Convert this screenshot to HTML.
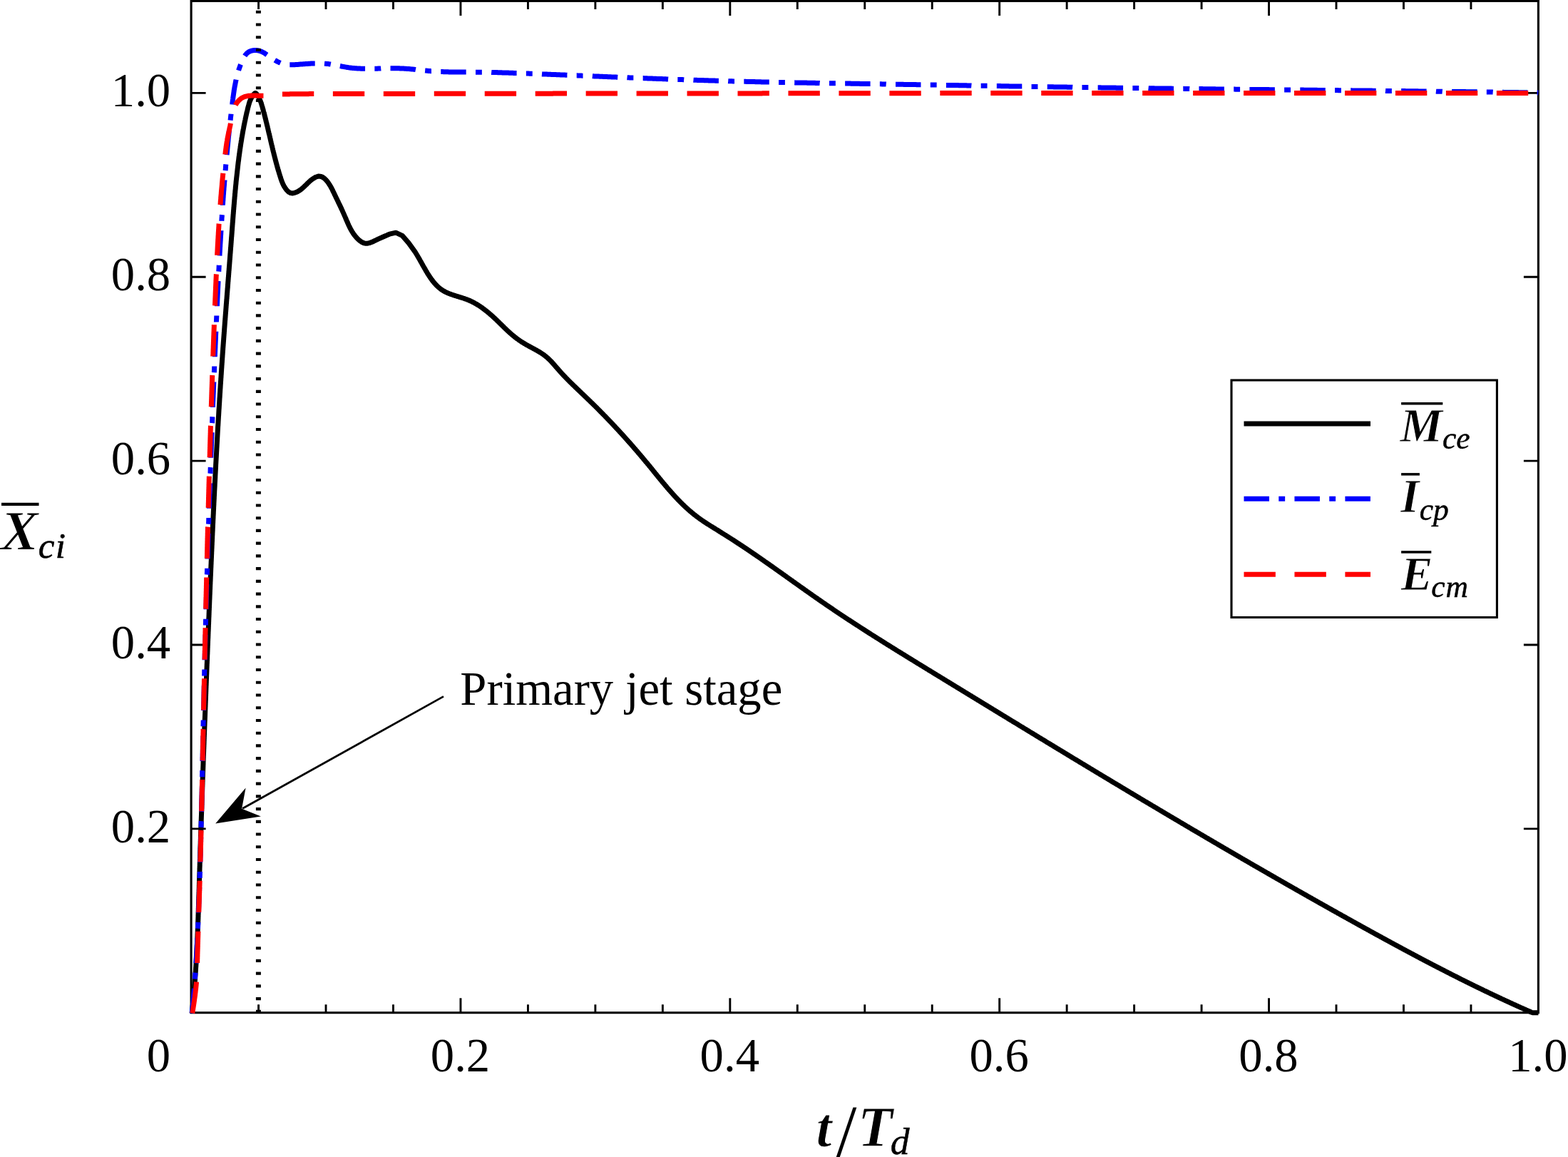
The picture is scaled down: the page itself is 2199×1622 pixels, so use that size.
<!DOCTYPE html>
<html lang="en"><head><meta charset="utf-8"><title>Primary jet stage</title>
<style>
html,body{margin:0;padding:0;background:#fff;}
body{width:2199px;height:1622px;overflow:hidden;}
svg{display:block;}
text{font-family:"Liberation Serif","Times New Roman",serif;fill:#000;}
.tk{font-size:67px;}
.bi{font-style:italic;font-weight:bold;}
.it{font-style:italic;}
</style></head><body>
<svg xmlns="http://www.w3.org/2000/svg" width="2199" height="1622" viewBox="0 0 2199 1622">
<rect x="0" y="0" width="2199" height="1622" fill="#fff"/>

<g fill="none" stroke="#000" stroke-width="3.1">
<rect x="268.1" y="1.4" width="1889.3000000000002" height="1418.3"/>
<path d="M362.57,1419.7 v-11.5 M362.57,1.4 v11.5 M457.03,1419.7 v-11.5 M457.03,1.4 v11.5 M551.50,1419.7 v-11.5 M551.50,1.4 v11.5 M645.96,1419.7 v-20.5 M645.96,1.4 v20.5 M740.43,1419.7 v-11.5 M740.43,1.4 v11.5 M834.89,1419.7 v-11.5 M834.89,1.4 v11.5 M929.36,1419.7 v-11.5 M929.36,1.4 v11.5 M1023.82,1419.7 v-20.5 M1023.82,1.4 v20.5 M1118.29,1419.7 v-11.5 M1118.29,1.4 v11.5 M1212.75,1419.7 v-11.5 M1212.75,1.4 v11.5 M1307.22,1419.7 v-11.5 M1307.22,1.4 v11.5 M1401.68,1419.7 v-20.5 M1401.68,1.4 v20.5 M1496.14,1419.7 v-11.5 M1496.14,1.4 v11.5 M1590.61,1419.7 v-11.5 M1590.61,1.4 v11.5 M1685.08,1419.7 v-11.5 M1685.08,1.4 v11.5 M1779.54,1419.7 v-20.5 M1779.54,1.4 v20.5 M1874.01,1419.7 v-11.5 M1874.01,1.4 v11.5 M1968.47,1419.7 v-11.5 M1968.47,1.4 v11.5 M2062.94,1419.7 v-11.5 M2062.94,1.4 v11.5 M268.1,1161.83 h20.5 M2157.4,1161.83 h-20.5 M268.1,903.95 h20.5 M2157.4,903.95 h-20.5 M268.1,646.08 h20.5 M2157.4,646.08 h-20.5 M268.1,388.21 h20.5 M2157.4,388.21 h-20.5 M268.1,130.34 h20.5 M2157.4,130.34 h-20.5" stroke-width="2.9"/>
</g>
<g fill="none" stroke-linejoin="round">
<path d="M269.1,1420.5 L269.2,1419.6 L269.3,1418.7 L269.4,1417.8 L269.5,1416.9 L269.6,1416.0 L269.7,1415.1 L269.8,1414.2 L269.9,1413.3 L270.0,1412.4 L270.1,1411.5 L270.2,1410.6 L270.3,1409.7 L270.4,1408.8 L270.5,1407.9 L270.6,1407.0 L270.7,1406.1 L270.8,1405.2 L270.9,1404.3 L270.9,1403.4 L271.0,1402.5 L271.1,1401.6 L271.2,1400.7 L271.3,1399.8 L271.4,1398.9 L271.5,1398.0 L271.5,1397.1 L271.6,1396.2 L271.7,1395.3 L271.8,1394.4 L271.9,1393.5 L271.9,1392.6 L272.0,1391.7 L272.1,1390.8 L272.2,1389.9 L272.3,1389.0 L272.3,1388.1 L272.4,1387.2 L272.5,1386.3 L272.6,1385.4 L272.6,1384.5 L272.7,1383.6 L272.8,1382.7 L272.8,1381.8 L272.9,1380.9 L273.0,1380.0 L273.1,1379.1 L273.1,1378.2 L273.2,1377.3 L273.3,1376.4 L273.3,1375.5 L273.4,1374.6 L273.5,1373.7 L273.5,1372.8 L273.6,1371.9 L273.7,1371.0 L273.7,1370.1 L273.8,1369.2 L273.9,1368.3 L273.9,1367.4 L274.0,1366.5 L274.1,1365.6 L274.1,1364.7 L274.2,1363.8 L274.2,1362.9 L274.3,1362.0 L274.4,1361.1 L274.4,1360.2 L274.5,1359.3 L274.5,1358.4 L274.6,1357.5 L274.6,1356.6 L274.7,1355.7 L274.8,1354.8 L274.8,1353.9 L274.9,1353.0 L274.9,1352.1 L275.0,1351.2 L275.0,1350.3 L275.1,1349.4 L275.1,1348.5 L275.2,1347.6 L275.2,1346.7 L275.3,1345.8 L275.3,1344.9 L275.4,1344.0 L275.4,1343.1 L275.5,1342.2 L275.5,1341.3 L275.6,1340.4 L275.6,1339.5 L275.7,1338.6 L275.7,1337.7 L275.8,1336.8 L275.8,1335.9 L275.9,1335.0 L275.9,1334.1 L276.0,1333.2 L276.0,1332.3 L276.1,1331.4 L276.1,1330.5 L276.2,1329.6 L276.2,1328.7 L276.2,1327.8 L276.3,1326.9 L276.3,1326.0 L276.4,1325.1 L276.4,1324.2 L276.5,1323.3 L276.5,1322.4 L276.5,1321.5 L276.6,1320.6 L276.6,1319.7 L276.7,1318.8 L276.7,1317.9 L276.7,1317.0 L276.8,1316.1 L276.8,1315.2 L276.9,1314.3 L276.9,1313.4 L276.9,1312.5 L277.0,1311.6 L277.0,1310.7 L277.0,1309.8 L277.1,1308.9 L277.1,1308.0 L277.2,1307.1 L277.2,1306.1 L277.2,1305.2 L277.3,1304.3 L277.3,1303.4 L277.3,1302.5 L277.4,1301.6 L277.4,1300.7 L277.4,1299.8 L277.5,1298.9 L277.5,1298.0 L277.5,1297.1 L277.6,1296.2 L277.6,1295.3 L277.6,1294.4 L277.7,1293.5 L277.7,1292.6 L277.7,1291.7 L277.8,1290.8 L277.8,1289.9 L277.8,1289.0 L277.9,1288.1 L277.9,1287.2 L277.9,1286.3 L278.0,1285.4 L278.0,1284.5 L278.0,1283.6 L278.0,1282.7 L278.1,1281.8 L278.1,1280.9 L278.1,1280.0 L278.2,1279.1 L278.2,1278.2 L278.2,1277.3 L278.3,1276.4 L278.3,1275.5 L278.3,1274.6 L278.3,1273.7 L278.4,1272.8 L278.4,1271.9 L278.4,1271.0 L278.5,1270.1 L278.5,1269.2 L278.5,1268.3 L278.5,1267.3 L278.6,1266.4 L278.6,1265.5 L278.6,1264.6 L278.7,1263.7 L278.7,1262.8 L278.7,1261.9 L278.7,1261.0 L278.8,1260.1 L278.8,1259.2 L278.8,1258.3 L278.8,1257.4 L278.9,1256.5 L278.9,1255.6 L278.9,1254.7 L279.0,1253.8 L279.0,1252.9 L279.0,1252.0 L279.0,1251.1 L279.1,1250.2 L279.1,1249.3 L279.1,1248.4 L279.1,1247.5 L279.2,1246.6 L279.2,1245.7 L279.2,1244.8 L279.3,1243.9 L279.3,1243.0 L279.3,1242.1 L279.3,1241.2 L279.4,1240.3 L279.4,1239.4 L279.4,1238.5 L279.4,1237.6 L279.5,1236.7 L279.5,1235.8 L279.5,1234.9 L279.5,1234.0 L279.6,1233.1 L279.6,1232.1 L279.6,1231.2 L279.7,1230.3 L279.7,1229.4 L279.7,1228.5 L279.7,1227.6 L279.8,1226.7 L279.8,1225.8 L279.8,1224.9 L279.9,1224.0 L279.9,1223.1 L279.9,1222.2 L279.9,1221.3 L280.0,1220.4 L280.0,1219.5 L280.0,1218.6 L280.0,1217.7 L280.1,1216.8 L280.1,1215.9 L280.1,1215.0 L280.2,1214.1 L280.2,1213.2 L280.2,1212.3 L280.2,1211.4 L280.3,1210.5 L280.3,1209.6 L280.3,1208.7 L280.4,1207.8 L280.4,1206.9 L280.4,1206.0 L280.4,1205.1 L280.5,1204.2 L280.5,1203.3 L280.5,1202.4 L280.5,1201.5 L280.6,1200.6 L280.6,1199.7 L280.6,1198.8 L280.7,1197.9 L280.7,1197.0 L280.7,1196.0 L280.7,1195.1 L280.8,1194.2 L280.8,1193.3 L280.8,1192.4 L280.9,1191.5 L280.9,1190.6 L280.9,1189.7 L280.9,1188.8 L281.0,1187.9 L281.0,1187.0 L281.0,1186.1 L281.1,1185.2 L281.1,1184.3 L281.1,1183.4 L281.2,1182.5 L281.2,1181.6 L281.2,1180.7 L281.2,1179.8 L281.3,1178.9 L281.3,1178.0 L281.3,1177.1 L281.4,1176.2 L281.4,1175.3 L281.4,1174.4 L281.4,1173.5 L281.5,1172.6 L281.5,1171.7 L281.5,1170.8 L281.6,1169.9 L281.6,1169.0 L281.6,1168.1 L281.6,1167.2 L281.7,1166.3 L281.7,1165.4 L281.7,1164.5 L281.8,1163.6 L281.8,1162.7 L281.8,1161.8 L281.9,1160.9 L281.9,1160.0 L281.9,1159.1 L281.9,1158.1 L282.0,1157.2 L282.0,1156.3 L282.0,1155.4 L282.1,1154.5 L282.1,1153.6 L282.1,1152.7 L282.2,1151.8 L282.2,1150.9 L282.2,1150.0 L282.2,1149.1 L282.3,1148.2 L282.3,1147.3 L282.3,1146.4 L282.4,1145.5 L282.4,1144.6 L282.4,1143.7 L282.5,1142.8 L282.5,1141.9 L282.5,1141.0 L282.6,1140.1 L282.6,1139.2 L282.6,1138.3 L282.6,1137.4 L282.7,1136.5 L282.7,1135.6 L282.7,1134.7 L282.8,1133.8 L282.8,1132.9 L282.8,1132.0 L282.9,1131.1 L282.9,1130.2 L282.9,1129.3 L283.0,1128.4 L283.0,1127.5 L283.0,1126.6 L283.0,1125.7 L283.1,1124.8 L283.1,1123.9 L283.1,1123.0 L283.2,1122.1 L283.2,1121.2 L283.2,1120.3 L283.3,1119.4 L283.3,1118.5 L283.3,1117.5 L283.4,1116.6 L283.4,1115.7 L283.4,1114.8 L283.4,1113.9 L283.5,1113.0 L283.5,1112.1 L283.5,1111.2 L283.6,1110.3 L283.6,1109.4 L283.6,1108.5 L283.7,1107.6 L283.7,1106.7 L283.7,1105.8 L283.8,1104.9 L283.8,1104.0 L283.8,1103.1 L283.9,1102.2 L283.9,1101.3 L283.9,1100.4 L284.0,1099.5 L284.0,1098.6 L284.0,1097.7 L284.0,1096.8 L284.1,1095.9 L284.1,1095.0 L284.1,1094.1 L284.2,1093.2 L284.2,1092.3 L284.2,1091.4 L284.3,1090.5 L284.3,1089.6 L284.3,1088.7 L284.4,1087.8 L284.4,1086.9 L284.4,1086.0 L284.5,1085.1 L284.5,1084.2 L284.5,1083.3 L284.6,1082.4 L284.6,1081.5 L284.6,1080.6 L284.7,1079.7 L284.7,1078.8 L284.7,1077.9 L284.8,1077.0 L284.8,1076.1 L284.8,1075.1 L284.9,1074.2 L284.9,1073.3 L284.9,1072.4 L285.0,1071.5 L285.0,1070.6 L285.0,1069.7 L285.0,1068.8 L285.1,1067.9 L285.1,1067.0 L285.1,1066.1 L285.2,1065.2 L285.2,1064.3 L285.2,1063.4 L285.3,1062.5 L285.3,1061.6 L285.3,1060.7 L285.4,1059.8 L285.4,1058.9 L285.4,1058.0 L285.5,1057.1 L285.5,1056.2 L285.5,1055.3 L285.6,1054.4 L285.6,1053.5 L285.6,1052.6 L285.7,1051.7 L285.7,1050.8 L285.7,1049.9 L285.8,1049.0 L285.8,1048.1 L285.8,1047.2 L285.9,1046.3 L285.9,1045.4 L285.9,1044.5 L286.0,1043.6 L286.0,1042.7 L286.0,1041.8 L286.1,1040.9 L286.1,1040.0 L286.1,1039.1 L286.2,1038.2 L286.2,1037.3 L286.2,1036.4 L286.3,1035.5 L286.3,1034.6 L286.3,1033.7 L286.4,1032.7 L286.4,1031.8 L286.4,1030.9 L286.5,1030.0 L286.5,1029.1 L286.5,1028.2 L286.6,1027.3 L286.6,1026.4 L286.6,1025.5 L286.7,1024.6 L286.7,1023.7 L286.7,1022.8 L286.8,1021.9 L286.8,1021.0 L286.8,1020.1 L286.9,1019.2 L286.9,1018.3 L286.9,1017.4 L287.0,1016.5 L287.0,1015.6 L287.0,1014.7 L287.1,1013.8 L287.1,1012.9 L287.1,1012.0 L287.2,1011.1 L287.2,1010.2 L287.3,1009.3 L287.3,1008.4 L287.3,1007.5 L287.4,1006.6 L287.4,1005.7 L287.4,1004.8 L287.5,1003.9 L287.5,1003.0 L287.5,1002.1 L287.6,1001.2 L287.6,1000.3 L287.6,999.4 L287.7,998.5 L287.7,997.6 L287.7,996.7 L287.8,995.8 L287.8,994.9 L287.8,994.0 L287.9,993.1 L287.9,992.2 L287.9,991.3 L288.0,990.4 L288.0,989.5 L288.0,988.5 L288.1,987.6 L288.1,986.7 L288.1,985.8 L288.2,984.9 L288.2,984.0 L288.2,983.1 L288.3,982.2 L288.3,981.3 L288.4,980.4 L288.4,979.5 L288.4,978.6 L288.5,977.7 L288.5,976.8 L288.5,975.9 L288.6,975.0 L288.6,974.1 L288.6,973.2 L288.7,972.3 L288.7,971.4 L288.7,970.5 L288.8,969.6 L288.8,968.7 L288.8,967.8 L288.9,966.9 L288.9,966.0 L288.9,965.1 L289.0,964.2 L289.0,963.3 L289.0,962.4 L289.1,961.5 L289.1,960.6 L289.2,959.7 L289.2,958.8 L289.2,957.9 L289.3,957.0 L289.3,956.1 L289.3,955.2 L289.4,954.3 L289.4,953.4 L289.4,952.5 L289.5,951.6 L289.5,950.7 L289.5,949.8 L289.6,948.9 L289.6,948.0 L289.6,947.1 L289.7,946.2 L289.7,945.2 L289.8,944.3 L289.8,943.4 L289.8,942.5 L289.9,941.6 L289.9,940.7 L289.9,939.8 L290.0,938.9 L290.0,938.0 L290.0,937.1 L290.1,936.2 L290.1,935.3 L290.1,934.4 L290.2,933.5 L290.2,932.6 L290.2,931.7 L290.3,930.8 L290.3,929.9 L290.4,929.0 L290.4,928.1 L290.4,927.2 L290.5,926.3 L290.5,925.4 L290.5,924.5 L290.6,923.6 L290.6,922.7 L290.6,921.8 L290.7,920.9 L290.7,920.0 L290.7,919.1 L290.8,918.2 L290.8,917.3 L290.9,916.4 L290.9,915.5 L290.9,914.6 L291.0,913.7 L291.0,912.8 L291.0,911.9 L291.1,911.0 L291.1,910.1 L291.1,909.2 L291.2,908.3 L291.2,907.4 L291.2,906.5 L291.3,905.6 L291.3,904.7 L291.4,903.8 L291.4,902.8 L291.4,901.9 L291.5,901.0 L291.5,900.1 L291.5,899.2 L291.6,898.3 L291.6,897.4 L291.6,896.5 L291.7,895.6 L291.7,894.7 L291.8,893.8 L291.8,892.9 L291.8,892.0 L291.9,891.1 L291.9,890.2 L291.9,889.3 L292.0,888.4 L292.0,887.5 L292.0,886.6 L292.1,885.7 L292.1,884.8 L292.2,883.9 L292.2,883.0 L292.2,882.1 L292.3,881.2 L292.3,880.3 L292.3,879.4 L292.4,878.5 L292.4,877.6 L292.4,876.7 L292.5,875.8 L292.5,874.9 L292.6,874.0 L292.6,873.1 L292.6,872.2 L292.7,871.3 L292.7,870.4 L292.7,869.5 L292.8,868.6 L292.8,867.7 L292.8,866.8 L292.9,865.9 L292.9,865.0 L293.0,864.1 L293.0,863.2 L293.0,862.3 L293.1,861.4 L293.1,860.4 L293.1,859.5 L293.2,858.6 L293.2,857.7 L293.2,856.8 L293.3,855.9 L293.3,855.0 L293.4,854.1 L293.4,853.2 L293.4,852.3 L293.5,851.4 L293.5,850.5 L293.5,849.6 L293.6,848.7 L293.6,847.8 L293.7,846.9 L293.7,846.0 L293.7,845.1 L293.8,844.2 L293.8,843.3 L293.8,842.4 L293.9,841.5 L293.9,840.6 L294.0,839.7 L294.0,838.8 L294.0,837.9 L294.1,837.0 L294.1,836.1 L294.1,835.2 L294.2,834.3 L294.2,833.4 L294.3,832.5 L294.3,831.6 L294.3,830.7 L294.4,829.8 L294.4,828.9 L294.4,828.0 L294.5,827.1 L294.5,826.2 L294.6,825.3 L294.6,824.4 L294.6,823.5 L294.7,822.6 L294.7,821.7 L294.7,820.8 L294.8,819.8 L294.8,818.9 L294.9,818.0 L294.9,817.1 L294.9,816.2 L295.0,815.3 L295.0,814.4 L295.1,813.5 L295.1,812.6 L295.1,811.7 L295.2,810.8 L295.2,809.9 L295.2,809.0 L295.3,808.1 L295.3,807.2 L295.4,806.3 L295.4,805.4 L295.4,804.5 L295.5,803.6 L295.5,802.7 L295.6,801.8 L295.6,800.9 L295.6,800.0 L295.7,799.1 L295.7,798.2 L295.7,797.3 L295.8,796.4 L295.8,795.5 L295.9,794.6 L295.9,793.7 L295.9,792.8 L296.0,791.9 L296.0,791.0 L296.1,790.1 L296.1,789.2 L296.1,788.3 L296.2,787.4 L296.2,786.5 L296.3,785.6 L296.3,784.7 L296.3,783.8 L296.4,782.9 L296.4,782.0 L296.5,781.1 L296.5,780.2 L296.5,779.3 L296.6,778.4 L296.6,777.4 L296.7,776.5 L296.7,775.6 L296.7,774.7 L296.8,773.8 L296.8,772.9 L296.9,772.0 L296.9,771.1 L296.9,770.2 L297.0,769.3 L297.0,768.4 L297.1,767.5 L297.1,766.6 L297.1,765.7 L297.2,764.8 L297.2,763.9 L297.3,763.0 L297.3,762.1 L297.3,761.2 L297.4,760.3 L297.4,759.4 L297.5,758.5 L297.5,757.6 L297.5,756.7 L297.6,755.8 L297.6,754.9 L297.7,754.0 L297.7,753.1 L297.7,752.2 L297.8,751.3 L297.8,750.4 L297.9,749.5 L297.9,748.6 L297.9,747.7 L298.0,746.8 L298.0,745.9 L298.1,745.0 L298.1,744.1 L298.2,743.2 L298.2,742.3 L298.2,741.4 L298.3,740.5 L298.3,739.6 L298.4,738.7 L298.4,737.8 L298.4,736.9 L298.5,736.0 L298.5,735.1 L298.6,734.1 L298.6,733.2 L298.7,732.3 L298.7,731.4 L298.7,730.5 L298.8,729.6 L298.8,728.7 L298.9,727.8 L298.9,726.9 L299.0,726.0 L299.0,725.1 L299.0,724.2 L299.1,723.3 L299.1,722.4 L299.2,721.5 L299.2,720.6 L299.3,719.7 L299.3,718.8 L299.3,717.9 L299.4,717.0 L299.4,716.1 L299.5,715.2 L299.5,714.3 L299.6,713.4 L299.6,712.5 L299.6,711.6 L299.7,710.7 L299.7,709.8 L299.8,708.9 L299.8,708.0 L299.9,707.1 L299.9,706.2 L299.9,705.3 L300.0,704.4 L300.0,703.5 L300.1,702.6 L300.1,701.7 L300.2,700.8 L300.2,699.9 L300.3,699.0 L300.3,698.1 L300.3,697.2 L300.4,696.3 L300.4,695.4 L300.5,694.5 L300.5,693.6 L300.6,692.7 L300.6,691.8 L300.7,690.9 L300.7,690.0 L300.7,689.1 L300.8,688.2 L300.8,687.3 L300.9,686.3 L300.9,685.4 L301.0,684.5 L301.0,683.6 L301.1,682.7 L301.1,681.8 L301.2,680.9 L301.2,680.0 L301.2,679.1 L301.3,678.2 L301.3,677.3 L301.4,676.4 L301.4,675.5 L301.5,674.6 L301.5,673.7 L301.6,672.8 L301.6,671.9 L301.7,671.0 L301.7,670.1 L301.8,669.2 L301.8,668.3 L301.8,667.4 L301.9,666.5 L301.9,665.6 L302.0,664.7 L302.0,663.8 L302.1,662.9 L302.1,662.0 L302.2,661.1 L302.2,660.2 L302.3,659.3 L302.3,658.4 L302.4,657.5 L302.4,656.6 L302.5,655.7 L302.5,654.8 L302.6,653.9 L302.6,653.0 L302.6,652.1 L302.7,651.2 L302.7,650.3 L302.8,649.4 L302.8,648.5 L302.9,647.6 L302.9,646.7 L303.0,645.8 L303.0,644.9 L303.1,644.0 L303.1,643.1 L303.2,642.2 L303.2,641.3 L303.3,640.4 L303.3,639.5 L303.4,638.6 L303.4,637.7 L303.5,636.8 L303.5,635.9 L303.6,635.0 L303.6,634.1 L303.7,633.2 L303.7,632.3 L303.8,631.3 L303.8,630.4 L303.9,629.5 L303.9,628.6 L304.0,627.7 L304.0,626.8 L304.1,625.9 L304.1,625.0 L304.2,624.1 L304.2,623.2 L304.3,622.3 L304.3,621.4 L304.4,620.5 L304.4,619.6 L304.5,618.7 L304.5,617.8 L304.6,616.9 L304.6,616.0 L304.7,615.1 L304.7,614.2 L304.8,613.3 L304.8,612.4 L304.9,611.5 L304.9,610.6 L305.0,609.7 L305.0,608.8 L305.1,607.9 L305.1,607.0 L305.2,606.1 L305.2,605.2 L305.3,604.3 L305.3,603.4 L305.4,602.5 L305.4,601.6 L305.5,600.7 L305.5,599.8 L305.6,598.9 L305.6,598.0 L305.7,597.1 L305.8,596.2 L305.8,595.3 L305.9,594.4 L305.9,593.5 L306.0,592.6 L306.0,591.7 L306.1,590.8 L306.1,589.9 L306.2,589.0 L306.2,588.1 L306.3,587.2 L306.3,586.3 L306.4,585.4 L306.4,584.5 L306.5,583.6 L306.6,582.7 L306.6,581.8 L306.7,580.9 L306.7,580.0 L306.8,579.1 L306.8,578.2 L306.9,577.3 L306.9,576.4 L307.0,575.5 L307.0,574.6 L307.1,573.7 L307.2,572.8 L307.2,571.9 L307.3,571.0 L307.3,570.1 L307.4,569.2 L307.4,568.3 L307.5,567.4 L307.5,566.5 L307.6,565.6 L307.7,564.7 L307.7,563.8 L307.8,562.9 L307.8,562.0 L307.9,561.1 L307.9,560.2 L308.0,559.3 L308.0,558.4 L308.1,557.5 L308.2,556.6 L308.2,555.6 L308.3,554.7 L308.3,553.8 L308.4,552.9 L308.4,552.0 L308.5,551.1 L308.6,550.2 L308.6,549.3 L308.7,548.4 L308.7,547.5 L308.8,546.6 L308.8,545.7 L308.9,544.8 L309.0,543.9 L309.0,543.0 L309.1,542.1 L309.1,541.2 L309.2,540.3 L309.2,539.4 L309.3,538.5 L309.4,537.6 L309.4,536.7 L309.5,535.8 L309.5,534.9 L309.6,534.0 L309.7,533.1 L309.7,532.2 L309.8,531.3 L309.8,530.4 L309.9,529.5 L310.0,528.6 L310.0,527.7 L310.1,526.8 L310.1,525.9 L310.2,525.0 L310.3,524.1 L310.3,523.2 L310.4,522.3 L310.4,521.4 L310.5,520.5 L310.6,519.6 L310.6,518.7 L310.7,517.8 L310.7,516.9 L310.8,516.0 L310.9,515.1 L310.9,514.2 L311.0,513.3 L311.0,512.4 L311.1,511.5 L311.2,510.6 L311.2,509.7 L311.3,508.8 L311.4,507.9 L311.4,507.0 L311.5,506.1 L311.5,505.2 L311.6,504.3 L311.7,503.4 L311.7,502.5 L311.8,501.6 L311.9,500.7 L311.9,499.8 L312.0,498.9 L312.0,498.0 L312.1,497.1 L312.2,496.2 L312.2,495.3 L312.3,494.4 L312.4,493.5 L312.4,492.6 L312.5,491.7 L312.6,490.8 L312.6,489.9 L312.7,489.0 L312.7,488.1 L312.8,487.2 L312.9,486.3 L312.9,485.4 L313.0,484.5 L313.1,483.6 L313.1,482.7 L313.2,481.8 L313.3,480.9 L313.3,480.0 L313.4,479.1 L313.5,478.2 L313.5,477.3 L313.6,476.4 L313.7,475.5 L313.7,474.6 L313.8,473.7 L313.9,472.8 L313.9,471.9 L314.0,471.0 L314.1,470.1 L314.1,469.2 L314.2,468.3 L314.3,467.4 L314.3,466.5 L314.4,465.6 L314.5,464.7 L314.5,463.8 L314.6,462.9 L314.7,462.0 L314.7,461.1 L314.8,460.2 L314.9,459.3 L314.9,458.4 L315.0,457.5 L315.1,456.6 L315.1,455.7 L315.2,454.8 L315.3,453.9 L315.3,453.0 L315.4,452.1 L315.5,451.2 L315.5,450.3 L315.6,449.4 L315.7,448.5 L315.8,447.6 L315.8,446.7 L315.9,445.8 L316.0,444.9 L316.0,444.0 L316.1,443.1 L316.2,442.2 L316.2,441.3 L316.3,440.4 L316.4,439.5 L316.4,438.6 L316.5,437.7 L316.6,436.8 L316.7,435.9 L316.7,435.0 L316.8,434.1 L316.9,433.2 L316.9,432.3 L317.0,431.4 L317.1,430.5 L317.1,429.6 L317.2,428.7 L317.3,427.8 L317.3,426.9 L317.4,426.0 L317.5,425.1 L317.6,424.2 L317.6,423.3 L317.7,422.4 L317.8,421.5 L317.8,420.6 L317.9,419.7 L318.0,418.8 L318.1,417.9 L318.1,417.0 L318.2,416.1 L318.3,415.2 L318.3,414.3 L318.4,413.4 L318.5,412.5 L318.5,411.6 L318.6,410.7 L318.7,409.8 L318.8,408.9 L318.8,408.0 L318.9,407.1 L319.0,406.2 L319.0,405.3 L319.1,404.4 L319.2,403.5 L319.3,402.6 L319.3,401.7 L319.4,400.8 L319.5,399.9 L319.5,399.0 L319.6,398.1 L319.7,397.2 L319.7,396.3 L319.8,395.4 L319.9,394.5 L320.0,393.6 L320.0,392.7 L320.1,391.8 L320.2,390.9 L320.2,390.0 L320.3,389.1 L320.4,388.2 L320.5,387.3 L320.5,386.4 L320.6,385.5 L320.7,384.6 L320.7,383.7 L320.8,382.8 L320.9,381.9 L320.9,381.0 L321.0,380.1 L321.1,379.2 L321.2,378.3 L321.2,377.4 L321.3,376.5 L321.4,375.6 L321.4,374.7 L321.5,373.8 L321.6,372.9 L321.7,372.0 L321.7,371.1 L321.8,370.2 L321.9,369.3 L321.9,368.4 L322.0,367.5 L322.1,366.6 L322.1,365.7 L322.2,364.8 L322.3,363.9 L322.4,363.0 L322.4,362.1 L322.5,361.2 L322.6,360.3 L322.6,359.4 L322.7,358.5 L322.8,357.6 L322.8,356.7 L322.9,355.8 L323.0,354.9 L323.1,354.0 L323.1,353.1 L323.2,352.2 L323.3,351.3 L323.3,350.4 L323.4,349.5 L323.5,348.6 L323.5,347.7 L323.6,346.8 L323.7,345.9 L323.8,345.0 L323.8,344.1 L323.9,343.2 L324.0,342.3 L324.0,341.4 L324.1,340.5 L324.2,339.6 L324.2,338.7 L324.3,337.8 L324.4,336.9 L324.4,336.0 L324.5,335.1 L324.6,334.2 L324.6,333.3 L324.7,332.4 L324.8,331.5 L324.9,330.6 L324.9,329.7 L325.0,328.8 L325.1,327.9 L325.1,327.0 L325.2,326.1 L325.3,325.2 L325.3,324.2 L325.4,323.3 L325.5,322.4 L325.5,321.5 L325.6,320.6 L325.7,319.7 L325.7,318.8 L325.8,317.9 L325.9,317.0 L325.9,316.1 L326.0,315.2 L326.1,314.3 L326.1,313.4 L326.2,312.5 L326.3,311.6 L326.4,310.7 L326.4,309.8 L326.5,308.9 L326.6,308.0 L326.6,307.1 L326.7,306.2 L326.8,305.3 L326.8,304.4 L326.9,303.5 L327.0,302.6 L327.0,301.7 L327.1,300.8 L327.2,299.9 L327.3,299.0 L327.3,298.1 L327.4,297.2 L327.5,296.3 L327.5,295.4 L327.6,294.5 L327.7,293.6 L327.8,292.7 L327.8,291.8 L327.9,290.9 L328.0,290.0 L328.1,289.1 L328.1,288.2 L328.2,287.3 L328.3,286.4 L328.4,285.5 L328.4,284.6 L328.5,283.7 L328.6,282.8 L328.7,281.9 L328.7,281.0 L328.8,280.1 L328.9,279.2 L329.0,278.3 L329.0,277.4 L329.1,276.5 L329.2,275.6 L329.3,274.7 L329.4,273.8 L329.4,272.9 L329.5,272.0 L329.6,271.1 L329.7,270.2 L329.8,269.3 L329.8,268.4 L329.9,267.5 L330.0,266.6 L330.1,265.7 L330.2,264.8 L330.3,263.9 L330.3,263.0 L330.4,262.1 L330.5,261.2 L330.6,260.3 L330.7,259.4 L330.8,258.5 L330.9,257.6 L331.0,256.7 L331.0,255.8 L331.1,254.9 L331.2,254.0 L331.3,253.1 L331.4,252.2 L331.5,251.3 L331.6,250.4 L331.7,249.5 L331.8,248.6 L331.9,247.8 L332.0,246.9 L332.1,246.0 L332.2,245.1 L332.3,244.2 L332.4,243.3 L332.5,242.4 L332.6,241.5 L332.7,240.6 L332.8,239.7 L332.9,238.8 L333.0,237.9 L333.1,237.0 L333.2,236.1 L333.3,235.2 L333.4,234.3 L333.5,233.4 L333.6,232.5 L333.7,231.6 L333.8,230.7 L333.9,229.8 L334.0,229.0 L334.1,228.1 L334.2,227.2 L334.3,226.3 L334.5,225.4 L334.6,224.5 L334.7,223.6 L334.8,222.7 L334.9,221.8 L335.0,220.9 L335.1,220.0 L335.3,219.1 L335.4,218.2 L335.5,217.3 L335.6,216.5 L335.7,215.6 L335.9,214.7 L336.0,213.8 L336.1,212.9 L336.2,212.0 L336.4,211.1 L336.5,210.2 L336.6,209.3 L336.7,208.4 L336.9,207.5 L337.0,206.7 L337.1,205.8 L337.3,204.9 L337.4,204.0 L337.5,203.1 L337.7,202.2 L337.8,201.3 L337.9,200.4 L338.1,199.5 L338.2,198.6 L338.4,197.8 L338.5,196.9 L338.7,196.0 L338.8,195.1 L338.9,194.2 L339.1,193.3 L339.2,192.4 L339.4,191.5 L339.5,190.6 L339.7,189.8 L339.9,188.9 L340.0,188.0 L340.2,187.1 L340.3,186.2 L340.5,185.3 L340.6,184.4 L340.8,183.5 L341.0,182.6 L341.1,181.8 L341.3,180.9 L341.5,180.0 L341.6,179.1 L341.8,178.2 L342.0,177.3 L342.1,176.4 L342.3,175.5 L342.5,174.7 L342.7,173.8 L342.9,172.9 L343.0,172.0 L343.2,171.1 L343.4,170.2 L343.6,169.3 L343.8,168.4 L344.0,167.5 L344.1,166.7 L344.3,165.8 L344.5,164.9 L344.7,164.0 L344.9,163.1 L345.1,162.2 L345.3,161.3 L345.5,160.4 L345.7,159.5 L345.9,158.7 L346.1,157.8 L346.3,156.9 L346.5,156.0 L346.8,155.1 L347.0,154.2 L347.2,153.3 L347.4,152.4 L347.6,151.5 L347.8,150.7 L348.1,149.8 L348.3,148.9 L348.5,148.0 L348.8,147.1 L349.0,146.2 L349.3,145.4 L349.5,144.5 L349.8,143.6 L350.1,142.8 L350.4,141.9 L350.8,141.1 L351.1,140.2 L351.5,139.4 L351.9,138.6 L352.3,137.8 L352.7,137.0 L353.2,136.2 L353.6,135.4 L354.1,134.7 L354.7,133.9 L356.4,131.7 L357.3,130.9 L358.1,130.6 L358.9,130.9 L359.8,131.7 L361.6,134.4 L362.1,135.2 L362.5,136.0 L363.0,136.8 L363.4,137.6 L363.8,138.4 L364.2,139.2 L364.5,140.0 L364.9,140.8 L365.2,141.7 L365.6,142.5 L365.9,143.4 L366.2,144.2 L366.5,145.1 L366.7,146.0 L367.0,146.9 L367.3,147.7 L367.5,148.6 L367.8,149.5 L368.1,150.4 L368.3,151.3 L368.5,152.2 L368.8,153.0 L369.0,153.9 L369.3,154.8 L369.5,155.7 L369.7,156.6 L370.0,157.5 L370.2,158.3 L370.5,159.2 L370.7,160.1 L370.9,161.0 L371.1,161.9 L371.4,162.8 L371.6,163.6 L371.8,164.5 L372.0,165.4 L372.3,166.3 L372.5,167.2 L372.7,168.0 L372.9,168.9 L373.1,169.8 L373.4,170.7 L373.6,171.6 L373.8,172.4 L374.0,173.3 L374.2,174.2 L374.4,175.1 L374.6,175.9 L374.9,176.8 L375.1,177.7 L375.3,178.6 L375.5,179.5 L375.7,180.3 L375.9,181.2 L376.1,182.1 L376.3,183.0 L376.5,183.8 L376.7,184.7 L376.9,185.6 L377.1,186.5 L377.3,187.3 L377.6,188.2 L377.8,189.1 L378.0,190.0 L378.2,190.8 L378.4,191.7 L378.6,192.6 L378.8,193.5 L379.0,194.3 L379.2,195.2 L379.4,196.1 L379.6,197.0 L379.8,197.8 L380.0,198.7 L380.2,199.6 L380.4,200.5 L380.6,201.3 L380.8,202.2 L381.0,203.1 L381.3,204.0 L381.5,204.8 L381.7,205.7 L381.9,206.6 L382.1,207.5 L382.3,208.3 L382.5,209.2 L382.7,210.1 L382.9,210.9 L383.1,211.8 L383.4,212.7 L383.6,213.6 L383.8,214.4 L384.0,215.3 L384.2,216.2 L384.4,217.1 L384.7,217.9 L384.9,218.8 L385.1,219.7 L385.3,220.6 L385.6,221.4 L385.8,222.3 L386.0,223.2 L386.2,224.1 L386.5,224.9 L386.7,225.8 L386.9,226.7 L387.2,227.6 L387.4,228.4 L387.6,229.3 L387.9,230.2 L388.1,231.1 L388.4,231.9 L388.6,232.8 L388.8,233.7 L389.1,234.5 L389.3,235.4 L389.6,236.3 L389.8,237.2 L390.1,238.0 L390.3,238.9 L390.6,239.8 L390.9,240.6 L391.1,241.5 L391.4,242.4 L391.6,243.3 L391.9,244.1 L392.2,245.0 L392.5,245.9 L392.7,246.7 L393.0,247.6 L393.3,248.5 L393.6,249.3 L393.8,250.2 L394.1,251.0 L394.4,251.9 L394.7,252.8 L395.0,253.6 L395.3,254.5 L395.7,255.3 L396.0,256.1 L396.4,257.0 L396.7,257.8 L397.1,258.6 L397.5,259.4 L397.9,260.2 L398.3,261.0 L398.8,261.8 L399.3,262.5 L399.7,263.3 L400.3,264.0 L400.8,264.8 L401.3,265.5 L401.9,266.2 L402.5,266.9 L403.2,267.6 L403.8,268.2 L404.5,268.8 L405.2,269.3 L406.0,269.7 L406.7,270.1 L407.5,270.5 L408.4,270.7 L409.2,270.8 L410.1,270.9 L411.0,270.8 L411.9,270.6 L412.8,270.4 L413.7,270.1 L414.6,269.8 L415.5,269.5 L416.3,269.1 L417.2,268.7 L418.0,268.2 L418.8,267.8 L419.6,267.3 L420.3,266.8 L421.1,266.3 L421.8,265.7 L422.6,265.2 L423.3,264.6 L424.0,264.0 L424.6,263.4 L425.3,262.8 L426.0,262.2 L426.6,261.6 L427.2,261.0 L427.9,260.4 L428.5,259.8 L429.1,259.2 L429.8,258.6 L430.4,257.9 L431.0,257.3 L431.6,256.7 L432.3,256.1 L432.9,255.5 L433.6,254.9 L434.3,254.2 L434.9,253.6 L435.6,253.0 L436.4,252.4 L437.1,251.9 L437.9,251.3 L438.7,250.7 L439.5,250.2 L440.3,249.7 L441.1,249.2 L441.9,248.7 L442.8,248.3 L443.6,248.0 L444.5,247.7 L445.3,247.4 L446.1,247.2 L447.0,247.1 L447.8,247.1 L448.6,247.2 L449.4,247.3 L450.2,247.5 L451.0,247.7 L451.7,248.1 L452.5,248.4 L453.2,248.9 L453.9,249.4 L454.6,249.9 L455.3,250.5 L456.0,251.1 L456.7,251.8 L457.3,252.5 L458.0,253.2 L458.6,253.9 L459.2,254.7 L459.8,255.5 L460.3,256.2 L460.9,257.0 L461.4,257.8 L461.9,258.6 L462.4,259.4 L462.9,260.2 L463.4,261.0 L463.9,261.8 L464.3,262.6 L464.7,263.4 L465.2,264.2 L465.6,265.0 L466.0,265.8 L466.4,266.6 L466.8,267.4 L467.1,268.2 L467.5,268.9 L467.9,269.7 L468.3,270.5 L468.7,271.3 L469.0,272.1 L469.4,272.9 L469.8,273.7 L470.2,274.5 L470.6,275.3 L470.9,276.1 L471.3,276.9 L471.7,277.7 L472.1,278.5 L472.5,279.3 L472.9,280.1 L473.3,281.0 L473.7,281.8 L474.1,282.6 L474.4,283.4 L474.8,284.2 L475.2,285.0 L475.6,285.8 L476.0,286.6 L476.4,287.4 L476.8,288.3 L477.2,289.1 L477.6,289.9 L478.0,290.7 L478.3,291.5 L478.7,292.4 L479.1,293.2 L479.5,294.0 L479.9,294.8 L480.3,295.7 L480.6,296.5 L481.0,297.3 L481.4,298.2 L481.8,299.0 L482.1,299.8 L482.5,300.7 L482.9,301.5 L483.2,302.3 L483.6,303.2 L484.0,304.0 L484.3,304.8 L484.7,305.7 L485.0,306.5 L485.4,307.4 L485.7,308.2 L486.1,309.0 L486.5,309.9 L486.8,310.7 L487.2,311.6 L487.6,312.4 L487.9,313.2 L488.3,314.0 L488.7,314.9 L489.0,315.7 L489.4,316.5 L489.8,317.3 L490.2,318.1 L490.6,318.9 L491.0,319.8 L491.4,320.5 L491.8,321.3 L492.3,322.1 L492.7,322.9 L493.2,323.7 L493.6,324.5 L494.1,325.2 L494.6,326.0 L495.0,326.7 L495.5,327.5 L496.0,328.2 L496.6,328.9 L497.1,329.6 L497.6,330.3 L498.2,331.0 L498.8,331.7 L499.4,332.4 L500.0,333.1 L500.6,333.7 L501.2,334.4 L501.8,335.0 L502.5,335.6 L503.2,336.3 L503.9,336.9 L504.6,337.4 L505.3,338.0 L506.1,338.5 L506.8,339.0 L507.6,339.5 L508.4,339.9 L509.2,340.3 L510.0,340.6 L510.8,340.9 L511.7,341.1 L512.5,341.2 L513.4,341.3 L514.2,341.3 L515.1,341.2 L516.0,341.1 L516.9,340.9 L517.8,340.7 L518.6,340.4 L519.5,340.1 L520.4,339.8 L521.3,339.4 L522.2,339.1 L523.1,338.7 L524.0,338.3 L524.8,337.8 L525.7,337.4 L526.5,337.0 L527.4,336.6 L528.2,336.2 L529.0,335.8 L529.8,335.4 L530.6,335.0 L531.4,334.7 L532.2,334.3 L533.0,334.0 L533.8,333.6 L534.6,333.3 L535.4,333.0 L536.1,332.6 L536.9,332.3 L537.7,331.9 L538.5,331.6 L539.3,331.2 L540.1,330.9 L540.9,330.5 L541.8,330.2 L542.6,329.8 L543.5,329.4 L544.3,329.0 L545.2,328.6 L546.3,328.2 L555.2,326.2 L564.2,330.4 L573.1,340.6 L582.1,353.1 L582.8,354.2 L583.2,355.0 L583.7,355.7 L584.2,356.5 L584.6,357.3 L585.1,358.0 L585.6,358.8 L586.0,359.6 L586.5,360.4 L586.9,361.1 L587.4,361.9 L587.8,362.7 L588.3,363.5 L588.7,364.3 L589.1,365.0 L589.6,365.8 L590.0,366.6 L590.5,367.4 L590.9,368.2 L591.4,369.0 L591.8,369.8 L592.3,370.6 L592.7,371.4 L593.1,372.2 L593.6,373.0 L594.0,373.8 L594.5,374.5 L595.0,375.3 L595.4,376.1 L595.9,376.9 L596.3,377.7 L596.8,378.5 L597.2,379.3 L597.7,380.1 L598.2,380.9 L598.7,381.7 L599.1,382.5 L599.6,383.3 L600.1,384.1 L600.6,384.8 L601.1,385.6 L601.6,386.4 L602.1,387.2 L602.6,387.9 L603.1,388.7 L603.6,389.4 L604.1,390.2 L604.7,390.9 L605.2,391.7 L605.7,392.4 L606.3,393.1 L606.8,393.9 L607.4,394.6 L608.0,395.3 L608.5,396.0 L609.1,396.7 L609.7,397.3 L610.3,398.0 L610.9,398.7 L611.5,399.3 L612.1,400.0 L612.7,400.6 L613.4,401.2 L614.0,401.8 L614.7,402.4 L615.3,403.0 L616.0,403.5 L616.7,404.1 L617.3,404.6 L618.0,405.2 L618.7,405.7 L619.5,406.2 L620.2,406.7 L620.9,407.1 L621.7,407.6 L622.4,408.0 L623.2,408.5 L624.0,408.9 L624.7,409.3 L625.5,409.7 L626.3,410.0 L627.1,410.4 L627.9,410.8 L628.8,411.1 L629.6,411.5 L630.4,411.8 L631.3,412.1 L632.1,412.4 L633.0,412.7 L633.8,413.0 L634.7,413.3 L635.5,413.6 L636.4,413.9 L637.3,414.2 L638.1,414.5 L639.0,414.7 L639.9,415.0 L640.7,415.3 L641.6,415.5 L642.5,415.8 L643.4,416.1 L644.3,416.4 L645.1,416.6 L646.0,416.9 L646.9,417.2 L647.8,417.5 L648.7,417.7 L649.5,418.0 L650.4,418.3 L651.3,418.6 L652.1,418.9 L653.0,419.2 L653.9,419.5 L654.7,419.8 L655.6,420.2 L656.4,420.5 L657.2,420.8 L658.1,421.2 L658.9,421.6 L659.7,421.9 L660.6,422.3 L661.4,422.7 L662.2,423.1 L663.0,423.5 L663.8,423.9 L664.6,424.3 L665.4,424.7 L666.2,425.2 L666.9,425.6 L667.7,426.1 L668.5,426.5 L669.3,427.0 L670.0,427.5 L670.8,427.9 L671.5,428.4 L672.3,428.9 L673.1,429.4 L673.8,429.9 L674.5,430.4 L675.3,430.9 L676.0,431.4 L676.7,432.0 L677.5,432.5 L678.2,433.0 L678.9,433.6 L679.6,434.1 L680.3,434.7 L681.1,435.2 L681.8,435.8 L682.5,436.3 L683.2,436.9 L683.9,437.5 L684.6,438.1 L685.3,438.6 L686.0,439.2 L686.6,439.8 L687.3,440.4 L688.0,441.0 L688.7,441.6 L689.4,442.2 L690.1,442.8 L690.7,443.4 L691.4,444.0 L692.1,444.6 L692.7,445.2 L693.4,445.9 L694.1,446.5 L694.7,447.1 L695.4,447.7 L696.1,448.3 L696.7,449.0 L697.4,449.6 L698.0,450.2 L698.7,450.9 L699.3,451.5 L700.0,452.1 L700.6,452.8 L701.3,453.4 L701.9,454.0 L702.6,454.7 L703.2,455.3 L703.9,455.9 L704.5,456.6 L705.2,457.2 L705.8,457.8 L706.4,458.5 L707.1,459.1 L707.7,459.7 L708.4,460.4 L709.0,461.0 L709.7,461.6 L710.3,462.2 L711.0,462.9 L711.6,463.5 L712.3,464.1 L713.0,464.7 L713.6,465.3 L714.3,465.9 L714.9,466.5 L715.6,467.1 L716.3,467.7 L717.0,468.3 L717.6,468.9 L718.3,469.5 L719.0,470.0 L719.7,470.6 L720.4,471.2 L721.1,471.7 L721.8,472.3 L722.5,472.9 L723.2,473.4 L723.9,473.9 L724.6,474.5 L725.4,475.0 L726.1,475.5 L726.8,476.0 L727.6,476.6 L728.3,477.1 L729.0,477.6 L729.8,478.1 L730.5,478.6 L731.3,479.1 L732.0,479.6 L732.8,480.0 L733.6,480.5 L734.3,481.0 L735.1,481.5 L735.9,481.9 L736.7,482.4 L737.4,482.9 L738.2,483.3 L739.0,483.8 L739.8,484.2 L740.6,484.6 L741.4,485.1 L742.2,485.5 L743.0,486.0 L743.8,486.4 L744.6,486.8 L745.4,487.3 L746.2,487.7 L747.0,488.1 L747.8,488.6 L748.6,489.0 L749.4,489.4 L750.2,489.9 L751.0,490.3 L751.8,490.7 L752.6,491.2 L753.4,491.6 L754.2,492.1 L754.9,492.5 L755.7,493.0 L756.5,493.5 L757.3,493.9 L758.0,494.4 L758.8,494.9 L759.5,495.4 L760.3,495.9 L761.0,496.4 L761.8,496.9 L762.5,497.4 L763.2,497.9 L763.9,498.5 L764.6,499.0 L765.3,499.6 L766.0,500.1 L766.7,500.7 L767.4,501.3 L768.1,501.9 L768.7,502.5 L769.4,503.1 L770.0,503.7 L770.7,504.4 L771.3,505.0 L771.9,505.6 L772.6,506.3 L773.2,506.9 L773.8,507.6 L774.4,508.3 L775.0,508.9 L775.6,509.6 L776.2,510.3 L776.8,510.9 L777.4,511.6 L778.0,512.3 L778.6,513.0 L779.2,513.7 L779.8,514.4 L780.4,515.0 L781.0,515.7 L781.6,516.4 L782.2,517.1 L782.8,517.8 L783.4,518.5 L784.0,519.2 L784.6,519.8 L785.2,520.5 L785.8,521.2 L786.4,521.9 L787.0,522.5 L787.6,523.2 L788.2,523.9 L788.8,524.5 L789.5,525.2 L790.1,525.9 L790.7,526.5 L791.3,527.2 L791.9,527.8 L792.6,528.5 L793.2,529.1 L793.8,529.8 L794.5,530.4 L795.1,531.1 L795.7,531.7 L796.4,532.4 L797.0,533.0 L797.6,533.7 L798.3,534.3 L798.9,534.9 L799.5,535.6 L800.2,536.2 L800.8,536.8 L801.5,537.5 L802.1,538.1 L802.8,538.7 L803.4,539.4 L804.1,540.0 L804.7,540.6 L805.4,541.3 L806.0,541.9 L806.7,542.5 L807.3,543.2 L808.0,543.8 L808.6,544.4 L809.3,545.0 L809.9,545.7 L810.6,546.3 L811.2,546.9 L811.9,547.5 L812.5,548.1 L813.2,548.8 L813.8,549.4 L814.5,550.0 L815.1,550.6 L815.8,551.3 L816.5,551.9 L817.1,552.5 L817.8,553.1 L818.4,553.7 L819.1,554.4 L819.7,555.0 L820.4,555.6 L821.0,556.2 L821.7,556.9 L822.3,557.5 L823.0,558.1 L823.6,558.7 L824.3,559.4 L824.9,560.0 L825.6,560.6 L826.2,561.2 L826.9,561.9 L827.5,562.5 L828.2,563.1 L828.8,563.8 L829.5,564.4 L830.1,565.0 L830.8,565.6 L831.4,566.3 L832.1,566.9 L832.7,567.5 L833.3,568.2 L834.0,568.8 L834.6,569.4 L835.3,570.1 L835.9,570.7 L836.6,571.3 L837.2,572.0 L837.8,572.6 L838.5,573.3 L839.1,573.9 L839.7,574.5 L840.4,575.2 L841.0,575.8 L841.6,576.5 L842.3,577.1 L842.9,577.7 L843.5,578.4 L844.2,579.0 L844.8,579.7 L845.4,580.3 L846.1,581.0 L846.7,581.6 L847.3,582.2 L848.0,582.9 L848.6,583.5 L849.2,584.2 L849.8,584.8 L850.5,585.5 L851.1,586.1 L851.7,586.8 L852.4,587.4 L853.0,588.1 L853.6,588.7 L854.2,589.4 L854.8,590.0 L855.5,590.7 L856.1,591.3 L856.7,592.0 L857.3,592.6 L858.0,593.3 L858.6,594.0 L859.2,594.6 L859.8,595.3 L860.4,595.9 L861.0,596.6 L861.7,597.2 L862.3,597.9 L862.9,598.6 L863.5,599.2 L864.1,599.9 L864.7,600.5 L865.3,601.2 L866.0,601.9 L866.6,602.5 L867.2,603.2 L867.8,603.8 L868.4,604.5 L869.0,605.2 L869.6,605.8 L870.2,606.5 L870.8,607.2 L871.5,607.8 L872.1,608.5 L872.7,609.2 L873.3,609.8 L873.9,610.5 L874.5,611.2 L875.1,611.8 L875.7,612.5 L876.3,613.2 L876.9,613.9 L877.5,614.5 L878.1,615.2 L878.7,615.9 L879.3,616.5 L879.9,617.2 L880.5,617.9 L881.1,618.6 L881.7,619.2 L882.3,619.9 L882.9,620.6 L883.5,621.3 L884.1,621.9 L884.7,622.6 L885.3,623.3 L885.9,624.0 L886.5,624.7 L887.1,625.3 L887.7,626.0 L888.3,626.7 L888.8,627.4 L889.4,628.1 L890.0,628.7 L890.6,629.4 L891.2,630.1 L891.8,630.8 L892.4,631.5 L893.0,632.2 L893.6,632.8 L894.2,633.5 L894.7,634.2 L895.3,634.9 L895.9,635.6 L896.5,636.3 L897.1,637.0 L897.7,637.7 L898.3,638.3 L898.8,639.0 L899.4,639.7 L900.0,640.4 L900.6,641.1 L901.2,641.8 L901.8,642.5 L902.3,643.2 L902.9,643.9 L903.5,644.6 L904.1,645.3 L904.7,646.0 L905.2,646.7 L905.8,647.4 L906.4,648.0 L907.0,648.7 L907.6,649.4 L908.1,650.1 L908.7,650.8 L909.3,651.5 L909.9,652.2 L910.4,652.9 L911.0,653.6 L911.6,654.3 L912.2,655.0 L912.7,655.7 L913.3,656.4 L913.9,657.1 L914.4,657.8 L915.0,658.5 L915.6,659.2 L916.2,660.0 L916.7,660.7 L917.3,661.4 L917.9,662.1 L918.4,662.8 L919.0,663.5 L919.6,664.2 L920.2,664.9 L920.7,665.6 L921.3,666.3 L921.9,667.0 L922.4,667.7 L923.0,668.4 L923.6,669.1 L924.2,669.8 L924.7,670.5 L925.3,671.2 L925.9,671.9 L926.5,672.6 L927.0,673.3 L927.6,674.0 L928.2,674.7 L928.8,675.4 L929.3,676.1 L929.9,676.8 L930.5,677.5 L931.1,678.2 L931.7,678.8 L932.2,679.5 L932.8,680.2 L933.4,680.9 L934.0,681.6 L934.6,682.3 L935.2,683.0 L935.7,683.7 L936.3,684.4 L936.9,685.0 L937.5,685.7 L938.1,686.4 L938.7,687.1 L939.3,687.8 L939.9,688.4 L940.5,689.1 L941.1,689.8 L941.7,690.5 L942.3,691.1 L942.9,691.8 L943.5,692.5 L944.1,693.2 L944.7,693.8 L945.3,694.5 L945.9,695.2 L946.5,695.8 L947.1,696.5 L947.7,697.1 L948.3,697.8 L949.0,698.4 L949.6,699.1 L950.2,699.7 L950.8,700.4 L951.4,701.0 L952.1,701.7 L952.7,702.3 L953.3,703.0 L953.9,703.6 L954.6,704.3 L955.2,704.9 L955.8,705.5 L956.5,706.1 L957.1,706.8 L957.8,707.4 L958.4,708.0 L959.1,708.6 L959.7,709.3 L960.4,709.9 L961.0,710.5 L961.7,711.1 L962.3,711.7 L963.0,712.3 L963.7,712.9 L964.3,713.5 L965.0,714.1 L965.7,714.7 L966.3,715.3 L967.0,715.9 L967.7,716.5 L968.4,717.1 L969.1,717.7 L969.8,718.2 L970.4,718.8 L971.1,719.4 L971.8,719.9 L972.5,720.5 L973.2,721.1 L973.9,721.6 L974.7,722.2 L975.4,722.7 L976.1,723.3 L976.8,723.8 L977.5,724.4 L978.2,724.9 L979.0,725.5 L979.7,726.0 L980.4,726.5 L981.2,727.1 L981.9,727.6 L982.6,728.1 L983.4,728.6 L984.1,729.1 L984.9,729.6 L985.6,730.2 L986.4,730.7 L987.1,731.2 L987.9,731.7 L988.7,732.2 L989.4,732.7 L990.2,733.2 L990.9,733.7 L991.7,734.2 L992.5,734.7 L993.2,735.1 L994.0,735.6 L994.8,736.1 L995.5,736.6 L996.3,737.1 L997.1,737.6 L997.9,738.1 L998.6,738.5 L999.4,739.0 L1000.2,739.5 L1000.9,740.0 L1001.7,740.5 L1002.5,740.9 L1003.3,741.4 L1004.0,741.9 L1004.8,742.4 L1005.6,742.9 L1006.3,743.3 L1007.1,743.8 L1007.9,744.3 L1008.7,744.8 L1009.4,745.3 L1010.2,745.7 L1011.0,746.2 L1011.7,746.7 L1012.5,747.2 L1013.3,747.7 L1014.0,748.1 L1014.8,748.6 L1015.6,749.1 L1016.3,749.6 L1017.1,750.1 L1017.9,750.5 L1018.6,751.0 L1019.4,751.5 L1020.1,752.0 L1020.9,752.5 L1021.7,753.0 L1022.4,753.4 L1023.2,753.9 L1023.9,754.4 L1024.7,754.9 L1025.5,755.4 L1026.2,755.9 L1027.0,756.4 L1027.7,756.8 L1028.5,757.3 L1029.3,757.8 L1030.0,758.3 L1030.8,758.8 L1031.5,759.3 L1032.3,759.8 L1033.0,760.3 L1033.8,760.8 L1034.5,761.3 L1035.3,761.7 L1036.0,762.2 L1036.8,762.7 L1037.5,763.2 L1038.3,763.7 L1039.1,764.2 L1039.8,764.7 L1040.6,765.2 L1041.3,765.7 L1042.1,766.2 L1042.8,766.7 L1043.6,767.2 L1044.3,767.7 L1045.1,768.2 L1045.8,768.7 L1046.6,769.2 L1047.3,769.7 L1048.0,770.2 L1048.8,770.7 L1049.5,771.2 L1050.3,771.7 L1051.0,772.2 L1051.8,772.7 L1052.5,773.2 L1053.3,773.8 L1054.0,774.3 L1054.8,774.8 L1055.5,775.3 L1056.3,775.8 L1057.0,776.3 L1057.7,776.8 L1058.5,777.3 L1059.2,777.8 L1060.0,778.3 L1060.7,778.8 L1061.5,779.4 L1062.2,779.9 L1062.9,780.4 L1063.7,780.9 L1064.4,781.4 L1065.2,781.9 L1065.9,782.4 L1066.7,782.9 L1067.4,783.5 L1068.1,784.0 L1068.9,784.5 L1069.6,785.0 L1070.4,785.5 L1071.1,786.0 L1071.8,786.6 L1072.6,787.1 L1073.3,787.6 L1074.1,788.1 L1074.8,788.6 L1075.5,789.1 L1076.3,789.7 L1077.0,790.2 L1077.8,790.7 L1078.5,791.2 L1079.2,791.7 L1080.0,792.2 L1080.7,792.8 L1081.4,793.3 L1082.2,793.8 L1082.9,794.3 L1083.7,794.8 L1084.4,795.4 L1085.1,795.9 L1085.9,796.4 L1086.6,796.9 L1087.3,797.5 L1088.1,798.0 L1088.8,798.5 L1089.6,799.0 L1090.3,799.5 L1091.0,800.1 L1091.8,800.6 L1092.5,801.1 L1093.2,801.6 L1094.0,802.2 L1094.7,802.7 L1095.4,803.2 L1096.2,803.7 L1096.9,804.2 L1097.7,804.8 L1098.4,805.3 L1099.1,805.8 L1099.9,806.3 L1100.6,806.9 L1101.3,807.4 L1102.1,807.9 L1102.8,808.4 L1103.5,809.0 L1104.3,809.5 L1105.0,810.0 L1105.7,810.5 L1106.5,811.1 L1107.2,811.6 L1108.0,812.1 L1108.7,812.6 L1109.4,813.2 L1110.2,813.7 L1110.9,814.2 L1111.6,814.7 L1112.4,815.3 L1113.1,815.8 L1113.8,816.3 L1114.6,816.8 L1115.3,817.3 L1116.0,817.9 L1116.8,818.4 L1117.5,818.9 L1118.3,819.4 L1119.0,820.0 L1119.7,820.5 L1120.5,821.0 L1121.2,821.5 L1121.9,822.1 L1122.7,822.6 L1123.4,823.1 L1124.1,823.6 L1124.9,824.2 L1125.6,824.7 L1126.4,825.2 L1127.1,825.7 L1127.8,826.2 L1128.6,826.8 L1129.3,827.3 L1130.0,827.8 L1130.8,828.3 L1131.5,828.9 L1132.3,829.4 L1133.0,829.9 L1133.7,830.4 L1134.5,830.9 L1135.2,831.5 L1135.9,832.0 L1136.7,832.5 L1137.4,833.0 L1138.2,833.5 L1138.9,834.1 L1139.6,834.6 L1140.4,835.1 L1141.1,835.6 L1141.9,836.1 L1142.6,836.6 L1143.3,837.2 L1144.1,837.7 L1144.8,838.2 L1145.6,838.7 L1146.3,839.2 L1147.0,839.7 L1147.8,840.3 L1148.5,840.8 L1149.3,841.3 L1150.0,841.8 L1150.8,842.3 L1151.5,842.8 L1152.2,843.3 L1153.0,843.9 L1153.7,844.4 L1154.5,844.9 L1155.2,845.4 L1156.0,845.9 L1156.7,846.4 L1157.4,846.9 L1158.2,847.4 L1158.9,848.0 L1159.7,848.5 L1160.4,849.0 L1161.2,849.5 L1161.9,850.0 L1162.7,850.5 L1163.4,851.0 L1164.2,851.5 L1164.9,852.0 L1165.7,852.5 L1166.4,853.0 L1167.2,853.5 L1167.9,854.0 L1168.6,854.5 L1169.4,855.1 L1170.1,855.6 L1170.9,856.1 L1171.6,856.6 L1172.4,857.1 L1173.1,857.6 L1173.9,858.1 L1174.6,858.6 L1175.4,859.1 L1176.1,859.6 L1176.9,860.1 L1177.6,860.6 L1178.4,861.1 L1179.1,861.6 L1179.9,862.1 L1180.6,862.6 L1181.4,863.1 L1182.2,863.6 L1182.9,864.1 L1183.7,864.6 L1184.4,865.1 L1185.2,865.6 L1185.9,866.1 L1186.7,866.6 L1187.4,867.1 L1188.2,867.6 L1188.9,868.1 L1189.7,868.6 L1190.4,869.1 L1191.2,869.5 L1192.0,870.0 L1192.7,870.5 L1193.5,871.0 L1194.2,871.5 L1195.0,872.0 L1195.7,872.5 L1196.5,873.0 L1197.2,873.5 L1198.0,874.0 L1198.8,874.5 L1199.5,875.0 L1200.3,875.5 L1201.0,876.0 L1201.8,876.4 L1202.5,876.9 L1203.3,877.4 L1204.1,877.9 L1204.8,878.4 L1205.6,878.9 L1206.3,879.4 L1207.1,879.9 L1207.8,880.4 L1208.6,880.9 L1209.4,881.3 L1210.1,881.8 L1210.9,882.3 L1211.6,882.8 L1212.4,883.3 L1213.2,883.8 L1213.9,884.3 L1214.7,884.8 L1215.4,885.2 L1216.2,885.7 L1217.0,886.2 L1217.7,886.7 L1218.5,887.2 L1219.2,887.7 L1220.0,888.2 L1220.8,888.6 L1221.5,889.1 L1222.3,889.6 L1223.1,890.1 L1223.8,890.6 L1224.6,891.1 L1225.3,891.5 L1226.1,892.0 L1226.9,892.5 L1227.6,893.0 L1228.4,893.5 L1229.2,894.0 L1229.9,894.4 L1230.7,894.9 L1231.4,895.4 L1232.2,895.9 L1233.0,896.4 L1233.7,896.8 L1234.5,897.3 L1235.3,897.8 L1236.0,898.3 L1236.8,898.8 L1237.6,899.2 L1238.3,899.7 L1239.1,900.2 L1239.8,900.7 L1240.6,901.2 L1241.4,901.6 L1242.1,902.1 L1242.9,902.6 L1243.7,903.1 L1244.4,903.6 L1245.2,904.0 L1246.0,904.5 L1246.7,905.0 L1247.5,905.5 L1248.3,905.9 L1249.0,906.4 L1249.8,906.9 L1250.6,907.4 L1251.3,907.9 L1252.1,908.3 L1252.9,908.8 L1253.6,909.3 L1254.4,909.8 L1255.2,910.2 L1255.9,910.7 L1256.7,911.2 L1257.5,911.7 L1258.2,912.1 L1259.0,912.6 L1259.8,913.1 L1260.5,913.6 L1261.3,914.0 L1262.1,914.5 L1262.8,915.0 L1263.6,915.5 L1264.4,915.9 L1265.1,916.4 L1265.9,916.9 L1266.7,917.4 L1267.4,917.8 L1268.2,918.3 L1269.0,918.8 L1269.8,919.3 L1270.5,919.7 L1271.3,920.2 L1272.1,920.7 L1272.8,921.2 L1273.6,921.6 L1274.4,922.1 L1275.1,922.6 L1275.9,923.0 L1276.7,923.5 L1277.4,924.0 L1278.2,924.5 L1279.0,924.9 L1279.7,925.4 L1280.5,925.9 L1281.3,926.4 L1282.1,926.8 L1282.8,927.3 L1283.6,927.8 L1284.4,928.2 L1285.1,928.7 L1285.9,929.2 L1286.7,929.7 L1287.4,930.1 L1288.2,930.6 L1289.0,931.1 L1289.8,931.6 L1290.5,932.0 L1291.3,932.5 L1292.1,933.0 L1292.8,933.4 L1293.6,933.9 L1294.4,934.4 L1295.1,934.9 L1295.9,935.3 L1296.7,935.8 L1297.5,936.3 L1298.2,936.7 L1299.0,937.2 L1299.8,937.7 L1300.5,938.1 L1301.3,938.6 L1302.1,939.1 L1302.8,939.6 L1303.6,940.0 L1304.4,940.5 L1305.2,941.0 L1305.9,941.4 L1306.7,941.9 L1307.5,942.4 L1308.2,942.9 L1309.0,943.3 L1309.8,943.8 L1310.5,944.3 L1311.3,944.7 L1312.1,945.2 L1312.9,945.7 L1313.6,946.2 L1314.4,946.6 L1315.2,947.1 L1315.9,947.6 L1316.7,948.0 L1317.5,948.5 L1318.3,949.0 L1319.0,949.4 L1319.8,949.9 L1320.6,950.4 L1321.3,950.9 L1322.1,951.3 L1322.9,951.8 L1323.6,952.3 L1324.4,952.7 L1325.2,953.2 L1326.0,953.7 L1326.7,954.2 L1327.5,954.6 L1328.3,955.1 L1329.0,955.6 L1329.8,956.0 L1330.6,956.5 L1331.3,957.0 L1332.1,957.5 L1332.9,957.9 L1333.7,958.4 L1334.4,958.9 L1335.2,959.3 L1336.0,959.8 L1336.7,960.3 L1337.5,960.7 L1338.3,961.2 L1339.1,961.7 L1339.8,962.2 L1340.6,962.6 L1341.4,963.1 L1342.1,963.6 L1342.9,964.0 L1343.7,964.5 L1344.4,965.0 L1345.2,965.5 L1346.0,965.9 L1346.8,966.4 L1347.5,966.9 L1348.3,967.3 L1349.1,967.8 L1349.8,968.3 L1350.6,968.8 L1351.4,969.2 L1352.2,969.7 L1352.9,970.2 L1353.7,970.6 L1354.5,971.1 L1355.2,971.6 L1356.0,972.0 L1356.8,972.5 L1357.5,973.0 L1358.3,973.5 L1359.1,973.9 L1359.9,974.4 L1360.6,974.9 L1361.4,975.3 L1362.2,975.8 L1362.9,976.3 L1363.7,976.8 L1364.5,977.2 L1365.2,977.7 L1366.0,978.2 L1366.8,978.6 L1367.6,979.1 L1368.3,979.6 L1369.1,980.0 L1369.9,980.5 L1370.6,981.0 L1371.4,981.5 L1372.2,981.9 L1373.0,982.4 L1373.7,982.9 L1374.5,983.3 L1375.3,983.8 L1376.0,984.3 L1376.8,984.8 L1377.6,985.2 L1378.3,985.7 L1379.1,986.2 L1379.9,986.6 L1380.7,987.1 L1381.4,987.6 L1382.2,988.0 L1383.0,988.5 L1383.7,989.0 L1384.5,989.5 L1385.3,989.9 L1386.1,990.4 L1386.8,990.9 L1387.6,991.3 L1388.4,991.8 L1389.1,992.3 L1389.9,992.8 L1390.7,993.2 L1391.5,993.7 L1392.2,994.2 L1393.0,994.6 L1393.8,995.1 L1394.5,995.6 L1395.3,996.0 L1396.1,996.5 L1396.8,997.0 L1397.6,997.5 L1398.4,997.9 L1399.2,998.4 L1399.9,998.9 L1400.7,999.3 L1401.5,999.8 L1402.2,1000.3 L1403.0,1000.7 L1403.8,1001.2 L1404.6,1001.7 L1405.3,1002.2 L1406.1,1002.6 L1406.9,1003.1 L1407.6,1003.6 L1408.4,1004.0 L1409.2,1004.5 L1409.9,1005.0 L1410.7,1005.4 L1411.5,1005.9 L1412.3,1006.4 L1413.0,1006.9 L1413.8,1007.3 L1414.6,1007.8 L1415.3,1008.3 L1416.1,1008.7 L1416.9,1009.2 L1417.7,1009.7 L1418.4,1010.1 L1419.2,1010.6 L1420.0,1011.1 L1420.7,1011.6 L1421.5,1012.0 L1422.3,1012.5 L1423.1,1013.0 L1423.8,1013.4 L1424.6,1013.9 L1425.4,1014.4 L1426.1,1014.8 L1426.9,1015.3 L1427.7,1015.8 L1428.5,1016.3 L1429.2,1016.7 L1430.0,1017.2 L1430.8,1017.7 L1431.5,1018.1 L1432.3,1018.6 L1433.1,1019.1 L1433.9,1019.5 L1434.6,1020.0 L1435.4,1020.5 L1436.2,1021.0 L1436.9,1021.4 L1437.7,1021.9 L1438.5,1022.4 L1439.2,1022.8 L1440.0,1023.3 L1440.8,1023.8 L1441.6,1024.2 L1442.3,1024.7 L1443.1,1025.2 L1443.9,1025.6 L1444.6,1026.1 L1445.4,1026.6 L1446.2,1027.1 L1447.0,1027.5 L1447.7,1028.0 L1448.5,1028.5 L1449.3,1028.9 L1450.0,1029.4 L1450.8,1029.9 L1451.6,1030.3 L1452.4,1030.8 L1453.1,1031.3 L1453.9,1031.7 L1454.7,1032.2 L1455.4,1032.7 L1456.2,1033.2 L1457.0,1033.6 L1457.8,1034.1 L1458.5,1034.6 L1459.3,1035.0 L1460.1,1035.5 L1460.8,1036.0 L1461.6,1036.4 L1462.4,1036.9 L1463.2,1037.4 L1463.9,1037.8 L1464.7,1038.3 L1465.5,1038.8 L1466.3,1039.3 L1467.0,1039.7 L1467.8,1040.2 L1468.6,1040.7 L1469.3,1041.1 L1470.1,1041.6 L1470.9,1042.1 L1471.7,1042.5 L1472.4,1043.0 L1473.2,1043.5 L1474.0,1043.9 L1474.7,1044.4 L1475.5,1044.9 L1476.3,1045.3 L1477.1,1045.8 L1477.8,1046.3 L1478.6,1046.7 L1479.4,1047.2 L1480.1,1047.7 L1480.9,1048.2 L1481.7,1048.6 L1482.5,1049.1 L1483.2,1049.6 L1484.0,1050.0 L1484.8,1050.5 L1485.5,1051.0 L1486.3,1051.4 L1487.1,1051.9 L1487.9,1052.4 L1488.6,1052.8 L1489.4,1053.3 L1490.2,1053.8 L1491.0,1054.2 L1491.7,1054.7 L1492.5,1055.2 L1493.3,1055.6 L1494.0,1056.1 L1494.8,1056.6 L1495.6,1057.0 L1496.4,1057.5 L1497.1,1058.0 L1497.9,1058.5 L1498.7,1058.9 L1499.4,1059.4 L1500.2,1059.9 L1501.0,1060.3 L1501.8,1060.8 L1502.5,1061.3 L1503.3,1061.7 L1504.1,1062.2 L1504.9,1062.7 L1505.6,1063.1 L1506.4,1063.6 L1507.2,1064.1 L1507.9,1064.5 L1508.7,1065.0 L1509.5,1065.5 L1510.3,1065.9 L1511.0,1066.4 L1511.8,1066.9 L1512.6,1067.3 L1513.4,1067.8 L1514.1,1068.3 L1514.9,1068.7 L1515.7,1069.2 L1516.4,1069.7 L1517.2,1070.1 L1518.0,1070.6 L1518.8,1071.1 L1519.5,1071.5 L1520.3,1072.0 L1521.1,1072.5 L1521.9,1072.9 L1522.6,1073.4 L1523.4,1073.9 L1524.2,1074.3 L1524.9,1074.8 L1525.7,1075.3 L1526.5,1075.7 L1527.3,1076.2 L1528.0,1076.7 L1528.8,1077.1 L1529.6,1077.6 L1530.4,1078.1 L1531.1,1078.5 L1531.9,1079.0 L1532.7,1079.5 L1533.4,1079.9 L1534.2,1080.4 L1535.0,1080.9 L1535.8,1081.3 L1536.5,1081.8 L1537.3,1082.3 L1538.1,1082.7 L1538.9,1083.2 L1539.6,1083.7 L1540.4,1084.1 L1541.2,1084.6 L1542.0,1085.1 L1542.7,1085.5 L1543.5,1086.0 L1544.3,1086.5 L1545.0,1086.9 L1545.8,1087.4 L1546.6,1087.9 L1547.4,1088.3 L1548.1,1088.8 L1548.9,1089.3 L1549.7,1089.7 L1550.5,1090.2 L1551.2,1090.6 L1552.0,1091.1 L1552.8,1091.6 L1553.6,1092.0 L1554.3,1092.5 L1555.1,1093.0 L1555.9,1093.4 L1556.7,1093.9 L1557.4,1094.4 L1558.2,1094.8 L1559.0,1095.3 L1559.7,1095.8 L1560.5,1096.2 L1561.3,1096.7 L1562.1,1097.2 L1562.8,1097.6 L1563.6,1098.1 L1564.4,1098.6 L1565.2,1099.0 L1565.9,1099.5 L1566.7,1099.9 L1567.5,1100.4 L1568.3,1100.9 L1569.0,1101.3 L1569.8,1101.8 L1570.6,1102.3 L1571.4,1102.7 L1572.1,1103.2 L1572.9,1103.7 L1573.7,1104.1 L1574.5,1104.6 L1575.2,1105.1 L1576.0,1105.5 L1576.8,1106.0 L1577.5,1106.4 L1578.3,1106.9 L1579.1,1107.4 L1579.9,1107.8 L1580.6,1108.3 L1581.4,1108.8 L1582.2,1109.2 L1583.0,1109.7 L1583.7,1110.2 L1584.5,1110.6 L1585.3,1111.1 L1586.1,1111.6 L1586.8,1112.0 L1587.6,1112.5 L1588.4,1112.9 L1589.2,1113.4 L1589.9,1113.9 L1590.7,1114.3 L1591.5,1114.8 L1592.3,1115.3 L1593.0,1115.7 L1593.8,1116.2 L1594.6,1116.6 L1595.4,1117.1 L1596.1,1117.6 L1596.9,1118.0 L1597.7,1118.5 L1598.5,1119.0 L1599.2,1119.4 L1600.0,1119.9 L1600.8,1120.4 L1601.6,1120.8 L1602.3,1121.3 L1603.1,1121.7 L1603.9,1122.2 L1604.7,1122.7 L1605.4,1123.1 L1606.2,1123.6 L1607.0,1124.1 L1607.8,1124.5 L1608.5,1125.0 L1609.3,1125.4 L1610.1,1125.9 L1610.9,1126.4 L1611.6,1126.8 L1612.4,1127.3 L1613.2,1127.8 L1614.0,1128.2 L1614.7,1128.7 L1615.5,1129.1 L1616.3,1129.6 L1617.1,1130.1 L1617.8,1130.5 L1618.6,1131.0 L1619.4,1131.4 L1620.2,1131.9 L1621.0,1132.4 L1621.7,1132.8 L1622.5,1133.3 L1623.3,1133.8 L1624.1,1134.2 L1624.8,1134.7 L1625.6,1135.1 L1626.4,1135.6 L1627.2,1136.1 L1627.9,1136.5 L1628.7,1137.0 L1629.5,1137.4 L1630.3,1137.9 L1631.0,1138.4 L1631.8,1138.8 L1632.6,1139.3 L1633.4,1139.8 L1634.1,1140.2 L1634.9,1140.7 L1635.7,1141.1 L1636.5,1141.6 L1637.3,1142.1 L1638.0,1142.5 L1638.8,1143.0 L1639.6,1143.4 L1640.4,1143.9 L1641.1,1144.4 L1641.9,1144.8 L1642.7,1145.3 L1643.5,1145.7 L1644.2,1146.2 L1645.0,1146.7 L1645.8,1147.1 L1646.6,1147.6 L1647.3,1148.0 L1648.1,1148.5 L1648.9,1149.0 L1649.7,1149.4 L1650.5,1149.9 L1651.2,1150.3 L1652.0,1150.8 L1652.8,1151.3 L1653.6,1151.7 L1654.3,1152.2 L1655.1,1152.6 L1655.9,1153.1 L1656.7,1153.6 L1657.4,1154.0 L1658.2,1154.5 L1659.0,1154.9 L1659.8,1155.4 L1660.6,1155.9 L1661.3,1156.3 L1662.1,1156.8 L1662.9,1157.2 L1663.7,1157.7 L1664.4,1158.1 L1665.2,1158.6 L1666.0,1159.1 L1666.8,1159.5 L1667.6,1160.0 L1668.3,1160.4 L1669.1,1160.9 L1669.9,1161.4 L1670.7,1161.8 L1671.4,1162.3 L1672.2,1162.7 L1673.0,1163.2 L1673.8,1163.7 L1674.5,1164.1 L1675.3,1164.6 L1676.1,1165.0 L1676.9,1165.5 L1677.7,1165.9 L1678.4,1166.4 L1679.2,1166.9 L1680.0,1167.3 L1680.8,1167.8 L1681.6,1168.2 L1682.3,1168.7 L1683.1,1169.1 L1683.9,1169.6 L1684.7,1170.1 L1685.4,1170.5 L1686.2,1171.0 L1687.0,1171.4 L1687.8,1171.9 L1688.6,1172.4 L1689.3,1172.8 L1690.1,1173.3 L1690.9,1173.7 L1691.7,1174.2 L1692.4,1174.6 L1693.2,1175.1 L1694.0,1175.5 L1694.8,1176.0 L1695.6,1176.5 L1696.3,1176.9 L1697.1,1177.4 L1697.9,1177.8 L1698.7,1178.3 L1699.5,1178.7 L1700.2,1179.2 L1701.0,1179.7 L1701.8,1180.1 L1702.6,1180.6 L1703.3,1181.0 L1704.1,1181.5 L1704.9,1181.9 L1705.7,1182.4 L1706.5,1182.9 L1707.2,1183.3 L1708.0,1183.8 L1708.8,1184.2 L1709.6,1184.7 L1710.4,1185.1 L1711.1,1185.6 L1711.9,1186.0 L1712.7,1186.5 L1713.5,1187.0 L1714.3,1187.4 L1715.0,1187.9 L1715.8,1188.3 L1716.6,1188.8 L1717.4,1189.2 L1718.2,1189.7 L1718.9,1190.1 L1719.7,1190.6 L1720.5,1191.0 L1721.3,1191.5 L1722.1,1192.0 L1722.8,1192.4 L1723.6,1192.9 L1724.4,1193.3 L1725.2,1193.8 L1726.0,1194.2 L1726.7,1194.7 L1727.5,1195.1 L1728.3,1195.6 L1729.1,1196.0 L1729.9,1196.5 L1730.6,1197.0 L1731.4,1197.4 L1732.2,1197.9 L1733.0,1198.3 L1733.8,1198.8 L1734.5,1199.2 L1735.3,1199.7 L1736.1,1200.1 L1736.9,1200.6 L1737.7,1201.0 L1738.4,1201.5 L1739.2,1201.9 L1740.0,1202.4 L1740.8,1202.9 L1741.6,1203.3 L1742.3,1203.8 L1743.1,1204.2 L1743.9,1204.7 L1744.7,1205.1 L1745.5,1205.6 L1746.2,1206.0 L1747.0,1206.5 L1747.8,1206.9 L1748.6,1207.4 L1749.4,1207.8 L1750.2,1208.3 L1750.9,1208.7 L1751.7,1209.2 L1752.5,1209.6 L1753.3,1210.1 L1754.1,1210.6 L1754.8,1211.0 L1755.6,1211.5 L1756.4,1211.9 L1757.2,1212.4 L1758.0,1212.8 L1758.7,1213.3 L1759.5,1213.7 L1760.3,1214.2 L1761.1,1214.6 L1761.9,1215.1 L1762.7,1215.5 L1763.4,1216.0 L1764.2,1216.4 L1765.0,1216.9 L1765.8,1217.3 L1766.6,1217.8 L1767.3,1218.2 L1768.1,1218.7 L1768.9,1219.1 L1769.7,1219.6 L1770.5,1220.0 L1771.3,1220.5 L1772.0,1220.9 L1772.8,1221.4 L1773.6,1221.8 L1774.4,1222.3 L1775.2,1222.7 L1775.9,1223.2 L1776.7,1223.6 L1777.5,1224.1 L1778.3,1224.5 L1779.1,1225.0 L1779.9,1225.4 L1780.6,1225.9 L1781.4,1226.3 L1782.2,1226.8 L1783.0,1227.2 L1783.8,1227.7 L1784.6,1228.1 L1785.3,1228.6 L1786.1,1229.0 L1786.9,1229.5 L1787.7,1229.9 L1788.5,1230.4 L1789.3,1230.8 L1790.0,1231.3 L1790.8,1231.7 L1791.6,1232.2 L1792.4,1232.6 L1793.2,1233.1 L1794.0,1233.5 L1794.7,1234.0 L1795.5,1234.4 L1796.3,1234.9 L1797.1,1235.3 L1797.9,1235.8 L1798.7,1236.2 L1799.4,1236.7 L1800.2,1237.1 L1801.0,1237.6 L1801.8,1238.0 L1802.6,1238.5 L1803.4,1238.9 L1804.1,1239.4 L1804.9,1239.8 L1805.7,1240.3 L1806.5,1240.7 L1807.3,1241.2 L1808.1,1241.6 L1808.8,1242.0 L1809.6,1242.5 L1810.4,1242.9 L1811.2,1243.4 L1812.0,1243.8 L1812.8,1244.3 L1813.5,1244.7 L1814.3,1245.2 L1815.1,1245.6 L1815.9,1246.1 L1816.7,1246.5 L1817.5,1247.0 L1818.3,1247.4 L1819.0,1247.9 L1819.8,1248.3 L1820.6,1248.8 L1821.4,1249.2 L1822.2,1249.6 L1823.0,1250.1 L1823.7,1250.5 L1824.5,1251.0 L1825.3,1251.4 L1826.1,1251.9 L1826.9,1252.3 L1827.7,1252.8 L1828.5,1253.2 L1829.2,1253.7 L1830.0,1254.1 L1830.8,1254.5 L1831.6,1255.0 L1832.4,1255.4 L1833.2,1255.9 L1834.0,1256.3 L1834.7,1256.8 L1835.5,1257.2 L1836.3,1257.7 L1837.1,1258.1 L1837.9,1258.6 L1838.7,1259.0 L1839.5,1259.4 L1840.2,1259.9 L1841.0,1260.3 L1841.8,1260.8 L1842.6,1261.2 L1843.4,1261.7 L1844.2,1262.1 L1845.0,1262.6 L1845.7,1263.0 L1846.5,1263.4 L1847.3,1263.9 L1848.1,1264.3 L1848.9,1264.8 L1849.7,1265.2 L1850.5,1265.7 L1851.2,1266.1 L1852.0,1266.5 L1852.8,1267.0 L1853.6,1267.4 L1854.4,1267.9 L1855.2,1268.3 L1856.0,1268.8 L1856.8,1269.2 L1857.5,1269.6 L1858.3,1270.1 L1859.1,1270.5 L1859.9,1271.0 L1860.7,1271.4 L1861.5,1271.9 L1862.3,1272.3 L1863.0,1272.7 L1863.8,1273.2 L1864.6,1273.6 L1865.4,1274.1 L1866.2,1274.5 L1867.0,1275.0 L1867.8,1275.4 L1868.6,1275.8 L1869.3,1276.3 L1870.1,1276.7 L1870.9,1277.2 L1871.7,1277.6 L1872.5,1278.0 L1873.3,1278.5 L1874.1,1278.9 L1874.9,1279.4 L1875.7,1279.8 L1876.4,1280.3 L1877.2,1280.7 L1878.0,1281.1 L1878.8,1281.6 L1879.6,1282.0 L1880.4,1282.5 L1881.2,1282.9 L1882.0,1283.3 L1882.7,1283.8 L1883.5,1284.2 L1884.3,1284.7 L1885.1,1285.1 L1885.9,1285.5 L1886.7,1286.0 L1887.5,1286.4 L1888.3,1286.9 L1889.1,1287.3 L1889.8,1287.7 L1890.6,1288.2 L1891.4,1288.6 L1892.2,1289.1 L1893.0,1289.5 L1893.8,1289.9 L1894.6,1290.4 L1895.4,1290.8 L1896.2,1291.3 L1896.9,1291.7 L1897.7,1292.1 L1898.5,1292.6 L1899.3,1293.0 L1900.1,1293.4 L1900.9,1293.9 L1901.7,1294.3 L1902.5,1294.8 L1903.3,1295.2 L1904.0,1295.6 L1904.8,1296.1 L1905.6,1296.5 L1906.4,1297.0 L1907.2,1297.4 L1908.0,1297.8 L1908.8,1298.3 L1909.6,1298.7 L1910.4,1299.1 L1911.2,1299.6 L1911.9,1300.0 L1912.7,1300.5 L1913.5,1300.9 L1914.3,1301.3 L1915.1,1301.8 L1915.9,1302.2 L1916.7,1302.6 L1917.5,1303.1 L1918.3,1303.5 L1919.1,1303.9 L1919.9,1304.4 L1920.6,1304.8 L1921.4,1305.3 L1922.2,1305.7 L1923.0,1306.1 L1923.8,1306.6 L1924.6,1307.0 L1925.4,1307.4 L1926.2,1307.9 L1927.0,1308.3 L1927.8,1308.7 L1928.6,1309.2 L1929.3,1309.6 L1930.1,1310.0 L1930.9,1310.5 L1931.7,1310.9 L1932.5,1311.3 L1933.3,1311.8 L1934.1,1312.2 L1934.9,1312.6 L1935.7,1313.1 L1936.5,1313.5 L1937.3,1313.9 L1938.1,1314.4 L1938.8,1314.8 L1939.6,1315.2 L1940.4,1315.7 L1941.2,1316.1 L1942.0,1316.5 L1942.8,1317.0 L1943.6,1317.4 L1944.4,1317.8 L1945.2,1318.3 L1946.0,1318.7 L1946.8,1319.1 L1947.6,1319.6 L1948.4,1320.0 L1949.2,1320.4 L1950.0,1320.9 L1950.7,1321.3 L1951.5,1321.7 L1952.3,1322.1 L1953.1,1322.6 L1953.9,1323.0 L1954.7,1323.4 L1955.5,1323.9 L1956.3,1324.3 L1957.1,1324.7 L1957.9,1325.2 L1958.7,1325.6 L1959.5,1326.0 L1960.3,1326.4 L1961.1,1326.9 L1961.9,1327.3 L1962.7,1327.7 L1963.5,1328.2 L1964.3,1328.6 L1965.0,1329.0 L1965.8,1329.4 L1966.6,1329.9 L1967.4,1330.3 L1968.2,1330.7 L1969.0,1331.2 L1969.8,1331.6 L1970.6,1332.0 L1971.4,1332.4 L1972.2,1332.9 L1973.0,1333.3 L1973.8,1333.7 L1974.6,1334.1 L1975.4,1334.6 L1976.2,1335.0 L1977.0,1335.4 L1977.8,1335.8 L1978.6,1336.3 L1979.4,1336.7 L1980.2,1337.1 L1981.0,1337.5 L1981.8,1338.0 L1982.6,1338.4 L1983.4,1338.8 L1984.2,1339.2 L1985.0,1339.7 L1985.8,1340.1 L1986.6,1340.5 L1987.3,1340.9 L1988.1,1341.3 L1988.9,1341.8 L1989.7,1342.2 L1990.5,1342.6 L1991.3,1343.0 L1992.1,1343.5 L1992.9,1343.9 L1993.7,1344.3 L1994.5,1344.7 L1995.3,1345.1 L1996.1,1345.6 L1996.9,1346.0 L1997.7,1346.4 L1998.5,1346.8 L1999.3,1347.2 L2000.1,1347.7 L2000.9,1348.1 L2001.7,1348.5 L2002.5,1348.9 L2003.3,1349.3 L2004.1,1349.7 L2004.9,1350.2 L2005.7,1350.6 L2006.5,1351.0 L2007.3,1351.4 L2008.1,1351.8 L2008.9,1352.3 L2009.7,1352.7 L2010.5,1353.1 L2011.3,1353.5 L2012.1,1353.9 L2012.9,1354.3 L2013.7,1354.7 L2014.5,1355.2 L2015.3,1355.6 L2016.1,1356.0 L2016.9,1356.4 L2017.7,1356.8 L2018.6,1357.2 L2019.4,1357.6 L2020.2,1358.1 L2021.0,1358.5 L2021.8,1358.9 L2022.6,1359.3 L2023.4,1359.7 L2024.2,1360.1 L2025.0,1360.5 L2025.8,1360.9 L2026.6,1361.4 L2027.4,1361.8 L2028.2,1362.2 L2029.0,1362.6 L2029.8,1363.0 L2030.6,1363.4 L2031.4,1363.8 L2032.2,1364.2 L2033.0,1364.6 L2033.8,1365.0 L2034.6,1365.5 L2035.4,1365.9 L2036.2,1366.3 L2037.0,1366.7 L2037.8,1367.1 L2038.6,1367.5 L2039.5,1367.9 L2040.3,1368.3 L2041.1,1368.7 L2041.9,1369.1 L2042.7,1369.5 L2043.5,1369.9 L2044.3,1370.3 L2045.1,1370.7 L2045.9,1371.2 L2046.7,1371.6 L2047.5,1372.0 L2048.3,1372.4 L2049.1,1372.8 L2049.9,1373.2 L2050.7,1373.6 L2051.6,1374.0 L2052.4,1374.4 L2053.2,1374.8 L2054.0,1375.2 L2054.8,1375.6 L2055.6,1376.0 L2056.4,1376.4 L2057.2,1376.8 L2058.0,1377.2 L2058.8,1377.6 L2059.6,1378.0 L2060.4,1378.4 L2061.3,1378.8 L2062.1,1379.2 L2062.9,1379.6 L2063.7,1380.0 L2064.5,1380.4 L2065.3,1380.8 L2066.1,1381.2 L2066.9,1381.6 L2067.7,1382.0 L2068.6,1382.4 L2069.4,1382.8 L2070.2,1383.2 L2071.0,1383.6 L2071.8,1384.0 L2072.6,1384.4 L2073.4,1384.7 L2074.2,1385.1 L2075.0,1385.5 L2075.9,1385.9 L2076.7,1386.3 L2077.5,1386.7 L2078.3,1387.1 L2079.1,1387.5 L2079.9,1387.9 L2080.7,1388.3 L2081.5,1388.7 L2082.4,1389.1 L2083.2,1389.5 L2084.0,1389.9 L2084.8,1390.2 L2085.6,1390.6 L2086.4,1391.0 L2087.2,1391.4 L2088.1,1391.8 L2088.9,1392.2 L2089.7,1392.6 L2090.5,1393.0 L2091.3,1393.4 L2092.1,1393.7 L2092.9,1394.1 L2093.8,1394.5 L2094.6,1394.9 L2095.4,1395.3 L2096.2,1395.7 L2097.0,1396.1 L2097.8,1396.4 L2098.7,1396.8 L2099.5,1397.2 L2100.3,1397.6 L2101.1,1398.0 L2101.9,1398.4 L2102.7,1398.7 L2103.6,1399.1 L2104.4,1399.5 L2105.2,1399.9 L2106.0,1400.3 L2106.8,1400.7 L2107.7,1401.0 L2108.5,1401.4 L2109.3,1401.8 L2110.1,1402.2 L2110.9,1402.6 L2111.8,1402.9 L2112.6,1403.3 L2113.4,1403.7 L2114.2,1404.1 L2115.0,1404.4 L2115.9,1404.8 L2116.7,1405.2 L2117.5,1405.6 L2118.3,1406.0 L2119.1,1406.3 L2120.0,1406.7 L2120.8,1407.1 L2121.6,1407.5 L2122.4,1407.8 L2123.2,1408.2 L2124.1,1408.6 L2124.9,1408.9 L2125.7,1409.3 L2126.5,1409.7 L2127.4,1410.1 L2128.2,1410.4 L2129.0,1410.8 L2129.8,1411.2 L2130.6,1411.5 L2131.5,1411.9 L2132.3,1412.3 L2133.1,1412.7 L2133.9,1413.0 L2134.8,1413.4 L2135.6,1413.8 L2136.4,1414.1 L2137.2,1414.5 L2138.1,1414.9 L2138.9,1415.2 L2139.7,1415.6 L2140.5,1416.0 L2141.4,1416.3 L2142.2,1416.7 L2143.0,1417.1 L2143.9,1417.4 L2144.7,1417.8 L2145.5,1418.1 L2146.3,1418.5 L2147.2,1418.9 L2148.0,1419.2 L2149.5,1419.7 L2157.4,1419.7" stroke="#000" stroke-width="7.0"/>
<path d="M269.3,1420.5 L269.4,1419.5 L269.5,1418.4 L269.6,1417.4 L269.7,1416.3 L269.8,1415.2 L269.9,1414.2 L270.0,1413.1 L270.1,1412.1 L270.2,1411.0 L270.3,1410.0 L270.4,1408.9 L270.5,1407.9 L270.6,1406.8 L270.7,1405.8 L270.8,1404.7 L270.9,1403.7 L271.0,1402.6 L271.1,1401.6 L271.1,1400.5 L271.2,1399.5 L271.3,1398.4 L271.4,1397.4 L271.5,1396.3 L271.6,1395.2 L271.7,1394.2 L271.8,1393.1 L271.8,1392.1 L271.9,1391.0 L272.0,1390.0 L272.1,1388.9 L272.2,1387.9 L272.3,1386.8 L272.4,1385.8 L272.4,1384.7 L272.5,1383.7 L272.6,1382.6 L272.7,1381.6 L272.8,1380.5 L272.8,1379.4 L272.9,1378.4 L273.0,1377.3 L273.1,1376.3 L273.2,1375.2 L273.2,1374.2 L273.3,1373.1 L273.4,1372.1 L273.5,1371.0 L273.5,1370.0 L273.6,1368.9 L273.7,1367.9 L273.8,1366.8 L273.8,1365.7 L273.9,1364.7 L274.0,1363.6 L274.0,1362.6 L274.1,1361.5 L274.2,1360.5 L274.3,1359.4 L274.3,1358.4 L274.4,1357.3 L274.5,1356.3 L274.5,1355.2 L274.6,1354.1 L274.7,1353.1 L274.7,1352.0 L274.8,1351.0 L274.9,1349.9 L274.9,1348.9 L275.0,1347.8 L275.1,1346.8 L275.1,1345.7 L275.2,1344.7 L275.3,1343.6 L275.3,1342.5 L275.4,1341.5 L275.4,1340.4 L275.5,1339.4 L275.6,1338.3 L275.6,1337.3 L275.7,1336.2 L275.8,1335.2 L275.8,1334.1 L275.9,1333.1 L275.9,1332.0 L276.0,1330.9 L276.0,1329.9 L276.1,1328.8 L276.2,1327.8 L276.2,1326.7 L276.3,1325.7 L276.3,1324.6 L276.4,1323.6 L276.4,1322.5 L276.5,1321.4 L276.6,1320.4 L276.6,1319.3 L276.7,1318.3 L276.7,1317.2 L276.8,1316.2 L276.8,1315.1 L276.9,1314.1 L276.9,1313.0 L277.0,1311.9 L277.0,1310.9 L277.1,1309.8 L277.1,1308.8 L277.2,1307.7 L277.2,1306.7 L277.3,1305.6 L277.3,1304.6 L277.4,1303.5 L277.4,1302.4 L277.5,1301.4 L277.5,1300.3 L277.6,1299.3 L277.6,1298.2 L277.7,1297.2 L277.7,1296.1 L277.8,1295.1 L277.8,1294.0 L277.9,1292.9 L277.9,1291.9 L277.9,1290.8 L278.0,1289.8 L278.0,1288.7 L278.1,1287.7 L278.1,1286.6 L278.2,1285.5 L278.2,1284.5 L278.3,1283.4 L278.3,1282.4 L278.3,1281.3 L278.4,1280.3 L278.4,1279.2 L278.5,1278.2 L278.5,1277.1 L278.6,1276.0 L278.6,1275.0 L278.6,1273.9 L278.7,1272.9 L278.7,1271.8 L278.8,1270.8 L278.8,1269.7 L278.8,1268.6 L278.9,1267.6 L278.9,1266.5 L279.0,1265.5 L279.0,1264.4 L279.0,1263.4 L279.1,1262.3 L279.1,1261.3 L279.1,1260.2 L279.2,1259.1 L279.2,1258.1 L279.3,1257.0 L279.3,1256.0 L279.3,1254.9 L279.4,1253.9 L279.4,1252.8 L279.4,1251.7 L279.5,1250.7 L279.5,1249.6 L279.6,1248.6 L279.6,1247.5 L279.6,1246.5 L279.7,1245.4 L279.7,1244.4 L279.7,1243.3 L279.8,1242.2 L279.8,1241.2 L279.8,1240.1 L279.9,1239.1 L279.9,1238.0 L279.9,1237.0 L280.0,1235.9 L280.0,1234.8 L280.0,1233.8 L280.1,1232.7 L280.1,1231.7 L280.1,1230.6 L280.2,1229.6 L280.2,1228.5 L280.2,1227.4 L280.3,1226.4 L280.3,1225.3 L280.3,1224.3 L280.4,1223.2 L280.4,1222.2 L280.4,1221.1 L280.5,1220.1 L280.5,1219.0 L280.5,1217.9 L280.5,1216.9 L280.6,1215.8 L280.6,1214.8 L280.6,1213.7 L280.7,1212.7 L280.7,1211.6 L280.7,1210.5 L280.8,1209.5 L280.8,1208.4 L280.8,1207.4 L280.9,1206.3 L280.9,1205.3 L280.9,1204.2 L280.9,1203.1 L281.0,1202.1 L281.0,1201.0 L281.0,1200.0 L281.1,1198.9 L281.1,1197.9 L281.1,1196.8 L281.1,1195.8 L281.2,1194.7 L281.2,1193.6 L281.2,1192.6 L281.3,1191.5 L281.3,1190.5 L281.3,1189.4 L281.3,1188.4 L281.4,1187.3 L281.4,1186.2 L281.4,1185.2 L281.5,1184.1 L281.5,1183.1 L281.5,1182.0 L281.5,1181.0 L281.6,1179.9 L281.6,1178.8 L281.6,1177.8 L281.6,1176.7 L281.7,1175.7 L281.7,1174.6 L281.7,1173.6 L281.7,1172.5 L281.8,1171.5 L281.8,1170.4 L281.8,1169.3 L281.8,1168.3 L281.9,1167.2 L281.9,1166.2 L281.9,1165.1 L281.9,1164.1 L282.0,1163.0 L282.0,1161.9 L282.0,1160.9 L282.1,1159.8 L282.1,1158.8 L282.1,1157.7 L282.1,1156.7 L282.1,1155.6 L282.2,1154.5 L282.2,1153.5 L282.2,1152.4 L282.2,1151.4 L282.3,1150.3 L282.3,1149.3 L282.3,1148.2 L282.3,1147.1 L282.4,1146.1 L282.4,1145.0 L282.4,1144.0 L282.4,1142.9 L282.5,1141.9 L282.5,1140.8 L282.5,1139.8 L282.5,1138.7 L282.6,1137.6 L282.6,1136.6 L282.6,1135.5 L282.6,1134.5 L282.7,1133.4 L282.7,1132.4 L282.7,1131.3 L282.7,1130.2 L282.7,1129.2 L282.8,1128.1 L282.8,1127.1 L282.8,1126.0 L282.8,1125.0 L282.9,1123.9 L282.9,1122.8 L282.9,1121.8 L282.9,1120.7 L282.9,1119.7 L283.0,1118.6 L283.0,1117.6 L283.0,1116.5 L283.0,1115.4 L283.1,1114.4 L283.1,1113.3 L283.1,1112.3 L283.1,1111.2 L283.1,1110.2 L283.2,1109.1 L283.2,1108.1 L283.2,1107.0 L283.2,1105.9 L283.3,1104.9 L283.3,1103.8 L283.3,1102.8 L283.3,1101.7 L283.3,1100.7 L283.4,1099.6 L283.4,1098.5 L283.4,1097.5 L283.4,1096.4 L283.5,1095.4 L283.5,1094.3 L283.5,1093.3 L283.5,1092.2 L283.5,1091.1 L283.6,1090.1 L283.6,1089.0 L283.6,1088.0 L283.6,1086.9 L283.6,1085.9 L283.7,1084.8 L283.7,1083.7 L283.7,1082.7 L283.7,1081.6 L283.7,1080.6 L283.8,1079.5 L283.8,1078.5 L283.8,1077.4 L283.8,1076.4 L283.9,1075.3 L283.9,1074.2 L283.9,1073.2 L283.9,1072.1 L283.9,1071.1 L284.0,1070.0 L284.0,1069.0 L284.0,1067.9 L284.0,1066.8 L284.0,1065.8 L284.1,1064.7 L284.1,1063.7 L284.1,1062.6 L284.1,1061.6 L284.2,1060.5 L284.2,1059.4 L284.2,1058.4 L284.2,1057.3 L284.2,1056.3 L284.3,1055.2 L284.3,1054.2 L284.3,1053.1 L284.3,1052.0 L284.3,1051.0 L284.4,1049.9 L284.4,1048.9 L284.4,1047.8 L284.4,1046.8 L284.4,1045.7 L284.5,1044.7 L284.5,1043.6 L284.5,1042.5 L284.5,1041.5 L284.6,1040.4 L284.6,1039.4 L284.6,1038.3 L284.6,1037.3 L284.6,1036.2 L284.7,1035.1 L284.7,1034.1 L284.7,1033.0 L284.7,1032.0 L284.7,1030.9 L284.8,1029.9 L284.8,1028.8 L284.8,1027.7 L284.8,1026.7 L284.9,1025.6 L284.9,1024.6 L284.9,1023.5 L284.9,1022.5 L284.9,1021.4 L285.0,1020.3 L285.0,1019.3 L285.0,1018.2 L285.0,1017.2 L285.0,1016.1 L285.1,1015.1 L285.1,1014.0 L285.1,1013.0 L285.1,1011.9 L285.2,1010.8 L285.2,1009.8 L285.2,1008.7 L285.2,1007.7 L285.2,1006.6 L285.3,1005.6 L285.3,1004.5 L285.3,1003.4 L285.3,1002.4 L285.4,1001.3 L285.4,1000.3 L285.4,999.2 L285.4,998.2 L285.5,997.1 L285.5,996.0 L285.5,995.0 L285.5,993.9 L285.5,992.9 L285.6,991.8 L285.6,990.8 L285.6,989.7 L285.6,988.7 L285.7,987.6 L285.7,986.5 L285.7,985.5 L285.7,984.4 L285.8,983.4 L285.8,982.3 L285.8,981.3 L285.8,980.2 L285.8,979.1 L285.9,978.1 L285.9,977.0 L285.9,976.0 L285.9,974.9 L286.0,973.9 L286.0,972.8 L286.0,971.7 L286.0,970.7 L286.1,969.6 L286.1,968.6 L286.1,967.5 L286.1,966.5 L286.2,965.4 L286.2,964.4 L286.2,963.3 L286.2,962.2 L286.3,961.2 L286.3,960.1 L286.3,959.1 L286.3,958.0 L286.4,957.0 L286.4,955.9 L286.4,954.8 L286.4,953.8 L286.5,952.7 L286.5,951.7 L286.5,950.6 L286.5,949.6 L286.6,948.5 L286.6,947.4 L286.6,946.4 L286.6,945.3 L286.7,944.3 L286.7,943.2 L286.7,942.2 L286.7,941.1 L286.8,940.0 L286.8,939.0 L286.8,937.9 L286.8,936.9 L286.9,935.8 L286.9,934.8 L286.9,933.7 L286.9,932.7 L287.0,931.6 L287.0,930.5 L287.0,929.5 L287.0,928.4 L287.1,927.4 L287.1,926.3 L287.1,925.3 L287.1,924.2 L287.2,923.1 L287.2,922.1 L287.2,921.0 L287.2,920.0 L287.3,918.9 L287.3,917.9 L287.3,916.8 L287.4,915.8 L287.4,914.7 L287.4,913.6 L287.4,912.6 L287.5,911.5 L287.5,910.5 L287.5,909.4 L287.5,908.4 L287.6,907.3 L287.6,906.2 L287.6,905.2 L287.6,904.1 L287.7,903.1 L287.7,902.0 L287.7,901.0 L287.8,899.9 L287.8,898.8 L287.8,897.8 L287.8,896.7 L287.9,895.7 L287.9,894.6 L287.9,893.6 L287.9,892.5 L288.0,891.5 L288.0,890.4 L288.0,889.3 L288.1,888.3 L288.1,887.2 L288.1,886.2 L288.1,885.1 L288.2,884.1 L288.2,883.0 L288.2,881.9 L288.2,880.9 L288.3,879.8 L288.3,878.8 L288.3,877.7 L288.4,876.7 L288.4,875.6 L288.4,874.5 L288.4,873.5 L288.5,872.4 L288.5,871.4 L288.5,870.3 L288.6,869.3 L288.6,868.2 L288.6,867.2 L288.6,866.1 L288.7,865.0 L288.7,864.0 L288.7,862.9 L288.8,861.9 L288.8,860.8 L288.8,859.8 L288.8,858.7 L288.9,857.6 L288.9,856.6 L288.9,855.5 L289.0,854.5 L289.0,853.4 L289.0,852.4 L289.0,851.3 L289.1,850.2 L289.1,849.2 L289.1,848.1 L289.2,847.1 L289.2,846.0 L289.2,845.0 L289.3,843.9 L289.3,842.9 L289.3,841.8 L289.3,840.7 L289.4,839.7 L289.4,838.6 L289.4,837.6 L289.5,836.5 L289.5,835.5 L289.5,834.4 L289.6,833.3 L289.6,832.3 L289.6,831.2 L289.6,830.2 L289.7,829.1 L289.7,828.1 L289.7,827.0 L289.8,825.9 L289.8,824.9 L289.8,823.8 L289.9,822.8 L289.9,821.7 L289.9,820.7 L289.9,819.6 L290.0,818.6 L290.0,817.5 L290.0,816.4 L290.1,815.4 L290.1,814.3 L290.1,813.3 L290.2,812.2 L290.2,811.2 L290.2,810.1 L290.3,809.0 L290.3,808.0 L290.3,806.9 L290.3,805.9 L290.4,804.8 L290.4,803.8 L290.4,802.7 L290.5,801.7 L290.5,800.6 L290.5,799.5 L290.6,798.5 L290.6,797.4 L290.6,796.4 L290.7,795.3 L290.7,794.3 L290.7,793.2 L290.8,792.1 L290.8,791.1 L290.8,790.0 L290.8,789.0 L290.9,787.9 L290.9,786.9 L290.9,785.8 L291.0,784.7 L291.0,783.7 L291.0,782.6 L291.1,781.6 L291.1,780.5 L291.1,779.5 L291.2,778.4 L291.2,777.4 L291.2,776.3 L291.3,775.2 L291.3,774.2 L291.3,773.1 L291.4,772.1 L291.4,771.0 L291.4,770.0 L291.5,768.9 L291.5,767.8 L291.5,766.8 L291.6,765.7 L291.6,764.7 L291.6,763.6 L291.7,762.6 L291.7,761.5 L291.7,760.5 L291.8,759.4 L291.8,758.3 L291.8,757.3 L291.9,756.2 L291.9,755.2 L291.9,754.1 L292.0,753.1 L292.0,752.0 L292.0,750.9 L292.1,749.9 L292.1,748.8 L292.1,747.8 L292.2,746.7 L292.2,745.7 L292.2,744.6 L292.3,743.5 L292.3,742.5 L292.3,741.4 L292.4,740.4 L292.4,739.3 L292.4,738.3 L292.5,737.2 L292.5,736.2 L292.5,735.1 L292.6,734.0 L292.6,733.0 L292.6,731.9 L292.7,730.9 L292.7,729.8 L292.7,728.8 L292.8,727.7 L292.8,726.6 L292.8,725.6 L292.9,724.5 L292.9,723.5 L292.9,722.4 L293.0,721.4 L293.0,720.3 L293.0,719.3 L293.1,718.2 L293.1,717.1 L293.1,716.1 L293.2,715.0 L293.2,714.0 L293.3,712.9 L293.3,711.9 L293.3,710.8 L293.4,709.7 L293.4,708.7 L293.4,707.6 L293.5,706.6 L293.5,705.5 L293.5,704.5 L293.6,703.4 L293.6,702.4 L293.6,701.3 L293.7,700.2 L293.7,699.2 L293.7,698.1 L293.8,697.1 L293.8,696.0 L293.9,695.0 L293.9,693.9 L293.9,692.8 L294.0,691.8 L294.0,690.7 L294.0,689.7 L294.1,688.6 L294.1,687.6 L294.1,686.5 L294.2,685.4 L294.2,684.4 L294.3,683.3 L294.3,682.3 L294.3,681.2 L294.4,680.2 L294.4,679.1 L294.4,678.1 L294.5,677.0 L294.5,675.9 L294.5,674.9 L294.6,673.8 L294.6,672.8 L294.7,671.7 L294.7,670.7 L294.7,669.6 L294.8,668.5 L294.8,667.5 L294.8,666.4 L294.9,665.4 L294.9,664.3 L295.0,663.3 L295.0,662.2 L295.0,661.2 L295.1,660.1 L295.1,659.0 L295.1,658.0 L295.2,656.9 L295.2,655.9 L295.3,654.8 L295.3,653.8 L295.3,652.7 L295.4,651.6 L295.4,650.6 L295.4,649.5 L295.5,648.5 L295.5,647.4 L295.6,646.4 L295.6,645.3 L295.6,644.3 L295.7,643.2 L295.7,642.1 L295.7,641.1 L295.8,640.0 L295.8,639.0 L295.9,637.9 L295.9,636.9 L295.9,635.8 L296.0,634.7 L296.0,633.7 L296.1,632.6 L296.1,631.6 L296.1,630.5 L296.2,629.5 L296.2,628.4 L296.2,627.4 L296.3,626.3 L296.3,625.2 L296.4,624.2 L296.4,623.1 L296.4,622.1 L296.5,621.0 L296.5,620.0 L296.6,618.9 L296.6,617.8 L296.6,616.8 L296.7,615.7 L296.7,614.7 L296.8,613.6 L296.8,612.6 L296.8,611.5 L296.9,610.5 L296.9,609.4 L297.0,608.3 L297.0,607.3 L297.0,606.2 L297.1,605.2 L297.1,604.1 L297.2,603.1 L297.2,602.0 L297.2,600.9 L297.3,599.9 L297.3,598.8 L297.4,597.8 L297.4,596.7 L297.4,595.7 L297.5,594.6 L297.5,593.6 L297.6,592.5 L297.6,591.4 L297.6,590.4 L297.7,589.3 L297.7,588.3 L297.8,587.2 L297.8,586.2 L297.8,585.1 L297.9,584.0 L297.9,583.0 L298.0,581.9 L298.0,580.9 L298.0,579.8 L298.1,578.8 L298.1,577.7 L298.2,576.7 L298.2,575.6 L298.3,574.5 L298.3,573.5 L298.3,572.4 L298.4,571.4 L298.4,570.3 L298.5,569.3 L298.5,568.2 L298.5,567.2 L298.6,566.1 L298.6,565.0 L298.7,564.0 L298.7,562.9 L298.8,561.9 L298.8,560.8 L298.8,559.8 L298.9,558.7 L298.9,557.6 L299.0,556.6 L299.0,555.5 L299.0,554.5 L299.1,553.4 L299.1,552.4 L299.2,551.3 L299.2,550.3 L299.3,549.2 L299.3,548.1 L299.3,547.1 L299.4,546.0 L299.4,545.0 L299.5,543.9 L299.5,542.9 L299.6,541.8 L299.6,540.7 L299.6,539.7 L299.7,538.6 L299.7,537.6 L299.8,536.5 L299.8,535.5 L299.9,534.4 L299.9,533.4 L299.9,532.3 L300.0,531.2 L300.0,530.2 L300.1,529.1 L300.1,528.1 L300.2,527.0 L300.2,526.0 L300.3,524.9 L300.3,523.9 L300.3,522.8 L300.4,521.7 L300.4,520.7 L300.5,519.6 L300.5,518.6 L300.6,517.5 L300.6,516.5 L300.6,515.4 L300.7,514.3 L300.7,513.3 L300.8,512.2 L300.8,511.2 L300.9,510.1 L300.9,509.1 L301.0,508.0 L301.0,507.0 L301.0,505.9 L301.1,504.8 L301.1,503.8 L301.2,502.7 L301.2,501.7 L301.3,500.6 L301.3,499.6 L301.4,498.5 L301.4,497.5 L301.4,496.4 L301.5,495.3 L301.5,494.3 L301.6,493.2 L301.6,492.2 L301.7,491.1 L301.7,490.1 L301.8,489.0 L301.8,487.9 L301.9,486.9 L301.9,485.8 L301.9,484.8 L302.0,483.7 L302.0,482.7 L302.1,481.6 L302.1,480.6 L302.2,479.5 L302.2,478.4 L302.3,477.4 L302.3,476.3 L302.4,475.3 L302.4,474.2 L302.5,473.2 L302.5,472.1 L302.5,471.1 L302.6,470.0 L302.6,468.9 L302.7,467.9 L302.7,466.8 L302.8,465.8 L302.8,464.7 L302.9,463.7 L302.9,462.6 L303.0,461.6 L303.0,460.5 L303.1,459.4 L303.1,458.4 L303.2,457.3 L303.2,456.3 L303.2,455.2 L303.3,454.2 L303.3,453.1 L303.4,452.0 L303.4,451.0 L303.5,449.9 L303.5,448.9 L303.6,447.8 L303.6,446.8 L303.7,445.7 L303.7,444.7 L303.8,443.6 L303.8,442.5 L303.9,441.5 L303.9,440.4 L304.0,439.4 L304.0,438.3 L304.1,437.3 L304.1,436.2 L304.1,435.2 L304.2,434.1 L304.2,433.0 L304.3,432.0 L304.3,430.9 L304.4,429.9 L304.4,428.8 L304.5,427.8 L304.5,426.7 L304.6,425.7 L304.6,424.6 L304.7,423.5 L304.7,422.5 L304.8,421.4 L304.8,420.4 L304.9,419.3 L304.9,418.3 L305.0,417.2 L305.0,416.2 L305.1,415.1 L305.1,414.0 L305.2,413.0 L305.2,411.9 L305.3,410.9 L305.3,409.8 L305.4,408.8 L305.4,407.7 L305.5,406.7 L305.5,405.6 L305.6,404.5 L305.6,403.5 L305.7,402.4 L305.7,401.4 L305.8,400.3 L305.8,399.3 L305.9,398.2 L305.9,397.2 L306.0,396.1 L306.0,395.0 L306.1,394.0 L306.2,392.9 L306.2,391.9 L306.3,390.8 L306.3,389.8 L306.4,388.7 L306.4,387.7 L306.5,386.6 L306.5,385.5 L306.6,384.5 L306.6,383.4 L306.7,382.4 L306.7,381.3 L306.8,380.3 L306.8,379.2 L306.9,378.2 L307.0,377.1 L307.0,376.0 L307.1,375.0 L307.1,373.9 L307.2,372.9 L307.2,371.8 L307.3,370.8 L307.3,369.7 L307.4,368.7 L307.4,367.6 L307.5,366.5 L307.6,365.5 L307.6,364.4 L307.7,363.4 L307.7,362.3 L307.8,361.3 L307.8,360.2 L307.9,359.2 L308.0,358.1 L308.0,357.0 L308.1,356.0 L308.1,354.9 L308.2,353.9 L308.3,352.8 L308.3,351.8 L308.4,350.7 L308.4,349.7 L308.5,348.6 L308.5,347.6 L308.6,346.5 L308.7,345.4 L308.7,344.4 L308.8,343.3 L308.8,342.3 L308.9,341.2 L309.0,340.2 L309.0,339.1 L309.1,338.1 L309.2,337.0 L309.2,335.9 L309.3,334.9 L309.3,333.8 L309.4,332.8 L309.5,331.7 L309.5,330.7 L309.6,329.6 L309.7,328.6 L309.7,327.5 L309.8,326.5 L309.8,325.4 L309.9,324.3 L310.0,323.3 L310.0,322.2 L310.1,321.2 L310.2,320.1 L310.2,319.1 L310.3,318.0 L310.4,317.0 L310.4,315.9 L310.5,314.9 L310.6,313.8 L310.6,312.7 L310.7,311.7 L310.8,310.6 L310.8,309.6 L310.9,308.5 L311.0,307.5 L311.0,306.4 L311.1,305.4 L311.2,304.3 L311.3,303.3 L311.3,302.2 L311.4,301.1 L311.5,300.1 L311.5,299.0 L311.6,298.0 L311.7,296.9 L311.8,295.9 L311.8,294.8 L311.9,293.8 L312.0,292.7 L312.0,291.7 L312.1,290.6 L312.2,289.6 L312.3,288.5 L312.3,287.4 L312.4,286.4 L312.5,285.3 L312.6,284.3 L312.6,283.2 L312.7,282.2 L312.8,281.1 L312.9,280.1 L312.9,279.0 L313.0,278.0 L313.1,276.9 L313.2,275.8 L313.2,274.8 L313.3,273.7 L313.4,272.7 L313.5,271.6 L313.6,270.6 L313.6,269.5 L313.7,268.5 L313.8,267.4 L313.9,266.4 L314.0,265.3 L314.0,264.3 L314.1,263.2 L314.2,262.2 L314.3,261.1 L314.4,260.0 L314.5,259.0 L314.5,257.9 L314.6,256.9 L314.7,255.8 L314.8,254.8 L314.9,253.7 L315.0,252.7 L315.0,251.6 L315.1,250.6 L315.2,249.5 L315.3,248.5 L315.4,247.4 L315.5,246.3 L315.6,245.3 L315.6,244.2 L315.7,243.2 L315.8,242.1 L315.9,241.1 L316.0,240.0 L316.1,239.0 L316.2,237.9 L316.3,236.9 L316.4,235.8 L316.5,234.8 L316.5,233.7 L316.6,232.7 L316.7,231.6 L316.8,230.6 L316.9,229.5 L317.0,228.4 L317.1,227.4 L317.2,226.3 L317.3,225.3 L317.4,224.2 L317.5,223.2 L317.6,222.1 L317.7,221.1 L317.8,220.0 L317.9,219.0 L318.0,217.9 L318.1,216.9 L318.2,215.8 L318.3,214.8 L318.4,213.7 L318.5,212.7 L318.6,211.6 L318.7,210.6 L318.8,209.5 L318.9,208.4 L319.0,207.4 L319.1,206.3 L319.2,205.3 L319.3,204.2 L319.4,203.2 L319.5,202.1 L319.6,201.1 L319.7,200.0 L319.8,199.0 L319.9,197.9 L320.0,196.9 L320.1,195.8 L320.2,194.8 L320.3,193.7 L320.4,192.7 L320.5,191.6 L320.6,190.6 L320.8,189.5 L320.9,188.5 L321.0,187.4 L321.1,186.4 L321.2,185.3 L321.3,184.3 L321.4,183.2 L321.5,182.1 L321.6,181.1 L321.8,180.0 L321.9,179.0 L322.0,177.9 L322.1,176.9 L322.2,175.8 L322.3,174.8 L322.4,173.7 L322.6,172.7 L322.7,171.6 L322.8,170.6 L322.9,169.5 L323.0,168.5 L323.2,167.4 L323.3,166.4 L323.4,165.3 L323.5,164.3 L323.6,163.2 L323.8,162.2 L323.9,161.1 L324.0,160.1 L324.1,159.0 L324.2,158.0 L324.4,156.9 L324.5,155.9 L324.6,154.8 L324.7,153.8 L324.9,152.7 L325.0,151.7 L325.1,150.6 L325.3,149.6 L325.4,148.5 L325.5,147.5 L325.6,146.4 L325.8,145.4 L325.9,144.3 L326.0,143.3 L326.2,142.2 L326.3,141.2 L326.4,140.1 L326.6,139.1 L326.7,138.0 L326.8,137.0 L327.0,135.9 L327.1,134.9 L327.3,133.8 L327.4,132.8 L327.6,131.7 L327.7,130.7 L327.9,129.6 L328.0,128.6 L328.2,127.5 L328.3,126.5 L328.5,125.4 L328.7,124.4 L328.8,123.4 L329.0,122.3 L329.2,121.3 L329.4,120.2 L329.6,119.2 L329.8,118.2 L330.0,117.1 L330.2,116.1 L330.4,115.1 L330.6,114.0 L330.8,113.0 L331.1,112.0 L331.3,110.9 L331.5,109.9 L331.8,108.9 L332.0,107.9 L332.3,106.8 L332.5,105.8 L332.8,104.8 L333.1,103.8 L333.4,102.8 L333.7,101.8 L334.0,100.7 L334.3,99.7 L334.6,98.7 L334.9,97.7 L335.2,96.7 L335.6,95.7 L335.9,94.7 L336.3,93.7 L336.6,92.7 L337.0,91.7 L337.4,90.7 L337.8,89.7 L338.2,88.7 L338.6,87.8 L339.0,86.8 L339.5,85.8 L339.9,84.8 L340.4,83.8 L340.8,82.9 L341.3,81.9 L341.8,80.9 L342.3,80.0 L342.8,79.1 L343.4,78.2 L344.0,77.3 L344.6,76.5 L345.3,75.7 L346.0,75.0 L346.7,74.3 L347.5,73.7 L348.3,73.1 L349.2,72.6 L350.1,72.1 L351.1,71.7 L352.0,71.4 L353.0,71.1 L354.1,70.8 L355.1,70.7 L356.2,70.6 L357.3,70.5 L358.4,70.5 L359.5,70.5 L360.5,70.6 L361.6,70.8 L362.7,71.0 L363.7,71.2 L364.7,71.5 L365.7,71.9 L366.7,72.3 L367.7,72.7 L368.6,73.2 L369.5,73.7 L370.5,74.2 L371.4,74.8 L372.3,75.4 L373.2,76.0 L374.0,76.6 L374.9,77.2 L375.8,77.8 L376.7,78.4 L377.6,79.0 L378.4,79.6 L379.3,80.2 L380.2,80.8 L381.1,81.5 L381.9,82.0 L382.8,82.6 L383.7,83.2 L384.6,83.8 L385.5,84.3 L386.4,84.9 L387.3,85.4 L388.2,85.9 L389.1,86.4 L390.1,86.9 L391.0,87.3 L391.9,87.7 L392.9,88.1 L393.8,88.5 L394.8,88.9 L395.8,89.2 L396.7,89.5 L397.7,89.7 L398.7,90.0 L399.7,90.2 L400.8,90.3 L401.8,90.5 L402.8,90.6 L403.9,90.7 L404.9,90.8 L406.0,90.8 L407.1,90.8 L408.1,90.8 L409.2,90.8 L410.3,90.8 L411.3,90.8 L412.4,90.7 L413.5,90.7 L414.6,90.6 L415.7,90.5 L416.8,90.5 L417.8,90.4 L418.9,90.3 L420.0,90.2 L421.1,90.1 L422.1,90.1 L423.2,90.0 L424.3,89.9 L425.4,89.8 L426.4,89.7 L427.5,89.7 L428.5,89.6 L429.6,89.5 L430.7,89.4 L431.7,89.4 L432.8,89.3 L433.9,89.2 L434.9,89.2 L436.0,89.1 L437.0,89.1 L438.1,89.0 L439.1,89.0 L440.2,89.0 L441.2,88.9 L442.3,88.9 L443.3,88.9 L444.4,88.9 L445.4,88.9 L446.5,88.8 L447.5,88.9 L448.6,88.9 L449.6,88.9 L450.6,88.9 L451.7,89.0 L452.7,89.0 L453.8,89.1 L454.8,89.1 L455.9,89.2 L456.9,89.3 L458.0,89.4 L459.0,89.5 L460.0,89.6 L461.1,89.7 L462.1,89.9 L463.2,90.0 L464.2,90.2 L465.3,90.4 L466.3,90.5 L467.3,90.7 L468.4,90.9 L469.4,91.1 L470.5,91.3 L471.5,91.5 L472.6,91.7 L473.6,91.9 L474.6,92.1 L475.7,92.3 L476.7,92.5 L477.8,92.7 L478.8,93.0 L479.9,93.2 L480.9,93.4 L482.0,93.6 L483.0,93.7 L484.0,93.9 L485.1,94.1 L486.1,94.3 L487.2,94.5 L488.2,94.6 L489.3,94.8 L490.3,94.9 L491.4,95.0 L492.4,95.2 L493.5,95.3 L494.5,95.4 L495.6,95.5 L496.6,95.6 L497.7,95.7 L498.7,95.8 L499.8,95.8 L500.8,95.9 L501.9,96.0 L502.9,96.0 L504.0,96.1 L505.0,96.1 L506.1,96.2 L507.1,96.2 L508.2,96.2 L509.2,96.3 L510.3,96.3 L511.3,96.3 L512.4,96.3 L513.4,96.3 L514.5,96.3 L515.5,96.3 L516.6,96.3 L517.6,96.3 L518.7,96.3 L519.7,96.3 L520.8,96.3 L521.9,96.3 L522.9,96.3 L524.0,96.3 L525.0,96.2 L526.1,96.2 L527.1,96.2 L528.2,96.2 L529.3,96.2 L530.3,96.1 L531.4,96.1 L532.4,96.1 L533.5,96.1 L534.5,96.0 L535.6,96.0 L536.7,96.0 L537.7,95.9 L538.8,95.9 L539.8,95.9 L540.9,95.9 L542.0,95.9 L543.0,95.8 L544.1,95.8 L545.1,95.8 L546.2,95.8 L547.3,95.8 L548.3,95.8 L549.4,95.8 L550.4,95.8 L551.5,95.7 L552.5,95.7 L553.6,95.8 L554.7,95.8 L555.7,95.8 L556.8,95.8 L557.8,95.8 L558.9,95.8 L559.9,95.8 L561.0,95.9 L562.1,95.9 L563.1,96.0 L564.2,96.0 L565.2,96.1 L566.3,96.1 L567.3,96.2 L568.4,96.2 L569.4,96.3 L570.5,96.4 L571.5,96.5 L572.6,96.5 L573.7,96.6 L574.7,96.7 L575.8,96.8 L576.8,96.9 L577.9,97.0 L578.9,97.1 L580.0,97.2 L581.0,97.3 L582.1,97.4 L583.1,97.6 L584.2,97.7 L585.2,97.8 L586.3,97.9 L587.3,98.0 L588.4,98.1 L589.4,98.2 L590.5,98.3 L591.5,98.5 L592.6,98.6 L593.6,98.7 L594.7,98.8 L595.7,98.9 L596.8,99.0 L597.8,99.1 L598.9,99.2 L599.9,99.3 L601.0,99.4 L602.0,99.5 L603.1,99.6 L604.2,99.7 L605.2,99.7 L606.3,99.8 L607.3,99.9 L608.4,100.0 L609.4,100.0 L610.5,100.1 L611.5,100.2 L612.6,100.2 L613.6,100.3 L614.7,100.3 L615.7,100.4 L616.8,100.4 L617.9,100.5 L618.9,100.5 L620.0,100.6 L621.0,100.6 L622.1,100.7 L623.1,100.7 L624.2,100.7 L625.2,100.8 L626.3,100.8 L627.4,100.8 L628.4,100.8 L629.5,100.9 L630.5,100.9 L631.6,100.9 L632.6,100.9 L633.7,101.0 L634.8,101.0 L635.8,101.0 L636.9,101.0 L637.9,101.0 L639.0,101.0 L640.0,101.0 L641.1,101.1 L642.2,101.1 L643.2,101.1 L644.3,101.1 L645.3,101.1 L646.4,101.1 L647.4,101.1 L648.5,101.1 L649.6,101.1 L650.6,101.1 L651.7,101.1 L652.7,101.1 L653.8,101.1 L654.8,101.1 L655.9,101.1 L657.0,101.1 L658.0,101.1 L659.1,101.1 L660.1,101.1 L661.2,101.1 L662.2,101.1 L663.3,101.1 L664.4,101.1 L665.4,101.2 L666.5,101.2 L667.5,101.2 L668.6,101.2 L669.6,101.2 L670.7,101.2 L671.8,101.2 L672.8,101.2 L673.9,101.2 L674.9,101.2 L676.0,101.2 L677.1,101.2 L678.1,101.3 L679.2,101.3 L680.2,101.3 L681.3,101.3 L682.3,101.3 L683.4,101.3 L684.4,101.4 L685.5,101.4 L686.6,101.4 L687.6,101.4 L688.7,101.4 L689.7,101.5 L690.8,101.5 L691.8,101.5 L692.9,101.5 L694.0,101.6 L695.0,101.6 L696.1,101.6 L697.1,101.6 L698.2,101.7 L699.2,101.7 L700.3,101.7 L701.4,101.8 L702.4,101.8 L703.5,101.8 L704.5,101.9 L705.6,101.9 L706.6,101.9 L707.7,101.9 L708.7,102.0 L709.8,102.0 L710.9,102.0 L711.9,102.1 L713.0,102.1 L714.0,102.2 L715.1,102.2 L716.1,102.2 L717.2,102.3 L718.3,102.3 L719.3,102.3 L720.4,102.4 L721.4,102.4 L722.5,102.4 L723.5,102.5 L724.6,102.5 L725.6,102.6 L726.7,102.6 L727.8,102.6 L728.8,102.7 L729.9,102.7 L730.9,102.7 L732.0,102.8 L733.0,102.8 L734.1,102.9 L735.2,102.9 L736.2,102.9 L737.3,103.0 L738.3,103.0 L739.4,103.1 L740.4,103.1 L741.5,103.1 L742.5,103.2 L743.6,103.2 L744.7,103.3 L745.7,103.3 L746.8,103.3 L747.8,103.4 L748.9,103.4 L749.9,103.5 L751.0,103.5 L752.0,103.5 L753.1,103.6 L754.2,103.6 L755.2,103.7 L756.3,103.7 L757.3,103.7 L758.4,103.8 L759.4,103.8 L760.5,103.9 L761.6,103.9 L762.6,103.9 L763.7,104.0 L764.7,104.0 L765.8,104.1 L766.8,104.1 L767.9,104.2 L768.9,104.2 L770.0,104.2 L771.1,104.3 L772.1,104.3 L773.2,104.4 L774.2,104.4 L775.3,104.5 L776.3,104.5 L777.4,104.5 L778.4,104.6 L779.5,104.6 L780.6,104.7 L781.6,104.7 L782.7,104.8 L783.7,104.8 L784.8,104.8 L785.8,104.9 L786.9,104.9 L788.0,105.0 L789.0,105.0 L790.1,105.1 L791.1,105.1 L792.2,105.1 L793.2,105.2 L794.3,105.2 L795.3,105.3 L796.4,105.3 L797.5,105.4 L798.5,105.4 L799.6,105.5 L800.6,105.5 L801.7,105.5 L802.7,105.6 L803.8,105.6 L804.8,105.7 L805.9,105.7 L807.0,105.8 L808.0,105.8 L809.1,105.8 L810.1,105.9 L811.2,105.9 L812.2,106.0 L813.3,106.0 L814.4,106.1 L815.4,106.1 L816.5,106.2 L817.5,106.2 L818.6,106.2 L819.6,106.3 L820.7,106.3 L821.7,106.4 L822.8,106.4 L823.9,106.5 L824.9,106.5 L826.0,106.6 L827.0,106.6 L828.1,106.6 L829.1,106.7 L830.2,106.7 L831.2,106.8 L832.3,106.8 L833.4,106.9 L834.4,106.9 L835.5,107.0 L836.5,107.0 L837.6,107.0 L838.6,107.1 L839.7,107.1 L840.8,107.2 L841.8,107.2 L842.9,107.3 L843.9,107.3 L845.0,107.3 L846.0,107.4 L847.1,107.4 L848.1,107.5 L849.2,107.5 L850.3,107.6 L851.3,107.6 L852.4,107.7 L853.4,107.7 L854.5,107.7 L855.5,107.8 L856.6,107.8 L857.6,107.9 L858.7,107.9 L859.8,108.0 L860.8,108.0 L861.9,108.0 L862.9,108.1 L864.0,108.1 L865.0,108.2 L866.1,108.2 L867.2,108.3 L868.2,108.3 L869.3,108.3 L870.3,108.4 L871.4,108.4 L872.4,108.5 L873.5,108.5 L874.5,108.6 L875.6,108.6 L876.7,108.6 L877.7,108.7 L878.8,108.7 L879.8,108.8 L880.9,108.8 L881.9,108.8 L883.0,108.9 L884.0,108.9 L885.1,109.0 L886.2,109.0 L887.2,109.1 L888.3,109.1 L889.3,109.1 L890.4,109.2 L891.4,109.2 L892.5,109.3 L893.6,109.3 L894.6,109.3 L895.7,109.4 L896.7,109.4 L897.8,109.5 L898.8,109.5 L899.9,109.6 L900.9,109.6 L902.0,109.6 L903.1,109.7 L904.1,109.7 L905.2,109.8 L906.2,109.8 L907.3,109.8 L908.3,109.9 L909.4,109.9 L910.4,110.0 L911.5,110.0 L912.6,110.0 L913.6,110.1 L914.7,110.1 L915.7,110.2 L916.8,110.2 L917.8,110.2 L918.9,110.3 L920.0,110.3 L921.0,110.4 L922.1,110.4 L923.1,110.4 L924.2,110.5 L925.2,110.5 L926.3,110.5 L927.3,110.6 L928.4,110.6 L929.5,110.7 L930.5,110.7 L931.6,110.7 L932.6,110.8 L933.7,110.8 L934.7,110.9 L935.8,110.9 L936.9,110.9 L937.9,111.0 L939.0,111.0 L940.0,111.0 L941.1,111.1 L942.1,111.1 L943.2,111.2 L944.2,111.2 L945.3,111.2 L946.4,111.3 L947.4,111.3 L948.5,111.3 L949.5,111.4 L950.6,111.4 L951.6,111.5 L952.7,111.5 L953.8,111.5 L954.8,111.6 L955.9,111.6 L956.9,111.6 L958.0,111.7 L959.0,111.7 L960.1,111.8 L961.1,111.8 L962.2,111.8 L963.3,111.9 L964.3,111.9 L965.4,111.9 L966.4,112.0 L967.5,112.0 L968.5,112.0 L969.6,112.1 L970.7,112.1 L971.7,112.1 L972.8,112.2 L973.8,112.2 L974.9,112.2 L975.9,112.3 L977.0,112.3 L978.0,112.4 L979.1,112.4 L980.2,112.4 L981.2,112.5 L982.3,112.5 L983.3,112.5 L984.4,112.6 L985.4,112.6 L986.5,112.6 L987.6,112.7 L988.6,112.7 L989.7,112.7 L990.7,112.8 L991.8,112.8 L992.8,112.8 L993.9,112.9 L994.9,112.9 L996.0,112.9 L997.1,113.0 L998.1,113.0 L999.2,113.0 L1000.2,113.1 L1001.3,113.1 L1002.3,113.1 L1003.4,113.2 L1004.5,113.2 L1005.5,113.2 L1006.6,113.2 L1007.6,113.3 L1008.7,113.3 L1009.7,113.3 L1010.8,113.4 L1011.8,113.4 L1012.9,113.4 L1014.0,113.5 L1015.0,113.5 L1016.1,113.5 L1017.1,113.6 L1018.2,113.6 L1019.2,113.6 L1020.3,113.6 L1021.4,113.7 L1022.4,113.7 L1023.5,113.7 L1024.5,113.8 L1025.6,113.8 L1026.6,113.8 L1027.7,113.9 L1028.7,113.9 L1029.8,113.9 L1030.9,113.9 L1031.9,114.0 L1033.0,114.0 L1034.0,114.0 L1035.1,114.1 L1036.1,114.1 L1037.2,114.1 L1038.3,114.1 L1039.3,114.2 L1040.4,114.2 L1041.4,114.2 L1042.5,114.3 L1043.5,114.3 L1044.6,114.3 L1045.7,114.3 L1046.7,114.4 L1047.8,114.4 L1048.8,114.4 L1049.9,114.4 L1050.9,114.5 L1052.0,114.5 L1053.0,114.5 L1054.1,114.5 L1055.2,114.6 L1056.2,114.6 L1057.3,114.6 L1058.3,114.6 L1059.4,114.7 L1060.4,114.7 L1061.5,114.7 L1062.6,114.8 L1063.6,114.8 L1064.7,114.8 L1065.7,114.8 L1066.8,114.8 L1067.8,114.9 L1068.9,114.9 L1070.0,114.9 L1071.0,114.9 L1072.1,115.0 L1073.1,115.0 L1074.2,115.0 L1075.2,115.0 L1076.3,115.1 L1077.3,115.1 L1078.4,115.1 L1079.5,115.1 L1080.5,115.2 L1081.6,115.2 L1082.6,115.2 L1083.7,115.2 L1084.7,115.2 L1085.8,115.3 L1086.9,115.3 L1087.9,115.3 L1089.0,115.3 L1090.0,115.4 L1091.1,115.4 L1092.1,115.4 L1093.2,115.4 L1094.3,115.4 L1095.3,115.5 L1096.4,115.5 L1097.4,115.5 L1098.5,115.5 L1099.5,115.5 L1100.6,115.6 L1101.7,115.6 L1102.7,115.6 L1103.8,115.6 L1104.8,115.7 L1105.9,115.7 L1106.9,115.7 L1108.0,115.7 L1109.1,115.7 L1110.1,115.8 L1111.2,115.8 L1112.2,115.8 L1113.3,115.8 L1114.3,115.8 L1115.4,115.9 L1116.4,115.9 L1117.5,115.9 L1118.6,115.9 L1119.6,115.9 L1120.7,115.9 L1121.7,116.0 L1122.8,116.0 L1123.8,116.0 L1124.9,116.0 L1126.0,116.0 L1127.0,116.1 L1128.1,116.1 L1129.1,116.1 L1130.2,116.1 L1131.2,116.1 L1132.3,116.2 L1133.4,116.2 L1134.4,116.2 L1135.5,116.2 L1136.5,116.2 L1137.6,116.2 L1138.6,116.3 L1139.7,116.3 L1140.8,116.3 L1141.8,116.3 L1142.9,116.3 L1143.9,116.4 L1145.0,116.4 L1146.0,116.4 L1147.1,116.4 L1148.2,116.4 L1149.2,116.4 L1150.3,116.5 L1151.3,116.5 L1152.4,116.5 L1153.4,116.5 L1154.5,116.5 L1155.5,116.5 L1156.6,116.6 L1157.7,116.6 L1158.7,116.6 L1159.8,116.6 L1160.8,116.6 L1161.9,116.6 L1162.9,116.7 L1164.0,116.7 L1165.1,116.7 L1166.1,116.7 L1167.2,116.7 L1168.2,116.8 L1169.3,116.8 L1170.3,116.8 L1171.4,116.8 L1172.5,116.8 L1173.5,116.8 L1174.6,116.9 L1175.6,116.9 L1176.7,116.9 L1177.7,116.9 L1178.8,116.9 L1179.9,116.9 L1180.9,117.0 L1182.0,117.0 L1183.0,117.0 L1184.1,117.0 L1185.1,117.0 L1186.2,117.0 L1187.3,117.1 L1188.3,117.1 L1189.4,117.1 L1190.4,117.1 L1191.5,117.1 L1192.5,117.1 L1193.6,117.2 L1194.6,117.2 L1195.7,117.2 L1196.8,117.2 L1197.8,117.2 L1198.9,117.2 L1199.9,117.3 L1201.0,117.3 L1202.0,117.3 L1203.1,117.3 L1204.2,117.3 L1205.2,117.3 L1206.3,117.4 L1207.3,117.4 L1208.4,117.4 L1209.4,117.4 L1210.5,117.4 L1211.6,117.4 L1212.6,117.5 L1213.7,117.5 L1214.7,117.5 L1215.8,117.5 L1216.8,117.5 L1217.9,117.5 L1219.0,117.6 L1220.0,117.6 L1221.1,117.6 L1222.1,117.6 L1223.2,117.6 L1224.2,117.6 L1225.3,117.7 L1226.4,117.7 L1227.4,117.7 L1228.5,117.7 L1229.5,117.7 L1230.6,117.8 L1231.6,117.8 L1232.7,117.8 L1233.8,117.8 L1234.8,117.8 L1235.9,117.8 L1236.9,117.9 L1238.0,117.9 L1239.0,117.9 L1240.1,117.9 L1241.1,117.9 L1242.2,117.9 L1243.3,118.0 L1244.3,118.0 L1245.4,118.0 L1246.4,118.0 L1247.5,118.0 L1248.5,118.0 L1249.6,118.1 L1250.7,118.1 L1251.7,118.1 L1252.8,118.1 L1253.8,118.1 L1254.9,118.2 L1255.9,118.2 L1257.0,118.2 L1258.1,118.2 L1259.1,118.2 L1260.2,118.2 L1261.2,118.3 L1262.3,118.3 L1263.3,118.3 L1264.4,118.3 L1265.5,118.3 L1266.5,118.3 L1267.6,118.4 L1268.6,118.4 L1269.7,118.4 L1270.7,118.4 L1271.8,118.4 L1272.9,118.5 L1273.9,118.5 L1275.0,118.5 L1276.0,118.5 L1277.1,118.5 L1278.1,118.5 L1279.2,118.6 L1280.2,118.6 L1281.3,118.6 L1282.4,118.6 L1283.4,118.6 L1284.5,118.6 L1285.5,118.7 L1286.6,118.7 L1287.6,118.7 L1288.7,118.7 L1289.8,118.7 L1290.8,118.8 L1291.9,118.8 L1292.9,118.8 L1294.0,118.8 L1295.0,118.8 L1296.1,118.8 L1297.2,118.9 L1298.2,118.9 L1299.3,118.9 L1300.3,118.9 L1301.4,118.9 L1302.4,118.9 L1303.5,119.0 L1304.6,119.0 L1305.6,119.0 L1306.7,119.0 L1307.7,119.0 L1308.8,119.1 L1309.8,119.1 L1310.9,119.1 L1312.0,119.1 L1313.0,119.1 L1314.1,119.1 L1315.1,119.2 L1316.2,119.2 L1317.2,119.2 L1318.3,119.2 L1319.4,119.2 L1320.4,119.3 L1321.5,119.3 L1322.5,119.3 L1323.6,119.3 L1324.6,119.3 L1325.7,119.3 L1326.7,119.4 L1327.8,119.4 L1328.9,119.4 L1329.9,119.4 L1331.0,119.4 L1332.0,119.4 L1333.1,119.5 L1334.1,119.5 L1335.2,119.5 L1336.3,119.5 L1337.3,119.5 L1338.4,119.6 L1339.4,119.6 L1340.5,119.6 L1341.5,119.6 L1342.6,119.6 L1343.7,119.6 L1344.7,119.7 L1345.8,119.7 L1346.8,119.7 L1347.9,119.7 L1348.9,119.7 L1350.0,119.8 L1351.1,119.8 L1352.1,119.8 L1353.2,119.8 L1354.2,119.8 L1355.3,119.8 L1356.3,119.9 L1357.4,119.9 L1358.5,119.9 L1359.5,119.9 L1360.6,119.9 L1361.6,119.9 L1362.7,120.0 L1363.7,120.0 L1364.8,120.0 L1365.8,120.0 L1366.9,120.0 L1368.0,120.1 L1369.0,120.1 L1370.1,120.1 L1371.1,120.1 L1372.2,120.1 L1373.2,120.1 L1374.3,120.2 L1375.4,120.2 L1376.4,120.2 L1377.5,120.2 L1378.5,120.2 L1379.6,120.3 L1380.6,120.3 L1381.7,120.3 L1382.8,120.3 L1383.8,120.3 L1384.9,120.3 L1385.9,120.4 L1387.0,120.4 L1388.0,120.4 L1389.1,120.4 L1390.2,120.4 L1391.2,120.4 L1392.3,120.5 L1393.3,120.5 L1394.4,120.5 L1395.4,120.5 L1396.5,120.5 L1397.5,120.6 L1398.6,120.6 L1399.7,120.6 L1400.7,120.6 L1401.8,120.6 L1402.8,120.6 L1403.9,120.7 L1404.9,120.7 L1406.0,120.7 L1407.1,120.7 L1408.1,120.7 L1409.2,120.7 L1410.2,120.8 L1411.3,120.8 L1412.3,120.8 L1413.4,120.8 L1414.5,120.8 L1415.5,120.9 L1416.6,120.9 L1417.6,120.9 L1418.7,120.9 L1419.7,120.9 L1420.8,120.9 L1421.9,121.0 L1422.9,121.0 L1424.0,121.0 L1425.0,121.0 L1426.1,121.0 L1427.1,121.0 L1428.2,121.1 L1429.3,121.1 L1430.3,121.1 L1431.4,121.1 L1432.4,121.1 L1433.5,121.1 L1434.5,121.2 L1435.6,121.2 L1436.6,121.2 L1437.7,121.2 L1438.8,121.2 L1439.8,121.2 L1440.9,121.3 L1441.9,121.3 L1443.0,121.3 L1444.0,121.3 L1445.1,121.3 L1446.2,121.4 L1447.2,121.4 L1448.3,121.4 L1449.3,121.4 L1450.4,121.4 L1451.4,121.4 L1452.5,121.5 L1453.6,121.5 L1454.6,121.5 L1455.7,121.5 L1456.7,121.5 L1457.8,121.5 L1458.8,121.6 L1459.9,121.6 L1461.0,121.6 L1462.0,121.6 L1463.1,121.6 L1464.1,121.6 L1465.2,121.7 L1466.2,121.7 L1467.3,121.7 L1468.4,121.7 L1469.4,121.7 L1470.5,121.7 L1471.5,121.8 L1472.6,121.8 L1473.6,121.8 L1474.7,121.8 L1475.7,121.8 L1476.8,121.8 L1477.9,121.9 L1478.9,121.9 L1480.0,121.9 L1481.0,121.9 L1482.1,121.9 L1483.1,121.9 L1484.2,122.0 L1485.3,122.0 L1486.3,122.0 L1487.4,122.0 L1488.4,122.0 L1489.5,122.0 L1490.5,122.1 L1491.6,122.1 L1492.7,122.1 L1493.7,122.1 L1494.8,122.1 L1495.8,122.1 L1496.9,122.2 L1497.9,122.2 L1499.0,122.2 L1500.1,122.2 L1501.1,122.2 L1502.2,122.2 L1503.2,122.2 L1504.3,122.3 L1505.3,122.3 L1506.4,122.3 L1507.5,122.3 L1508.5,122.3 L1509.6,122.3 L1510.6,122.4 L1511.7,122.4 L1512.7,122.4 L1513.8,122.4 L1514.8,122.4 L1515.9,122.4 L1517.0,122.5 L1518.0,122.5 L1519.1,122.5 L1520.1,122.5 L1521.2,122.5 L1522.2,122.5 L1523.3,122.5 L1524.4,122.6 L1525.4,122.6 L1526.5,122.6 L1527.5,122.6 L1528.6,122.6 L1529.6,122.6 L1530.7,122.7 L1531.8,122.7 L1532.8,122.7 L1533.9,122.7 L1534.9,122.7 L1536.0,122.7 L1537.0,122.8 L1538.1,122.8 L1539.2,122.8 L1540.2,122.8 L1541.3,122.8 L1542.3,122.8 L1543.4,122.8 L1544.4,122.9 L1545.5,122.9 L1546.6,122.9 L1547.6,122.9 L1548.7,122.9 L1549.7,122.9 L1550.8,122.9 L1551.8,123.0 L1552.9,123.0 L1554.0,123.0 L1555.0,123.0 L1556.1,123.0 L1557.1,123.0 L1558.2,123.1 L1559.2,123.1 L1560.3,123.1 L1561.3,123.1 L1562.4,123.1 L1563.5,123.1 L1564.5,123.1 L1565.6,123.2 L1566.6,123.2 L1567.7,123.2 L1568.7,123.2 L1569.8,123.2 L1570.9,123.2 L1571.9,123.2 L1573.0,123.3 L1574.0,123.3 L1575.1,123.3 L1576.1,123.3 L1577.2,123.3 L1578.3,123.3 L1579.3,123.3 L1580.4,123.4 L1581.4,123.4 L1582.5,123.4 L1583.5,123.4 L1584.6,123.4 L1585.7,123.4 L1586.7,123.4 L1587.8,123.5 L1588.8,123.5 L1589.9,123.5 L1590.9,123.5 L1592.0,123.5 L1593.1,123.5 L1594.1,123.5 L1595.2,123.5 L1596.2,123.6 L1597.3,123.6 L1598.3,123.6 L1599.4,123.6 L1600.4,123.6 L1601.5,123.6 L1602.6,123.6 L1603.6,123.7 L1604.7,123.7 L1605.7,123.7 L1606.8,123.7 L1607.8,123.7 L1608.9,123.7 L1610.0,123.7 L1611.0,123.8 L1612.1,123.8 L1613.1,123.8 L1614.2,123.8 L1615.2,123.8 L1616.3,123.8 L1617.4,123.8 L1618.4,123.8 L1619.5,123.9 L1620.5,123.9 L1621.6,123.9 L1622.6,123.9 L1623.7,123.9 L1624.8,123.9 L1625.8,123.9 L1626.9,123.9 L1627.9,124.0 L1629.0,124.0 L1630.0,124.0 L1631.1,124.0 L1632.2,124.0 L1633.2,124.0 L1634.3,124.0 L1635.3,124.1 L1636.4,124.1 L1637.4,124.1 L1638.5,124.1 L1639.6,124.1 L1640.6,124.1 L1641.7,124.1 L1642.7,124.1 L1643.8,124.2 L1644.8,124.2 L1645.9,124.2 L1646.9,124.2 L1648.0,124.2 L1649.1,124.2 L1650.1,124.2 L1651.2,124.2 L1652.2,124.3 L1653.3,124.3 L1654.3,124.3 L1655.4,124.3 L1656.5,124.3 L1657.5,124.3 L1658.6,124.3 L1659.6,124.3 L1660.7,124.4 L1661.7,124.4 L1662.8,124.4 L1663.9,124.4 L1664.9,124.4 L1666.0,124.4 L1667.0,124.4 L1668.1,124.4 L1669.1,124.5 L1670.2,124.5 L1671.3,124.5 L1672.3,124.5 L1673.4,124.5 L1674.4,124.5 L1675.5,124.5 L1676.5,124.5 L1677.6,124.6 L1678.7,124.6 L1679.7,124.6 L1680.8,124.6 L1681.8,124.6 L1682.9,124.6 L1683.9,124.6 L1685.0,124.6 L1686.1,124.6 L1687.1,124.7 L1688.2,124.7 L1689.2,124.7 L1690.3,124.7 L1691.3,124.7 L1692.4,124.7 L1693.4,124.7 L1694.5,124.7 L1695.6,124.8 L1696.6,124.8 L1697.7,124.8 L1698.7,124.8 L1699.8,124.8 L1700.8,124.8 L1701.9,124.8 L1703.0,124.8 L1704.0,124.8 L1705.1,124.9 L1706.1,124.9 L1707.2,124.9 L1708.2,124.9 L1709.3,124.9 L1710.4,124.9 L1711.4,124.9 L1712.5,124.9 L1713.5,125.0 L1714.6,125.0 L1715.6,125.0 L1716.7,125.0 L1717.8,125.0 L1718.8,125.0 L1719.9,125.0 L1720.9,125.0 L1722.0,125.0 L1723.0,125.1 L1724.1,125.1 L1725.2,125.1 L1726.2,125.1 L1727.3,125.1 L1728.3,125.1 L1729.4,125.1 L1730.4,125.1 L1731.5,125.1 L1732.6,125.2 L1733.6,125.2 L1734.7,125.2 L1735.7,125.2 L1736.8,125.2 L1737.8,125.2 L1738.9,125.2 L1740.0,125.2 L1741.0,125.2 L1742.1,125.3 L1743.1,125.3 L1744.2,125.3 L1745.2,125.3 L1746.3,125.3 L1747.3,125.3 L1748.4,125.3 L1749.5,125.3 L1750.5,125.3 L1751.6,125.4 L1752.6,125.4 L1753.7,125.4 L1754.7,125.4 L1755.8,125.4 L1756.9,125.4 L1757.9,125.4 L1759.0,125.4 L1760.0,125.4 L1761.1,125.5 L1762.1,125.5 L1763.2,125.5 L1764.3,125.5 L1765.3,125.5 L1766.4,125.5 L1767.4,125.5 L1768.5,125.5 L1769.5,125.5 L1770.6,125.6 L1771.7,125.6 L1772.7,125.6 L1773.8,125.6 L1774.8,125.6 L1775.9,125.6 L1776.9,125.6 L1778.0,125.6 L1779.1,125.6 L1780.1,125.7 L1781.2,125.7 L1782.2,125.7 L1783.3,125.7 L1784.3,125.7 L1785.4,125.7 L1786.5,125.7 L1787.5,125.7 L1788.6,125.7 L1789.6,125.8 L1790.7,125.8 L1791.7,125.8 L1792.8,125.8 L1793.8,125.8 L1794.9,125.8 L1796.0,125.8 L1797.0,125.8 L1798.1,125.8 L1799.1,125.9 L1800.2,125.9 L1801.2,125.9 L1802.3,125.9 L1803.4,125.9 L1804.4,125.9 L1805.5,125.9 L1806.5,125.9 L1807.6,125.9 L1808.6,126.0 L1809.7,126.0 L1810.8,126.0 L1811.8,126.0 L1812.9,126.0 L1813.9,126.0 L1815.0,126.0 L1816.0,126.0 L1817.1,126.0 L1818.2,126.1 L1819.2,126.1 L1820.3,126.1 L1821.3,126.1 L1822.4,126.1 L1823.4,126.1 L1824.5,126.1 L1825.6,126.1 L1826.6,126.1 L1827.7,126.1 L1828.7,126.2 L1829.8,126.2 L1830.8,126.2 L1831.9,126.2 L1833.0,126.2 L1834.0,126.2 L1835.1,126.2 L1836.1,126.2 L1837.2,126.2 L1838.2,126.3 L1839.3,126.3 L1840.4,126.3 L1841.4,126.3 L1842.5,126.3 L1843.5,126.3 L1844.6,126.3 L1845.6,126.3 L1846.7,126.3 L1847.7,126.4 L1848.8,126.4 L1849.9,126.4 L1850.9,126.4 L1852.0,126.4 L1853.0,126.4 L1854.1,126.4 L1855.1,126.4 L1856.2,126.4 L1857.3,126.5 L1858.3,126.5 L1859.4,126.5 L1860.4,126.5 L1861.5,126.5 L1862.5,126.5 L1863.6,126.5 L1864.7,126.5 L1865.7,126.5 L1866.8,126.5 L1867.8,126.6 L1868.9,126.6 L1869.9,126.6 L1871.0,126.6 L1872.1,126.6 L1873.1,126.6 L1874.2,126.6 L1875.2,126.6 L1876.3,126.6 L1877.3,126.7 L1878.4,126.7 L1879.5,126.7 L1880.5,126.7 L1881.6,126.7 L1882.6,126.7 L1883.7,126.7 L1884.7,126.7 L1885.8,126.7 L1886.9,126.8 L1887.9,126.8 L1889.0,126.8 L1890.0,126.8 L1891.1,126.8 L1892.1,126.8 L1893.2,126.8 L1894.3,126.8 L1895.3,126.8 L1896.4,126.9 L1897.4,126.9 L1898.5,126.9 L1899.5,126.9 L1900.6,126.9 L1901.6,126.9 L1902.7,126.9 L1903.8,126.9 L1904.8,126.9 L1905.9,127.0 L1906.9,127.0 L1908.0,127.0 L1909.0,127.0 L1910.1,127.0 L1911.2,127.0 L1912.2,127.0 L1913.3,127.0 L1914.3,127.0 L1915.4,127.1 L1916.4,127.1 L1917.5,127.1 L1918.6,127.1 L1919.6,127.1 L1920.7,127.1 L1921.7,127.1 L1922.8,127.1 L1923.8,127.1 L1924.9,127.2 L1926.0,127.2 L1927.0,127.2 L1928.1,127.2 L1929.1,127.2 L1930.2,127.2 L1931.2,127.2 L1932.3,127.2 L1933.4,127.2 L1934.4,127.3 L1935.5,127.3 L1936.5,127.3 L1937.6,127.3 L1938.6,127.3 L1939.7,127.3 L1940.8,127.3 L1941.8,127.3 L1942.9,127.3 L1943.9,127.4 L1945.0,127.4 L1946.0,127.4 L1947.1,127.4 L1948.2,127.4 L1949.2,127.4 L1950.3,127.4 L1951.3,127.4 L1952.4,127.4 L1953.4,127.5 L1954.5,127.5 L1955.5,127.5 L1956.6,127.5 L1957.7,127.5 L1958.7,127.5 L1959.8,127.5 L1960.8,127.5 L1961.9,127.6 L1962.9,127.6 L1964.0,127.6 L1965.1,127.6 L1966.1,127.6 L1967.2,127.6 L1968.2,127.6 L1969.3,127.6 L1970.3,127.6 L1971.4,127.7 L1972.5,127.7 L1973.5,127.7 L1974.6,127.7 L1975.6,127.7 L1976.7,127.7 L1977.7,127.7 L1978.8,127.7 L1979.9,127.8 L1980.9,127.8 L1982.0,127.8 L1983.0,127.8 L1984.1,127.8 L1985.1,127.8 L1986.2,127.8 L1987.3,127.8 L1988.3,127.8 L1989.4,127.9 L1990.4,127.9 L1991.5,127.9 L1992.5,127.9 L1993.6,127.9 L1994.7,127.9 L1995.7,127.9 L1996.8,127.9 L1997.8,128.0 L1998.9,128.0 L1999.9,128.0 L2001.0,128.0 L2002.0,128.0 L2003.1,128.0 L2004.2,128.0 L2005.2,128.0 L2006.3,128.1 L2007.3,128.1 L2008.4,128.1 L2009.4,128.1 L2010.5,128.1 L2011.6,128.1 L2012.6,128.1 L2013.7,128.1 L2014.7,128.2 L2015.8,128.2 L2016.8,128.2 L2017.9,128.2 L2019.0,128.2 L2020.0,128.2 L2021.1,128.2 L2022.1,128.2 L2023.2,128.3 L2024.2,128.3 L2025.3,128.3 L2026.4,128.3 L2027.4,128.3 L2028.5,128.3 L2029.5,128.3 L2030.6,128.3 L2031.6,128.4 L2032.7,128.4 L2033.8,128.4 L2034.8,128.4 L2035.9,128.4 L2036.9,128.4 L2038.0,128.4 L2039.0,128.4 L2040.1,128.5 L2041.2,128.5 L2042.2,128.5 L2043.3,128.5 L2044.3,128.5 L2045.4,128.5 L2046.4,128.5 L2047.5,128.6 L2048.5,128.6 L2049.6,128.6 L2050.7,128.6 L2051.7,128.6 L2052.8,128.6 L2053.8,128.6 L2054.9,128.6 L2055.9,128.7 L2057.0,128.7 L2058.1,128.7 L2059.1,128.7 L2060.2,128.7 L2061.2,128.7 L2062.3,128.7 L2063.3,128.8 L2064.4,128.8 L2065.5,128.8 L2066.5,128.8 L2067.6,128.8 L2068.6,128.8 L2069.7,128.8 L2070.7,128.8 L2071.8,128.9 L2072.9,128.9 L2073.9,128.9 L2075.0,128.9 L2076.0,128.9 L2077.1,128.9 L2078.1,128.9 L2079.2,129.0 L2080.3,129.0 L2081.3,129.0 L2082.4,129.0 L2083.4,129.0 L2084.5,129.0 L2085.5,129.0 L2086.6,129.1 L2087.7,129.1 L2088.7,129.1 L2089.8,129.1 L2090.8,129.1 L2091.9,129.1 L2092.9,129.1 L2094.0,129.2 L2095.0,129.2 L2096.1,129.2 L2097.2,129.2 L2098.2,129.2 L2099.3,129.2 L2100.3,129.2 L2101.4,129.3 L2102.4,129.3 L2103.5,129.3 L2104.6,129.3 L2105.6,129.3 L2106.7,129.3 L2107.7,129.3 L2108.8,129.4 L2109.8,129.4 L2110.9,129.4 L2112.0,129.4 L2113.0,129.4 L2114.1,129.4 L2115.1,129.4 L2116.2,129.5 L2117.2,129.5 L2118.3,129.5 L2119.4,129.5 L2120.4,129.5 L2121.5,129.5 L2122.5,129.5 L2123.6,129.6 L2124.6,129.6 L2125.7,129.6 L2126.8,129.6 L2127.8,129.6 L2128.9,129.6 L2129.9,129.7 L2131.0,129.7 L2132.0,129.7 L2133.1,129.7 L2134.1,129.7 L2135.2,129.7 L2136.3,129.7 L2137.3,129.8 L2138.4,129.8 L2139.4,129.8 L2140.5,129.8 L2141.5,129.8 L2142.6,129.8 L2143.7,129.9 L2144.7,129.9 L2145.8,129.9 L2146.8,129.9 L2147.9,129.9 L2148.9,129.9 L2150.0,129.9 L2151.1,130.0 L2152.1,130.0 L2153.2,130.0 L2154.2,130.0 L2155.3,130.0 L2156.3,130.0 L2157.4,130.1" stroke="#0000ff" stroke-width="7.0" stroke-dasharray="35.48 13.305 8.87 13.305" stroke-dashoffset="0.6"/>
<path d="M362.4,1419.9 L362.4,1.4" stroke="#000" stroke-width="7" stroke-dasharray="4.1 13.635"/>
<path d="M269.6,1422.2 L269.7,1421.2 L269.9,1420.1 L270.0,1419.1 L270.2,1418.1 L270.3,1417.1 L270.5,1416.0 L270.6,1415.0 L270.8,1414.0 L270.9,1413.0 L271.1,1411.9 L271.3,1410.9 L271.4,1409.9 L271.6,1408.9 L271.7,1407.8 L271.9,1406.8 L272.0,1405.8 L272.2,1404.8 L272.3,1403.7 L272.5,1402.7 L272.6,1401.7 L272.7,1400.6 L272.9,1399.6 L273.0,1398.6 L273.2,1397.6 L273.3,1396.5 L273.5,1395.5 L273.6,1394.5 L273.7,1393.5 L273.8,1392.4 L274.0,1391.4 L274.1,1390.4 L274.2,1389.3 L274.3,1388.3 L274.5,1387.3 L274.6,1386.2 L274.7,1385.2 L274.8,1384.2 L274.9,1383.2 L275.0,1382.1 L275.1,1381.1 L275.2,1380.1 L275.3,1379.0 L275.4,1378.0 L275.4,1377.0 L275.5,1375.9 L275.6,1374.9 L275.7,1373.9 L275.7,1372.8 L275.8,1371.8 L275.8,1370.8 L275.9,1369.7 L276.0,1368.7 L276.0,1367.6 L276.1,1366.6 L276.1,1365.6 L276.1,1364.5 L276.2,1363.5 L276.2,1362.5 L276.3,1361.4 L276.3,1360.4 L276.3,1359.4 L276.4,1358.3 L276.4,1357.3 L276.4,1356.2 L276.5,1355.2 L276.5,1354.2 L276.5,1353.1 L276.5,1352.1 L276.6,1351.1 L276.6,1350.0 L276.6,1349.0 L276.7,1348.0 L276.7,1346.9 L276.7,1345.9 L276.7,1344.8 L276.8,1343.8 L276.8,1342.8 L276.8,1341.7 L276.9,1340.7 L276.9,1339.7 L276.9,1338.6 L276.9,1337.6 L277.0,1336.5 L277.0,1335.5 L277.0,1334.5 L277.1,1333.4 L277.1,1332.4 L277.1,1331.4 L277.2,1330.3 L277.2,1329.3 L277.2,1328.3 L277.3,1327.2 L277.3,1326.2 L277.3,1325.1 L277.3,1324.1 L277.4,1323.1 L277.4,1322.0 L277.4,1321.0 L277.5,1320.0 L277.5,1318.9 L277.5,1317.9 L277.6,1316.8 L277.6,1315.8 L277.6,1314.8 L277.7,1313.7 L277.7,1312.7 L277.7,1311.7 L277.8,1310.6 L277.8,1309.6 L277.8,1308.6 L277.9,1307.5 L277.9,1306.5 L277.9,1305.4 L278.0,1304.4 L278.0,1303.4 L278.0,1302.3 L278.1,1301.3 L278.1,1300.3 L278.1,1299.2 L278.2,1298.2 L278.2,1297.2 L278.2,1296.1 L278.3,1295.1 L278.3,1294.0 L278.3,1293.0 L278.4,1292.0 L278.4,1290.9 L278.4,1289.9 L278.5,1288.9 L278.5,1287.8 L278.5,1286.8 L278.6,1285.7 L278.6,1284.7 L278.6,1283.7 L278.7,1282.6 L278.7,1281.6 L278.7,1280.6 L278.8,1279.5 L278.8,1278.5 L278.8,1277.5 L278.9,1276.4 L278.9,1275.4 L278.9,1274.3 L279.0,1273.3 L279.0,1272.3 L279.0,1271.2 L279.1,1270.2 L279.1,1269.2 L279.1,1268.1 L279.2,1267.1 L279.2,1266.1 L279.2,1265.0 L279.3,1264.0 L279.3,1262.9 L279.3,1261.9 L279.4,1260.9 L279.4,1259.8 L279.4,1258.8 L279.5,1257.8 L279.5,1256.7 L279.5,1255.7 L279.6,1254.7 L279.6,1253.6 L279.6,1252.6 L279.7,1251.5 L279.7,1250.5 L279.7,1249.5 L279.8,1248.4 L279.8,1247.4 L279.8,1246.4 L279.9,1245.3 L279.9,1244.3 L279.9,1243.3 L279.9,1242.2 L280.0,1241.2 L280.0,1240.1 L280.0,1239.1 L280.1,1238.1 L280.1,1237.0 L280.1,1236.0 L280.2,1235.0 L280.2,1233.9 L280.2,1232.9 L280.3,1231.8 L280.3,1230.8 L280.3,1229.8 L280.3,1228.7 L280.4,1227.7 L280.4,1226.7 L280.4,1225.6 L280.5,1224.6 L280.5,1223.6 L280.5,1222.5 L280.6,1221.5 L280.6,1220.4 L280.6,1219.4 L280.6,1218.4 L280.7,1217.3 L280.7,1216.3 L280.7,1215.3 L280.8,1214.2 L280.8,1213.2 L280.8,1212.2 L280.8,1211.1 L280.9,1210.1 L280.9,1209.0 L280.9,1208.0 L281.0,1207.0 L281.0,1205.9 L281.0,1204.9 L281.0,1203.9 L281.1,1202.8 L281.1,1201.8 L281.1,1200.8 L281.2,1199.7 L281.2,1198.7 L281.2,1197.6 L281.2,1196.6 L281.3,1195.6 L281.3,1194.5 L281.3,1193.5 L281.3,1192.5 L281.4,1191.4 L281.4,1190.4 L281.4,1189.3 L281.5,1188.3 L281.5,1187.3 L281.5,1186.2 L281.5,1185.2 L281.6,1184.2 L281.6,1183.1 L281.6,1182.1 L281.6,1181.1 L281.7,1180.0 L281.7,1179.0 L281.7,1177.9 L281.7,1176.9 L281.8,1175.9 L281.8,1174.8 L281.8,1173.8 L281.8,1172.8 L281.9,1171.7 L281.9,1170.7 L281.9,1169.7 L281.9,1168.6 L282.0,1167.6 L282.0,1166.5 L282.0,1165.5 L282.0,1164.5 L282.1,1163.4 L282.1,1162.4 L282.1,1161.4 L282.1,1160.3 L282.2,1159.3 L282.2,1158.2 L282.2,1157.2 L282.2,1156.2 L282.3,1155.1 L282.3,1154.1 L282.3,1153.1 L282.3,1152.0 L282.4,1151.0 L282.4,1150.0 L282.4,1148.9 L282.4,1147.9 L282.5,1146.8 L282.5,1145.8 L282.5,1144.8 L282.5,1143.7 L282.5,1142.7 L282.6,1141.7 L282.6,1140.6 L282.6,1139.6 L282.6,1138.5 L282.7,1137.5 L282.7,1136.5 L282.7,1135.4 L282.7,1134.4 L282.8,1133.4 L282.8,1132.3 L282.8,1131.3 L282.8,1130.3 L282.8,1129.2 L282.9,1128.2 L282.9,1127.1 L282.9,1126.1 L282.9,1125.1 L283.0,1124.0 L283.0,1123.0 L283.0,1122.0 L283.0,1120.9 L283.1,1119.9 L283.1,1118.8 L283.1,1117.8 L283.1,1116.8 L283.1,1115.7 L283.2,1114.7 L283.2,1113.7 L283.2,1112.6 L283.2,1111.6 L283.3,1110.6 L283.3,1109.5 L283.3,1108.5 L283.3,1107.4 L283.3,1106.4 L283.4,1105.4 L283.4,1104.3 L283.4,1103.3 L283.4,1102.3 L283.4,1101.2 L283.5,1100.2 L283.5,1099.1 L283.5,1098.1 L283.5,1097.1 L283.6,1096.0 L283.6,1095.0 L283.6,1094.0 L283.6,1092.9 L283.6,1091.9 L283.7,1090.9 L283.7,1089.8 L283.7,1088.8 L283.7,1087.7 L283.7,1086.7 L283.8,1085.7 L283.8,1084.6 L283.8,1083.6 L283.8,1082.6 L283.9,1081.5 L283.9,1080.5 L283.9,1079.4 L283.9,1078.4 L283.9,1077.4 L284.0,1076.3 L284.0,1075.3 L284.0,1074.3 L284.0,1073.2 L284.0,1072.2 L284.1,1071.2 L284.1,1070.1 L284.1,1069.1 L284.1,1068.0 L284.1,1067.0 L284.2,1066.0 L284.2,1064.9 L284.2,1063.9 L284.2,1062.9 L284.2,1061.8 L284.3,1060.8 L284.3,1059.7 L284.3,1058.7 L284.3,1057.7 L284.4,1056.6 L284.4,1055.6 L284.4,1054.6 L284.4,1053.5 L284.4,1052.5 L284.5,1051.4 L284.5,1050.4 L284.5,1049.4 L284.5,1048.3 L284.5,1047.3 L284.6,1046.3 L284.6,1045.2 L284.6,1044.2 L284.6,1043.2 L284.6,1042.1 L284.7,1041.1 L284.7,1040.0 L284.7,1039.0 L284.7,1038.0 L284.7,1036.9 L284.8,1035.9 L284.8,1034.9 L284.8,1033.8 L284.8,1032.8 L284.8,1031.7 L284.9,1030.7 L284.9,1029.7 L284.9,1028.6 L284.9,1027.6 L285.0,1026.6 L285.0,1025.5 L285.0,1024.5 L285.0,1023.5 L285.0,1022.4 L285.1,1021.4 L285.1,1020.3 L285.1,1019.3 L285.1,1018.3 L285.1,1017.2 L285.2,1016.2 L285.2,1015.2 L285.2,1014.1 L285.2,1013.1 L285.2,1012.0 L285.3,1011.0 L285.3,1010.0 L285.3,1008.9 L285.3,1007.9 L285.3,1006.9 L285.4,1005.8 L285.4,1004.8 L285.4,1003.8 L285.4,1002.7 L285.5,1001.7 L285.5,1000.6 L285.5,999.6 L285.5,998.6 L285.5,997.5 L285.6,996.5 L285.6,995.5 L285.6,994.4 L285.6,993.4 L285.6,992.3 L285.7,991.3 L285.7,990.3 L285.7,989.2 L285.7,988.2 L285.8,987.2 L285.8,986.1 L285.8,985.1 L285.8,984.1 L285.8,983.0 L285.9,982.0 L285.9,980.9 L285.9,979.9 L285.9,978.9 L285.9,977.8 L286.0,976.8 L286.0,975.8 L286.0,974.7 L286.0,973.7 L286.1,972.6 L286.1,971.6 L286.1,970.6 L286.1,969.5 L286.1,968.5 L286.2,967.5 L286.2,966.4 L286.2,965.4 L286.2,964.4 L286.2,963.3 L286.3,962.3 L286.3,961.2 L286.3,960.2 L286.3,959.2 L286.4,958.1 L286.4,957.1 L286.4,956.1 L286.4,955.0 L286.4,954.0 L286.5,952.9 L286.5,951.9 L286.5,950.9 L286.5,949.8 L286.6,948.8 L286.6,947.8 L286.6,946.7 L286.6,945.7 L286.6,944.7 L286.7,943.6 L286.7,942.6 L286.7,941.5 L286.7,940.5 L286.8,939.5 L286.8,938.4 L286.8,937.4 L286.8,936.4 L286.8,935.3 L286.9,934.3 L286.9,933.2 L286.9,932.2 L286.9,931.2 L287.0,930.1 L287.0,929.1 L287.0,928.1 L287.0,927.0 L287.0,926.0 L287.1,925.0 L287.1,923.9 L287.1,922.9 L287.1,921.8 L287.2,920.8 L287.2,919.8 L287.2,918.7 L287.2,917.7 L287.2,916.7 L287.3,915.6 L287.3,914.6 L287.3,913.5 L287.3,912.5 L287.4,911.5 L287.4,910.4 L287.4,909.4 L287.4,908.4 L287.5,907.3 L287.5,906.3 L287.5,905.3 L287.5,904.2 L287.5,903.2 L287.6,902.1 L287.6,901.1 L287.6,900.1 L287.6,899.0 L287.7,898.0 L287.7,897.0 L287.7,895.9 L287.7,894.9 L287.8,893.9 L287.8,892.8 L287.8,891.8 L287.8,890.7 L287.8,889.7 L287.9,888.7 L287.9,887.6 L287.9,886.6 L287.9,885.6 L288.0,884.5 L288.0,883.5 L288.0,882.4 L288.0,881.4 L288.1,880.4 L288.1,879.3 L288.1,878.3 L288.1,877.3 L288.2,876.2 L288.2,875.2 L288.2,874.2 L288.2,873.1 L288.2,872.1 L288.3,871.0 L288.3,870.0 L288.3,869.0 L288.3,867.9 L288.4,866.9 L288.4,865.9 L288.4,864.8 L288.4,863.8 L288.5,862.7 L288.5,861.7 L288.5,860.7 L288.5,859.6 L288.6,858.6 L288.6,857.6 L288.6,856.5 L288.6,855.5 L288.6,854.5 L288.7,853.4 L288.7,852.4 L288.7,851.3 L288.7,850.3 L288.8,849.3 L288.8,848.2 L288.8,847.2 L288.8,846.2 L288.9,845.1 L288.9,844.1 L288.9,843.0 L288.9,842.0 L289.0,841.0 L289.0,839.9 L289.0,838.9 L289.0,837.9 L289.1,836.8 L289.1,835.8 L289.1,834.8 L289.1,833.7 L289.2,832.7 L289.2,831.6 L289.2,830.6 L289.2,829.6 L289.3,828.5 L289.3,827.5 L289.3,826.5 L289.3,825.4 L289.4,824.4 L289.4,823.4 L289.4,822.3 L289.4,821.3 L289.5,820.2 L289.5,819.2 L289.5,818.2 L289.5,817.1 L289.6,816.1 L289.6,815.1 L289.6,814.0 L289.6,813.0 L289.6,811.9 L289.7,810.9 L289.7,809.9 L289.7,808.8 L289.7,807.8 L289.8,806.8 L289.8,805.7 L289.8,804.7 L289.8,803.7 L289.9,802.6 L289.9,801.6 L289.9,800.5 L289.9,799.5 L290.0,798.5 L290.0,797.4 L290.0,796.4 L290.0,795.4 L290.1,794.3 L290.1,793.3 L290.1,792.2 L290.1,791.2 L290.2,790.2 L290.2,789.1 L290.2,788.1 L290.3,787.1 L290.3,786.0 L290.3,785.0 L290.3,784.0 L290.4,782.9 L290.4,781.9 L290.4,780.8 L290.4,779.8 L290.5,778.8 L290.5,777.7 L290.5,776.7 L290.5,775.7 L290.6,774.6 L290.6,773.6 L290.6,772.6 L290.6,771.5 L290.7,770.5 L290.7,769.4 L290.7,768.4 L290.7,767.4 L290.8,766.3 L290.8,765.3 L290.8,764.3 L290.8,763.2 L290.9,762.2 L290.9,761.1 L290.9,760.1 L290.9,759.1 L291.0,758.0 L291.0,757.0 L291.0,756.0 L291.0,754.9 L291.1,753.9 L291.1,752.9 L291.1,751.8 L291.2,750.8 L291.2,749.7 L291.2,748.7 L291.2,747.7 L291.3,746.6 L291.3,745.6 L291.3,744.6 L291.3,743.5 L291.4,742.5 L291.4,741.4 L291.4,740.4 L291.4,739.4 L291.5,738.3 L291.5,737.3 L291.5,736.3 L291.6,735.2 L291.6,734.2 L291.6,733.2 L291.6,732.1 L291.7,731.1 L291.7,730.0 L291.7,729.0 L291.7,728.0 L291.8,726.9 L291.8,725.9 L291.8,724.9 L291.8,723.8 L291.9,722.8 L291.9,721.8 L291.9,720.7 L292.0,719.7 L292.0,718.6 L292.0,717.6 L292.0,716.6 L292.1,715.5 L292.1,714.5 L292.1,713.5 L292.1,712.4 L292.2,711.4 L292.2,710.3 L292.2,709.3 L292.3,708.3 L292.3,707.2 L292.3,706.2 L292.3,705.2 L292.4,704.1 L292.4,703.1 L292.4,702.1 L292.5,701.0 L292.5,700.0 L292.5,698.9 L292.5,697.9 L292.6,696.9 L292.6,695.8 L292.6,694.8 L292.6,693.8 L292.7,692.7 L292.7,691.7 L292.7,690.7 L292.8,689.6 L292.8,688.6 L292.8,687.5 L292.8,686.5 L292.9,685.5 L292.9,684.4 L292.9,683.4 L293.0,682.4 L293.0,681.3 L293.0,680.3 L293.0,679.2 L293.1,678.2 L293.1,677.2 L293.1,676.1 L293.2,675.1 L293.2,674.1 L293.2,673.0 L293.2,672.0 L293.3,671.0 L293.3,669.9 L293.3,668.9 L293.4,667.8 L293.4,666.8 L293.4,665.8 L293.4,664.7 L293.5,663.7 L293.5,662.7 L293.5,661.6 L293.6,660.6 L293.6,659.6 L293.6,658.5 L293.7,657.5 L293.7,656.4 L293.7,655.4 L293.7,654.4 L293.8,653.3 L293.8,652.3 L293.8,651.3 L293.9,650.2 L293.9,649.2 L293.9,648.1 L293.9,647.1 L294.0,646.1 L294.0,645.0 L294.0,644.0 L294.1,643.0 L294.1,641.9 L294.1,640.9 L294.2,639.9 L294.2,638.8 L294.2,637.8 L294.3,636.7 L294.3,635.7 L294.3,634.7 L294.3,633.6 L294.4,632.6 L294.4,631.6 L294.4,630.5 L294.5,629.5 L294.5,628.5 L294.5,627.4 L294.6,626.4 L294.6,625.3 L294.6,624.3 L294.6,623.3 L294.7,622.2 L294.7,621.2 L294.7,620.2 L294.8,619.1 L294.8,618.1 L294.8,617.0 L294.9,616.0 L294.9,615.0 L294.9,613.9 L295.0,612.9 L295.0,611.9 L295.0,610.8 L295.1,609.8 L295.1,608.8 L295.1,607.7 L295.2,606.7 L295.2,605.6 L295.2,604.6 L295.2,603.6 L295.3,602.5 L295.3,601.5 L295.3,600.5 L295.4,599.4 L295.4,598.4 L295.4,597.4 L295.5,596.3 L295.5,595.3 L295.5,594.2 L295.6,593.2 L295.6,592.2 L295.6,591.1 L295.7,590.1 L295.7,589.1 L295.7,588.0 L295.8,587.0 L295.8,586.0 L295.8,584.9 L295.9,583.9 L295.9,582.8 L295.9,581.8 L296.0,580.8 L296.0,579.7 L296.0,578.7 L296.1,577.7 L296.1,576.6 L296.1,575.6 L296.2,574.5 L296.2,573.5 L296.2,572.5 L296.3,571.4 L296.3,570.4 L296.3,569.4 L296.4,568.3 L296.4,567.3 L296.4,566.3 L296.5,565.2 L296.5,564.2 L296.5,563.1 L296.6,562.1 L296.6,561.1 L296.6,560.0 L296.7,559.0 L296.7,558.0 L296.7,556.9 L296.8,555.9 L296.8,554.9 L296.8,553.8 L296.9,552.8 L296.9,551.7 L296.9,550.7 L297.0,549.7 L297.0,548.6 L297.0,547.6 L297.1,546.6 L297.1,545.5 L297.1,544.5 L297.2,543.5 L297.2,542.4 L297.3,541.4 L297.3,540.3 L297.3,539.3 L297.4,538.3 L297.4,537.2 L297.4,536.2 L297.5,535.2 L297.5,534.1 L297.5,533.1 L297.6,532.1 L297.6,531.0 L297.6,530.0 L297.7,528.9 L297.7,527.9 L297.7,526.9 L297.8,525.8 L297.8,524.8 L297.9,523.8 L297.9,522.7 L297.9,521.7 L298.0,520.7 L298.0,519.6 L298.0,518.6 L298.1,517.5 L298.1,516.5 L298.1,515.5 L298.2,514.4 L298.2,513.4 L298.3,512.4 L298.3,511.3 L298.3,510.3 L298.4,509.3 L298.4,508.2 L298.4,507.2 L298.5,506.1 L298.5,505.1 L298.6,504.1 L298.6,503.0 L298.6,502.0 L298.7,501.0 L298.7,499.9 L298.7,498.9 L298.8,497.9 L298.8,496.8 L298.9,495.8 L298.9,494.7 L298.9,493.7 L299.0,492.7 L299.0,491.6 L299.0,490.6 L299.1,489.6 L299.1,488.5 L299.2,487.5 L299.2,486.5 L299.2,485.4 L299.3,484.4 L299.3,483.3 L299.4,482.3 L299.4,481.3 L299.4,480.2 L299.5,479.2 L299.5,478.2 L299.5,477.1 L299.6,476.1 L299.6,475.1 L299.7,474.0 L299.7,473.0 L299.7,471.9 L299.8,470.9 L299.8,469.9 L299.9,468.8 L299.9,467.8 L299.9,466.8 L300.0,465.7 L300.0,464.7 L300.1,463.7 L300.1,462.6 L300.1,461.6 L300.2,460.5 L300.2,459.5 L300.3,458.5 L300.3,457.4 L300.3,456.4 L300.4,455.4 L300.4,454.3 L300.5,453.3 L300.5,452.3 L300.5,451.2 L300.6,450.2 L300.6,449.1 L300.7,448.1 L300.7,447.1 L300.8,446.0 L300.8,445.0 L300.8,444.0 L300.9,442.9 L300.9,441.9 L301.0,440.9 L301.0,439.8 L301.0,438.8 L301.1,437.7 L301.1,436.7 L301.2,435.7 L301.2,434.6 L301.2,433.6 L301.3,432.6 L301.3,431.5 L301.4,430.5 L301.4,429.5 L301.5,428.4 L301.5,427.4 L301.5,426.3 L301.6,425.3 L301.6,424.3 L301.7,423.2 L301.7,422.2 L301.8,421.2 L301.8,420.1 L301.8,419.1 L301.9,418.1 L301.9,417.0 L302.0,416.0 L302.0,414.9 L302.1,413.9 L302.1,412.9 L302.1,411.8 L302.2,410.8 L302.2,409.8 L302.3,408.7 L302.3,407.7 L302.4,406.7 L302.4,405.6 L302.5,404.6 L302.5,403.6 L302.5,402.5 L302.6,401.5 L302.6,400.4 L302.7,399.4 L302.7,398.4 L302.8,397.3 L302.8,396.3 L302.9,395.3 L302.9,394.2 L302.9,393.2 L303.0,392.2 L303.0,391.1 L303.1,390.1 L303.1,389.0 L303.2,388.0 L303.2,387.0 L303.3,385.9 L303.3,384.9 L303.4,383.9 L303.4,382.8 L303.5,381.8 L303.5,380.8 L303.5,379.7 L303.6,378.7 L303.6,377.6 L303.7,376.6 L303.7,375.6 L303.8,374.5 L303.8,373.5 L303.9,372.5 L303.9,371.4 L304.0,370.4 L304.0,369.4 L304.1,368.3 L304.1,367.3 L304.2,366.3 L304.2,365.2 L304.3,364.2 L304.3,363.1 L304.4,362.1 L304.4,361.1 L304.5,360.0 L304.5,359.0 L304.6,358.0 L304.6,356.9 L304.7,355.9 L304.7,354.9 L304.8,353.8 L304.9,352.8 L304.9,351.8 L305.0,350.7 L305.0,349.7 L305.1,348.6 L305.1,347.6 L305.2,346.6 L305.2,345.5 L305.3,344.5 L305.3,343.5 L305.4,342.4 L305.5,341.4 L305.5,340.4 L305.6,339.3 L305.6,338.3 L305.7,337.3 L305.7,336.2 L305.8,335.2 L305.9,334.2 L305.9,333.1 L306.0,332.1 L306.0,331.0 L306.1,330.0 L306.2,329.0 L306.2,327.9 L306.3,326.9 L306.3,325.9 L306.4,324.8 L306.5,323.8 L306.5,322.8 L306.6,321.7 L306.7,320.7 L306.7,319.7 L306.8,318.6 L306.9,317.6 L306.9,316.6 L307.0,315.5 L307.0,314.5 L307.1,313.4 L307.2,312.4 L307.2,311.4 L307.3,310.3 L307.4,309.3 L307.5,308.3 L307.5,307.2 L307.6,306.2 L307.7,305.2 L307.7,304.1 L307.8,303.1 L307.9,302.1 L307.9,301.0 L308.0,300.0 L308.1,299.0 L308.2,297.9 L308.2,296.9 L308.3,295.9 L308.4,294.8 L308.5,293.8 L308.5,292.8 L308.6,291.7 L308.7,290.7 L308.8,289.7 L308.8,288.6 L308.9,287.6 L309.0,286.6 L309.1,285.5 L309.2,284.5 L309.2,283.5 L309.3,282.4 L309.4,281.4 L309.5,280.3 L309.6,279.3 L309.7,278.3 L309.7,277.2 L309.8,276.2 L309.9,275.2 L310.0,274.1 L310.1,273.1 L310.2,272.1 L310.3,271.0 L310.3,270.0 L310.4,269.0 L310.5,267.9 L310.6,266.9 L310.7,265.9 L310.8,264.8 L310.9,263.8 L311.0,262.8 L311.1,261.7 L311.2,260.7 L311.3,259.7 L311.4,258.6 L311.4,257.6 L311.5,256.6 L311.6,255.5 L311.7,254.5 L311.8,253.5 L311.9,252.5 L312.0,251.4 L312.1,250.4 L312.2,249.4 L312.3,248.3 L312.4,247.3 L312.5,246.3 L312.6,245.2 L312.7,244.2 L312.9,243.2 L313.0,242.1 L313.1,241.1 L313.2,240.1 L313.3,239.0 L313.4,238.0 L313.5,237.0 L313.6,235.9 L313.7,234.9 L313.8,233.9 L313.9,232.8 L314.1,231.8 L314.2,230.8 L314.3,229.7 L314.4,228.7 L314.5,227.7 L314.6,226.6 L314.7,225.6 L314.9,224.6 L315.0,223.6 L315.1,222.5 L315.2,221.5 L315.3,220.5 L315.5,219.4 L315.6,218.4 L315.7,217.4 L315.8,216.3 L316.0,215.3 L316.1,214.3 L316.2,213.2 L316.3,212.2 L316.5,211.2 L316.6,210.1 L316.7,209.1 L316.9,208.1 L317.0,207.1 L317.1,206.0 L317.3,205.0 L317.4,204.0 L317.6,203.0 L317.7,201.9 L317.9,200.9 L318.0,199.9 L318.2,198.9 L318.4,197.9 L318.6,196.9 L318.7,195.8 L318.9,194.8 L319.1,193.8 L319.3,192.8 L319.5,191.8 L319.7,190.8 L319.9,189.8 L320.1,188.8 L320.3,187.8 L320.5,186.8 L320.7,185.8 L320.9,184.8 L321.2,183.8 L321.4,182.8 L321.6,181.8 L321.8,180.7 L322.0,179.7 L322.2,178.7 L322.4,177.7 L322.7,176.7 L322.9,175.6 L323.1,174.6 L323.3,173.6 L323.5,172.5 L323.7,171.5 L323.9,170.4 L324.0,169.4 L324.2,168.3 L324.4,167.2 L324.6,166.2 L324.8,165.1 L325.0,164.1 L325.2,163.0 L325.5,162.0 L325.7,160.9 L325.9,159.9 L326.2,158.8 L326.4,157.8 L326.7,156.8 L327.0,155.8 L327.3,154.8 L327.6,153.8 L327.9,152.8 L328.3,151.8 L328.6,150.8 L329.0,149.9 L329.4,149.0 L329.9,148.1 L330.3,147.2 L330.8,146.3 L331.3,145.4 L331.9,144.6 L332.5,143.7 L333.1,142.9 L333.7,142.2 L334.4,141.4 L335.1,140.7 L335.8,140.0 L336.6,139.3 L337.4,138.6 L338.2,138.0 L339.1,137.5 L339.9,136.9 L340.9,136.5 L341.8,136.1 L342.7,135.7 L343.7,135.4 L344.7,135.1 L345.7,134.9 L346.7,134.7 L347.8,134.5 L348.8,134.3 L349.8,134.2 L350.9,134.2 L351.9,134.1 L353.0,134.1 L354.1,134.0 L355.1,134.0 L356.1,134.0 L357.2,134.0 L358.2,134.1 L359.3,134.1 L360.3,134.1 L361.4,134.2 L362.4,134.2 L363.4,134.2 L364.5,134.3 L365.5,134.3 L366.5,134.3 L367.6,134.3 L368.6,134.3 L369.6,134.3 L370.7,134.3 L371.7,134.2 L372.7,134.2 L373.8,134.1 L374.8,134.0 L375.8,133.9 L376.9,133.8 L377.9,133.7 L378.9,133.5 L379.9,133.4 L381.0,133.3 L382.0,133.1 L383.0,133.0 L384.1,132.9 L385.1,132.7 L386.1,132.6 L387.2,132.5 L388.2,132.4 L389.2,132.3 L390.2,132.2 L391.3,132.1 L392.3,132.1 L393.3,132.0 L394.4,132.0 L395.4,132.0 L396.5,132.0 L397.5,131.9 L398.5,131.9 L399.6,131.9 L400.6,131.9 L401.6,131.9 L402.7,131.9 L403.7,131.9 L404.7,131.9 L405.8,131.9 L406.8,131.8 L407.9,131.8 L408.9,131.8 L409.9,131.8 L411.0,131.8 L412.0,131.8 L413.0,131.8 L414.1,131.8 L415.1,131.8 L416.2,131.8 L417.2,131.8 L418.2,131.7 L419.3,131.7 L420.3,131.7 L421.3,131.7 L422.4,131.7 L423.4,131.7 L424.4,131.7 L425.5,131.7 L426.5,131.7 L427.6,131.7 L428.6,131.7 L429.6,131.7 L430.7,131.7 L431.7,131.7 L432.7,131.7 L433.8,131.6 L434.8,131.6 L435.9,131.6 L436.9,131.6 L437.9,131.6 L439.0,131.6 L440.0,131.6 L441.0,131.6 L442.1,131.6 L443.1,131.6 L444.2,131.6 L445.2,131.6 L446.2,131.6 L447.3,131.6 L448.3,131.6 L449.3,131.6 L450.4,131.6 L451.4,131.6 L452.4,131.6 L453.5,131.6 L454.5,131.6 L455.6,131.6 L456.6,131.6 L457.6,131.5 L458.7,131.5 L459.7,131.5 L460.7,131.5 L461.8,131.5 L462.8,131.5 L463.9,131.5 L464.9,131.5 L465.9,131.5 L467.0,131.5 L468.0,131.5 L469.0,131.5 L470.1,131.5 L471.1,131.5 L472.1,131.5 L473.2,131.5 L474.2,131.5 L475.3,131.5 L476.3,131.5 L477.3,131.5 L478.4,131.5 L479.4,131.5 L480.4,131.5 L481.5,131.5 L482.5,131.5 L483.6,131.5 L484.6,131.5 L485.6,131.5 L486.7,131.5 L487.7,131.5 L488.7,131.5 L489.8,131.5 L490.8,131.5 L491.9,131.5 L492.9,131.5 L493.9,131.5 L495.0,131.5 L496.0,131.5 L497.0,131.5 L498.1,131.5 L499.1,131.5 L500.2,131.5 L501.2,131.5 L502.2,131.5 L503.3,131.5 L504.3,131.5 L505.3,131.5 L506.4,131.5 L507.4,131.5 L508.4,131.5 L509.5,131.5 L510.5,131.5 L511.6,131.5 L512.6,131.5 L513.6,131.5 L514.7,131.5 L515.7,131.5 L516.7,131.5 L517.8,131.4 L518.8,131.4 L519.9,131.4 L520.9,131.4 L521.9,131.4 L523.0,131.4 L524.0,131.4 L525.0,131.4 L526.1,131.4 L527.1,131.4 L528.2,131.4 L529.2,131.4 L530.2,131.4 L531.3,131.4 L532.3,131.4 L533.3,131.4 L534.4,131.4 L535.4,131.4 L536.4,131.4 L537.5,131.4 L538.5,131.4 L539.6,131.4 L540.6,131.4 L541.6,131.4 L542.7,131.4 L543.7,131.4 L544.7,131.4 L545.8,131.4 L546.8,131.4 L547.9,131.4 L548.9,131.4 L549.9,131.4 L551.0,131.4 L552.0,131.4 L553.0,131.4 L554.1,131.4 L555.1,131.4 L556.2,131.4 L557.2,131.4 L558.2,131.4 L559.3,131.4 L560.3,131.4 L561.3,131.4 L562.4,131.4 L563.4,131.4 L564.5,131.4 L565.5,131.4 L566.5,131.4 L567.6,131.4 L568.6,131.4 L569.6,131.4 L570.7,131.4 L571.7,131.4 L572.7,131.4 L573.8,131.4 L574.8,131.4 L575.9,131.4 L576.9,131.4 L577.9,131.4 L579.0,131.4 L580.0,131.4 L581.0,131.4 L582.1,131.4 L583.1,131.4 L584.2,131.4 L585.2,131.4 L586.2,131.4 L587.3,131.4 L588.3,131.4 L589.3,131.4 L590.4,131.4 L591.4,131.4 L592.5,131.4 L593.5,131.4 L594.5,131.4 L595.6,131.4 L596.6,131.4 L597.6,131.4 L598.7,131.4 L599.7,131.4 L600.7,131.3 L601.8,131.3 L602.8,131.3 L603.9,131.3 L604.9,131.3 L605.9,131.3 L607.0,131.3 L608.0,131.3 L609.0,131.3 L610.1,131.3 L611.1,131.3 L612.2,131.3 L613.2,131.3 L614.2,131.3 L615.3,131.3 L616.3,131.3 L617.3,131.3 L618.4,131.3 L619.4,131.3 L620.5,131.3 L621.5,131.3 L622.5,131.3 L623.6,131.3 L624.6,131.3 L625.6,131.3 L626.7,131.3 L627.7,131.3 L628.8,131.3 L629.8,131.3 L630.8,131.3 L631.9,131.3 L632.9,131.3 L633.9,131.3 L635.0,131.3 L636.0,131.3 L637.0,131.3 L638.1,131.3 L639.1,131.3 L640.2,131.3 L641.2,131.3 L642.2,131.3 L643.3,131.3 L644.3,131.3 L645.3,131.3 L646.4,131.3 L647.4,131.3 L648.5,131.3 L649.5,131.3 L650.5,131.3 L651.6,131.3 L652.6,131.3 L653.6,131.3 L654.7,131.3 L655.7,131.3 L656.8,131.3 L657.8,131.3 L658.8,131.3 L659.9,131.3 L660.9,131.3 L661.9,131.3 L663.0,131.3 L664.0,131.3 L665.0,131.3 L666.1,131.3 L667.1,131.3 L668.2,131.3 L669.2,131.3 L670.2,131.3 L671.3,131.3 L672.3,131.3 L673.3,131.3 L674.4,131.3 L675.4,131.3 L676.5,131.3 L677.5,131.3 L678.5,131.3 L679.6,131.3 L680.6,131.3 L681.6,131.3 L682.7,131.3 L683.7,131.3 L684.8,131.3 L685.8,131.3 L686.8,131.2 L687.9,131.2 L688.9,131.2 L689.9,131.2 L691.0,131.2 L692.0,131.2 L693.1,131.2 L694.1,131.2 L695.1,131.2 L696.2,131.2 L697.2,131.2 L698.2,131.2 L699.3,131.2 L700.3,131.2 L701.3,131.2 L702.4,131.2 L703.4,131.2 L704.5,131.2 L705.5,131.2 L706.5,131.2 L707.6,131.2 L708.6,131.2 L709.6,131.2 L710.7,131.2 L711.7,131.2 L712.8,131.2 L713.8,131.2 L714.8,131.2 L715.9,131.2 L716.9,131.2 L717.9,131.2 L719.0,131.2 L720.0,131.2 L721.1,131.2 L722.1,131.2 L723.1,131.2 L724.2,131.2 L725.2,131.2 L726.2,131.2 L727.3,131.2 L728.3,131.2 L729.3,131.2 L730.4,131.2 L731.4,131.2 L732.5,131.2 L733.5,131.2 L734.5,131.2 L735.6,131.2 L736.6,131.2 L737.6,131.2 L738.7,131.2 L739.7,131.2 L740.8,131.2 L741.8,131.2 L742.8,131.2 L743.9,131.2 L744.9,131.2 L745.9,131.2 L747.0,131.2 L748.0,131.2 L749.1,131.2 L750.1,131.2 L751.1,131.2 L752.2,131.2 L753.2,131.2 L754.2,131.2 L755.3,131.2 L756.3,131.2 L757.4,131.2 L758.4,131.2 L759.4,131.2 L760.5,131.2 L761.5,131.2 L762.5,131.2 L763.6,131.2 L764.6,131.2 L765.6,131.2 L766.7,131.2 L767.7,131.2 L768.8,131.2 L769.8,131.2 L770.8,131.2 L771.9,131.2 L772.9,131.2 L773.9,131.2 L775.0,131.2 L776.0,131.1 L777.1,131.1 L778.1,131.1 L779.1,131.1 L780.2,131.1 L781.2,131.1 L782.2,131.1 L783.3,131.1 L784.3,131.1 L785.4,131.1 L786.4,131.1 L787.4,131.1 L788.5,131.1 L789.5,131.1 L790.5,131.1 L791.6,131.1 L792.6,131.1 L793.6,131.1 L794.7,131.1 L795.7,131.1 L796.8,131.1 L797.8,131.1 L798.8,131.1 L799.9,131.1 L800.9,131.1 L801.9,131.1 L803.0,131.1 L804.0,131.1 L805.1,131.1 L806.1,131.1 L807.1,131.1 L808.2,131.1 L809.2,131.1 L810.2,131.1 L811.3,131.1 L812.3,131.1 L813.4,131.1 L814.4,131.1 L815.4,131.1 L816.5,131.1 L817.5,131.1 L818.5,131.1 L819.6,131.1 L820.6,131.1 L821.6,131.1 L822.7,131.1 L823.7,131.1 L824.8,131.1 L825.8,131.1 L826.8,131.1 L827.9,131.1 L828.9,131.1 L829.9,131.1 L831.0,131.1 L832.0,131.1 L833.1,131.1 L834.1,131.1 L835.1,131.1 L836.2,131.1 L837.2,131.1 L838.2,131.1 L839.3,131.1 L840.3,131.1 L841.4,131.1 L842.4,131.1 L843.4,131.1 L844.5,131.1 L845.5,131.1 L846.5,131.1 L847.6,131.1 L848.6,131.1 L849.7,131.1 L850.7,131.1 L851.7,131.1 L852.8,131.1 L853.8,131.1 L854.8,131.1 L855.9,131.1 L856.9,131.1 L857.9,131.1 L859.0,131.1 L860.0,131.1 L861.1,131.1 L862.1,131.1 L863.1,131.1 L864.2,131.1 L865.2,131.1 L866.2,131.1 L867.3,131.1 L868.3,131.0 L869.4,131.0 L870.4,131.0 L871.4,131.0 L872.5,131.0 L873.5,131.0 L874.5,131.0 L875.6,131.0 L876.6,131.0 L877.7,131.0 L878.7,131.0 L879.7,131.0 L880.8,131.0 L881.8,131.0 L882.8,131.0 L883.9,131.0 L884.9,131.0 L885.9,131.0 L887.0,131.0 L888.0,131.0 L889.1,131.0 L890.1,131.0 L891.1,131.0 L892.2,131.0 L893.2,131.0 L894.2,131.0 L895.3,131.0 L896.3,131.0 L897.4,131.0 L898.4,131.0 L899.4,131.0 L900.5,131.0 L901.5,131.0 L902.5,131.0 L903.6,131.0 L904.6,131.0 L905.7,131.0 L906.7,131.0 L907.7,131.0 L908.8,131.0 L909.8,131.0 L910.8,131.0 L911.9,131.0 L912.9,131.0 L913.9,131.0 L915.0,131.0 L916.0,131.0 L917.1,131.0 L918.1,131.0 L919.1,131.0 L920.2,131.0 L921.2,131.0 L922.2,131.0 L923.3,131.0 L924.3,131.0 L925.4,131.0 L926.4,131.0 L927.4,131.0 L928.5,131.0 L929.5,131.0 L930.5,131.0 L931.6,131.0 L932.6,131.0 L933.7,131.0 L934.7,131.0 L935.7,131.0 L936.8,131.0 L937.8,131.0 L938.8,131.0 L939.9,131.0 L940.9,131.0 L942.0,131.0 L943.0,131.0 L944.0,131.0 L945.1,131.0 L946.1,131.0 L947.1,131.0 L948.2,131.0 L949.2,131.0 L950.2,131.0 L951.3,131.0 L952.3,131.0 L953.4,131.0 L954.4,131.0 L955.4,131.0 L956.5,131.0 L957.5,131.0 L958.5,131.0 L959.6,131.0 L960.6,131.0 L961.7,131.0 L962.7,131.0 L963.7,131.0 L964.8,131.0 L965.8,130.9 L966.8,130.9 L967.9,130.9 L968.9,130.9 L970.0,130.9 L971.0,130.9 L972.0,130.9 L973.1,130.9 L974.1,130.9 L975.1,130.9 L976.2,130.9 L977.2,130.9 L978.2,130.9 L979.3,130.9 L980.3,130.9 L981.4,130.9 L982.4,130.9 L983.4,130.9 L984.5,130.9 L985.5,130.9 L986.5,130.9 L987.6,130.9 L988.6,130.9 L989.7,130.9 L990.7,130.9 L991.7,130.9 L992.8,130.9 L993.8,130.9 L994.8,130.9 L995.9,130.9 L996.9,130.9 L998.0,130.9 L999.0,130.9 L1000.0,130.9 L1001.1,130.9 L1002.1,130.9 L1003.1,130.9 L1004.2,130.9 L1005.2,130.9 L1006.2,130.9 L1007.3,130.9 L1008.3,130.9 L1009.4,130.9 L1010.4,130.9 L1011.4,130.9 L1012.5,130.9 L1013.5,130.9 L1014.5,130.9 L1015.6,130.9 L1016.6,130.9 L1017.7,130.9 L1018.7,130.9 L1019.7,130.9 L1020.8,130.9 L1021.8,130.9 L1022.8,130.9 L1023.9,130.9 L1024.9,130.9 L1026.0,130.9 L1027.0,130.9 L1028.0,130.9 L1029.1,130.9 L1030.1,130.9 L1031.1,130.9 L1032.2,130.9 L1033.2,130.9 L1034.3,130.9 L1035.3,130.9 L1036.3,130.9 L1037.4,130.9 L1038.4,130.9 L1039.4,130.9 L1040.5,130.9 L1041.5,130.9 L1042.5,130.9 L1043.6,130.9 L1044.6,130.9 L1045.7,130.9 L1046.7,130.9 L1047.7,130.9 L1048.8,130.9 L1049.8,130.9 L1050.8,130.9 L1051.9,130.9 L1052.9,130.9 L1054.0,130.9 L1055.0,130.9 L1056.0,130.9 L1057.1,130.9 L1058.1,130.9 L1059.1,130.9 L1060.2,130.9 L1061.2,130.9 L1062.3,130.9 L1063.3,130.9 L1064.3,130.9 L1065.4,130.9 L1066.4,130.9 L1067.4,130.9 L1068.5,130.9 L1069.5,130.8 L1070.5,130.8 L1071.6,130.8 L1072.6,130.8 L1073.7,130.8 L1074.7,130.8 L1075.7,130.8 L1076.8,130.8 L1077.8,130.8 L1078.8,130.8 L1079.9,130.8 L1080.9,130.8 L1082.0,130.8 L1083.0,130.8 L1084.0,130.8 L1085.1,130.8 L1086.1,130.8 L1087.1,130.8 L1088.2,130.8 L1089.2,130.8 L1090.3,130.8 L1091.3,130.8 L1092.3,130.8 L1093.4,130.8 L1094.4,130.8 L1095.4,130.8 L1096.5,130.8 L1097.5,130.8 L1098.5,130.8 L1099.6,130.8 L1100.6,130.8 L1101.7,130.8 L1102.7,130.8 L1103.7,130.8 L1104.8,130.8 L1105.8,130.8 L1106.8,130.8 L1107.9,130.8 L1108.9,130.8 L1110.0,130.8 L1111.0,130.8 L1112.0,130.8 L1113.1,130.8 L1114.1,130.8 L1115.1,130.8 L1116.2,130.8 L1117.2,130.8 L1118.3,130.8 L1119.3,130.8 L1120.3,130.8 L1121.4,130.8 L1122.4,130.8 L1123.4,130.8 L1124.5,130.8 L1125.5,130.8 L1126.5,130.8 L1127.6,130.8 L1128.6,130.8 L1129.7,130.8 L1130.7,130.8 L1131.7,130.8 L1132.8,130.8 L1133.8,130.8 L1134.8,130.8 L1135.9,130.8 L1136.9,130.8 L1138.0,130.8 L1139.0,130.8 L1140.0,130.8 L1141.1,130.8 L1142.1,130.8 L1143.1,130.8 L1144.2,130.8 L1145.2,130.8 L1146.3,130.8 L1147.3,130.8 L1148.3,130.8 L1149.4,130.8 L1150.4,130.8 L1151.4,130.8 L1152.5,130.8 L1153.5,130.8 L1154.6,130.8 L1155.6,130.8 L1156.6,130.8 L1157.7,130.8 L1158.7,130.8 L1159.7,130.8 L1160.8,130.8 L1161.8,130.8 L1162.8,130.8 L1163.9,130.8 L1164.9,130.8 L1166.0,130.8 L1167.0,130.8 L1168.0,130.8 L1169.1,130.8 L1170.1,130.8 L1171.1,130.8 L1172.2,130.8 L1173.2,130.8 L1174.3,130.8 L1175.3,130.8 L1176.3,130.8 L1177.4,130.8 L1178.4,130.8 L1179.4,130.8 L1180.5,130.8 L1181.5,130.8 L1182.6,130.7 L1183.6,130.7 L1184.6,130.7 L1185.7,130.7 L1186.7,130.7 L1187.7,130.7 L1188.8,130.7 L1189.8,130.7 L1190.8,130.7 L1191.9,130.7 L1192.9,130.7 L1194.0,130.7 L1195.0,130.7 L1196.0,130.7 L1197.1,130.7 L1198.1,130.7 L1199.1,130.7 L1200.2,130.7 L1201.2,130.7 L1202.3,130.7 L1203.3,130.7 L1204.3,130.7 L1205.4,130.7 L1206.4,130.7 L1207.4,130.7 L1208.5,130.7 L1209.5,130.7 L1210.6,130.7 L1211.6,130.7 L1212.6,130.7 L1213.7,130.7 L1214.7,130.7 L1215.7,130.7 L1216.8,130.7 L1217.8,130.7 L1218.8,130.7 L1219.9,130.7 L1220.9,130.7 L1222.0,130.7 L1223.0,130.7 L1224.0,130.7 L1225.1,130.7 L1226.1,130.7 L1227.1,130.7 L1228.2,130.7 L1229.2,130.7 L1230.3,130.7 L1231.3,130.7 L1232.3,130.7 L1233.4,130.7 L1234.4,130.7 L1235.4,130.7 L1236.5,130.7 L1237.5,130.7 L1238.6,130.7 L1239.6,130.7 L1240.6,130.7 L1241.7,130.7 L1242.7,130.7 L1243.7,130.7 L1244.8,130.7 L1245.8,130.7 L1246.9,130.7 L1247.9,130.7 L1248.9,130.7 L1250.0,130.7 L1251.0,130.7 L1252.0,130.7 L1253.1,130.7 L1254.1,130.7 L1255.1,130.7 L1256.2,130.7 L1257.2,130.7 L1258.3,130.7 L1259.3,130.7 L1260.3,130.7 L1261.4,130.7 L1262.4,130.7 L1263.4,130.7 L1264.5,130.7 L1265.5,130.7 L1266.6,130.7 L1267.6,130.7 L1268.6,130.7 L1269.7,130.7 L1270.7,130.7 L1271.7,130.7 L1272.8,130.7 L1273.8,130.7 L1274.9,130.7 L1275.9,130.7 L1276.9,130.7 L1278.0,130.7 L1279.0,130.7 L1280.0,130.7 L1281.1,130.7 L1282.1,130.7 L1283.1,130.7 L1284.2,130.7 L1285.2,130.7 L1286.3,130.7 L1287.3,130.7 L1288.3,130.7 L1289.4,130.7 L1290.4,130.7 L1291.4,130.7 L1292.5,130.7 L1293.5,130.7 L1294.6,130.7 L1295.6,130.7 L1296.6,130.7 L1297.7,130.7 L1298.7,130.7 L1299.7,130.7 L1300.8,130.7 L1301.8,130.7 L1302.9,130.7 L1303.9,130.7 L1304.9,130.7 L1306.0,130.7 L1307.0,130.7 L1308.0,130.6 L1309.1,130.6 L1310.1,130.6 L1311.1,130.6 L1312.2,130.6 L1313.2,130.6 L1314.3,130.6 L1315.3,130.6 L1316.3,130.6 L1317.4,130.6 L1318.4,130.6 L1319.4,130.6 L1320.5,130.6 L1321.5,130.6 L1322.6,130.6 L1323.6,130.6 L1324.6,130.6 L1325.7,130.6 L1326.7,130.6 L1327.7,130.6 L1328.8,130.6 L1329.8,130.6 L1330.9,130.6 L1331.9,130.6 L1332.9,130.6 L1334.0,130.6 L1335.0,130.6 L1336.0,130.6 L1337.1,130.6 L1338.1,130.6 L1339.1,130.6 L1340.2,130.6 L1341.2,130.6 L1342.3,130.6 L1343.3,130.6 L1344.3,130.6 L1345.4,130.6 L1346.4,130.6 L1347.4,130.6 L1348.5,130.6 L1349.5,130.6 L1350.6,130.6 L1351.6,130.6 L1352.6,130.6 L1353.7,130.6 L1354.7,130.6 L1355.7,130.6 L1356.8,130.6 L1357.8,130.6 L1358.9,130.6 L1359.9,130.6 L1360.9,130.6 L1362.0,130.6 L1363.0,130.6 L1364.0,130.6 L1365.1,130.6 L1366.1,130.6 L1367.2,130.6 L1368.2,130.6 L1369.2,130.6 L1370.3,130.6 L1371.3,130.6 L1372.3,130.6 L1373.4,130.6 L1374.4,130.6 L1375.4,130.6 L1376.5,130.6 L1377.5,130.6 L1378.6,130.6 L1379.6,130.6 L1380.6,130.6 L1381.7,130.6 L1382.7,130.6 L1383.7,130.6 L1384.8,130.6 L1385.8,130.6 L1386.9,130.6 L1387.9,130.6 L1388.9,130.6 L1390.0,130.6 L1391.0,130.6 L1392.0,130.6 L1393.1,130.6 L1394.1,130.6 L1395.2,130.6 L1396.2,130.6 L1397.2,130.6 L1398.3,130.6 L1399.3,130.6 L1400.3,130.6 L1401.4,130.6 L1402.4,130.6 L1403.4,130.6 L1404.5,130.6 L1405.5,130.6 L1406.6,130.6 L1407.6,130.6 L1408.6,130.6 L1409.7,130.6 L1410.7,130.6 L1411.7,130.6 L1412.8,130.6 L1413.8,130.6 L1414.9,130.6 L1415.9,130.6 L1416.9,130.6 L1418.0,130.6 L1419.0,130.6 L1420.0,130.6 L1421.1,130.6 L1422.1,130.6 L1423.2,130.6 L1424.2,130.6 L1425.2,130.6 L1426.3,130.6 L1427.3,130.6 L1428.3,130.6 L1429.4,130.6 L1430.4,130.6 L1431.4,130.6 L1432.5,130.6 L1433.5,130.6 L1434.6,130.6 L1435.6,130.6 L1436.6,130.6 L1437.7,130.6 L1438.7,130.6 L1439.7,130.6 L1440.8,130.6 L1441.8,130.6 L1442.9,130.6 L1443.9,130.6 L1444.9,130.6 L1446.0,130.6 L1447.0,130.6 L1448.0,130.6 L1449.1,130.6 L1450.1,130.6 L1451.2,130.6 L1452.2,130.6 L1453.2,130.6 L1454.3,130.6 L1455.3,130.6 L1456.3,130.5 L1457.4,130.5 L1458.4,130.5 L1459.4,130.5 L1460.5,130.5 L1461.5,130.5 L1462.6,130.5 L1463.6,130.5 L1464.6,130.5 L1465.7,130.5 L1466.7,130.5 L1467.7,130.5 L1468.8,130.5 L1469.8,130.5 L1470.9,130.5 L1471.9,130.5 L1472.9,130.5 L1474.0,130.5 L1475.0,130.5 L1476.0,130.5 L1477.1,130.5 L1478.1,130.5 L1479.2,130.5 L1480.2,130.5 L1481.2,130.5 L1482.3,130.5 L1483.3,130.5 L1484.3,130.5 L1485.4,130.5 L1486.4,130.5 L1487.5,130.5 L1488.5,130.5 L1489.5,130.5 L1490.6,130.5 L1491.6,130.5 L1492.6,130.5 L1493.7,130.5 L1494.7,130.5 L1495.7,130.5 L1496.8,130.5 L1497.8,130.5 L1498.9,130.5 L1499.9,130.5 L1500.9,130.5 L1502.0,130.5 L1503.0,130.5 L1504.0,130.5 L1505.1,130.5 L1506.1,130.5 L1507.2,130.5 L1508.2,130.5 L1509.2,130.5 L1510.3,130.5 L1511.3,130.5 L1512.3,130.5 L1513.4,130.5 L1514.4,130.5 L1515.5,130.5 L1516.5,130.5 L1517.5,130.5 L1518.6,130.5 L1519.6,130.5 L1520.6,130.5 L1521.7,130.5 L1522.7,130.5 L1523.7,130.5 L1524.8,130.5 L1525.8,130.5 L1526.9,130.5 L1527.9,130.5 L1528.9,130.5 L1530.0,130.5 L1531.0,130.5 L1532.0,130.5 L1533.1,130.5 L1534.1,130.5 L1535.2,130.5 L1536.2,130.5 L1537.2,130.5 L1538.3,130.5 L1539.3,130.5 L1540.3,130.5 L1541.4,130.5 L1542.4,130.5 L1543.5,130.5 L1544.5,130.5 L1545.5,130.5 L1546.6,130.5 L1547.6,130.5 L1548.6,130.5 L1549.7,130.5 L1550.7,130.5 L1551.7,130.5 L1552.8,130.5 L1553.8,130.5 L1554.9,130.5 L1555.9,130.5 L1556.9,130.5 L1558.0,130.5 L1559.0,130.5 L1560.0,130.5 L1561.1,130.5 L1562.1,130.5 L1563.2,130.5 L1564.2,130.5 L1565.2,130.5 L1566.3,130.5 L1567.3,130.5 L1568.3,130.5 L1569.4,130.5 L1570.4,130.5 L1571.5,130.5 L1572.5,130.5 L1573.5,130.5 L1574.6,130.5 L1575.6,130.5 L1576.6,130.5 L1577.7,130.5 L1578.7,130.5 L1579.7,130.5 L1580.8,130.5 L1581.8,130.5 L1582.9,130.5 L1583.9,130.5 L1584.9,130.5 L1586.0,130.5 L1587.0,130.5 L1588.0,130.5 L1589.1,130.5 L1590.1,130.5 L1591.2,130.5 L1592.2,130.5 L1593.2,130.5 L1594.3,130.5 L1595.3,130.5 L1596.3,130.5 L1597.4,130.5 L1598.4,130.5 L1599.5,130.5 L1600.5,130.5 L1601.5,130.5 L1602.6,130.5 L1603.6,130.5 L1604.6,130.5 L1605.7,130.5 L1606.7,130.5 L1607.8,130.5 L1608.8,130.5 L1609.8,130.5 L1610.9,130.5 L1611.9,130.5 L1612.9,130.5 L1614.0,130.5 L1615.0,130.5 L1616.0,130.5 L1617.1,130.5 L1618.1,130.5 L1619.2,130.5 L1620.2,130.5 L1621.2,130.5 L1622.3,130.5 L1623.3,130.5 L1624.3,130.5 L1625.4,130.5 L1626.4,130.5 L1627.5,130.5 L1628.5,130.5 L1629.5,130.5 L1630.6,130.5 L1631.6,130.5 L1632.6,130.5 L1633.7,130.5 L1634.7,130.5 L1635.8,130.5 L1636.8,130.5 L1637.8,130.5 L1638.9,130.5 L1639.9,130.5 L1640.9,130.5 L1642.0,130.5 L1643.0,130.5 L1644.0,130.5 L1645.1,130.5 L1646.1,130.5 L1647.2,130.5 L1648.2,130.5 L1649.2,130.5 L1650.3,130.5 L1651.3,130.5 L1652.3,130.5 L1653.4,130.4 L1654.4,130.4 L1655.5,130.4 L1656.5,130.4 L1657.5,130.4 L1658.6,130.4 L1659.6,130.4 L1660.6,130.4 L1661.7,130.4 L1662.7,130.4 L1663.8,130.4 L1664.8,130.4 L1665.8,130.4 L1666.9,130.4 L1667.9,130.4 L1668.9,130.4 L1670.0,130.4 L1671.0,130.4 L1672.0,130.4 L1673.1,130.4 L1674.1,130.4 L1675.2,130.4 L1676.2,130.4 L1677.2,130.4 L1678.3,130.4 L1679.3,130.4 L1680.3,130.4 L1681.4,130.4 L1682.4,130.4 L1683.5,130.4 L1684.5,130.4 L1685.5,130.4 L1686.6,130.4 L1687.6,130.4 L1688.6,130.4 L1689.7,130.4 L1690.7,130.4 L1691.8,130.4 L1692.8,130.4 L1693.8,130.4 L1694.9,130.4 L1695.9,130.4 L1696.9,130.4 L1698.0,130.4 L1699.0,130.4 L1700.0,130.4 L1701.1,130.4 L1702.1,130.4 L1703.2,130.4 L1704.2,130.4 L1705.2,130.4 L1706.3,130.4 L1707.3,130.4 L1708.3,130.4 L1709.4,130.4 L1710.4,130.4 L1711.5,130.4 L1712.5,130.4 L1713.5,130.4 L1714.6,130.4 L1715.6,130.4 L1716.6,130.4 L1717.7,130.4 L1718.7,130.4 L1719.8,130.4 L1720.8,130.4 L1721.8,130.4 L1722.9,130.4 L1723.9,130.4 L1724.9,130.4 L1726.0,130.4 L1727.0,130.4 L1728.1,130.4 L1729.1,130.4 L1730.1,130.4 L1731.2,130.4 L1732.2,130.4 L1733.2,130.4 L1734.3,130.4 L1735.3,130.4 L1736.3,130.4 L1737.4,130.4 L1738.4,130.4 L1739.5,130.4 L1740.5,130.4 L1741.5,130.4 L1742.6,130.4 L1743.6,130.4 L1744.6,130.4 L1745.7,130.4 L1746.7,130.4 L1747.8,130.4 L1748.8,130.4 L1749.8,130.4 L1750.9,130.4 L1751.9,130.4 L1752.9,130.4 L1754.0,130.4 L1755.0,130.4 L1756.1,130.4 L1757.1,130.4 L1758.1,130.4 L1759.2,130.4 L1760.2,130.4 L1761.2,130.4 L1762.3,130.4 L1763.3,130.4 L1764.3,130.4 L1765.4,130.4 L1766.4,130.4 L1767.5,130.4 L1768.5,130.4 L1769.5,130.4 L1770.6,130.4 L1771.6,130.4 L1772.6,130.4 L1773.7,130.4 L1774.7,130.4 L1775.8,130.4 L1776.8,130.4 L1777.8,130.4 L1778.9,130.4 L1779.9,130.4 L1780.9,130.4 L1782.0,130.4 L1783.0,130.4 L1784.1,130.4 L1785.1,130.4 L1786.1,130.4 L1787.2,130.4 L1788.2,130.4 L1789.2,130.4 L1790.3,130.4 L1791.3,130.4 L1792.3,130.4 L1793.4,130.4 L1794.4,130.4 L1795.5,130.4 L1796.5,130.4 L1797.5,130.4 L1798.6,130.4 L1799.6,130.4 L1800.6,130.4 L1801.7,130.4 L1802.7,130.4 L1803.8,130.4 L1804.8,130.4 L1805.8,130.4 L1806.9,130.4 L1807.9,130.4 L1808.9,130.4 L1810.0,130.4 L1811.0,130.4 L1812.1,130.4 L1813.1,130.4 L1814.1,130.4 L1815.2,130.4 L1816.2,130.4 L1817.2,130.4 L1818.3,130.4 L1819.3,130.4 L1820.3,130.4 L1821.4,130.4 L1822.4,130.4 L1823.5,130.4 L1824.5,130.4 L1825.5,130.4 L1826.6,130.4 L1827.6,130.4 L1828.6,130.4 L1829.7,130.4 L1830.7,130.4 L1831.8,130.4 L1832.8,130.4 L1833.8,130.4 L1834.9,130.4 L1835.9,130.4 L1836.9,130.4 L1838.0,130.4 L1839.0,130.4 L1840.1,130.4 L1841.1,130.4 L1842.1,130.4 L1843.2,130.4 L1844.2,130.4 L1845.2,130.4 L1846.3,130.4 L1847.3,130.4 L1848.4,130.4 L1849.4,130.4 L1850.4,130.4 L1851.5,130.4 L1852.5,130.4 L1853.5,130.4 L1854.6,130.4 L1855.6,130.4 L1856.6,130.4 L1857.7,130.4 L1858.7,130.4 L1859.8,130.4 L1860.8,130.4 L1861.8,130.4 L1862.9,130.4 L1863.9,130.4 L1864.9,130.4 L1866.0,130.4 L1867.0,130.4 L1868.1,130.4 L1869.1,130.4 L1870.1,130.4 L1871.2,130.4 L1872.2,130.4 L1873.2,130.4 L1874.3,130.4 L1875.3,130.4 L1876.4,130.4 L1877.4,130.4 L1878.4,130.4 L1879.5,130.4 L1880.5,130.4 L1881.5,130.4 L1882.6,130.4 L1883.6,130.4 L1884.6,130.4 L1885.7,130.4 L1886.7,130.4 L1887.8,130.4 L1888.8,130.4 L1889.8,130.4 L1890.9,130.4 L1891.9,130.4 L1892.9,130.4 L1894.0,130.4 L1895.0,130.4 L1896.1,130.4 L1897.1,130.4 L1898.1,130.4 L1899.2,130.4 L1900.2,130.4 L1901.2,130.4 L1902.3,130.4 L1903.3,130.4 L1904.4,130.4 L1905.4,130.4 L1906.4,130.4 L1907.5,130.4 L1908.5,130.4 L1909.5,130.4 L1910.6,130.4 L1911.6,130.4 L1912.6,130.4 L1913.7,130.4 L1914.7,130.4 L1915.8,130.4 L1916.8,130.4 L1917.8,130.4 L1918.9,130.4 L1919.9,130.4 L1920.9,130.4 L1922.0,130.4 L1923.0,130.4 L1924.1,130.4 L1925.1,130.4 L1926.1,130.4 L1927.2,130.4 L1928.2,130.4 L1929.2,130.4 L1930.3,130.4 L1931.3,130.4 L1932.4,130.4 L1933.4,130.4 L1934.4,130.4 L1935.5,130.4 L1936.5,130.4 L1937.5,130.4 L1938.6,130.4 L1939.6,130.4 L1940.7,130.4 L1941.7,130.4 L1942.7,130.4 L1943.8,130.4 L1944.8,130.4 L1945.8,130.4 L1946.9,130.4 L1947.9,130.4 L1948.9,130.4 L1950.0,130.4 L1951.0,130.4 L1952.1,130.4 L1953.1,130.4 L1954.1,130.4 L1955.2,130.4 L1956.2,130.4 L1957.2,130.4 L1958.3,130.4 L1959.3,130.4 L1960.4,130.4 L1961.4,130.4 L1962.4,130.4 L1963.5,130.4 L1964.5,130.4 L1965.5,130.4 L1966.6,130.4 L1967.6,130.4 L1968.7,130.4 L1969.7,130.4 L1970.7,130.4 L1971.8,130.4 L1972.8,130.4 L1973.8,130.4 L1974.9,130.4 L1975.9,130.4 L1976.9,130.4 L1978.0,130.4 L1979.0,130.4 L1980.1,130.4 L1981.1,130.4 L1982.1,130.4 L1983.2,130.4 L1984.2,130.4 L1985.2,130.4 L1986.3,130.4 L1987.3,130.4 L1988.4,130.4 L1989.4,130.4 L1990.4,130.4 L1991.5,130.4 L1992.5,130.4 L1993.5,130.4 L1994.6,130.4 L1995.6,130.4 L1996.7,130.4 L1997.7,130.4 L1998.7,130.4 L1999.8,130.4 L2000.8,130.4 L2001.8,130.4 L2002.9,130.4 L2003.9,130.4 L2004.9,130.4 L2006.0,130.4 L2007.0,130.4 L2008.1,130.4 L2009.1,130.4 L2010.1,130.4 L2011.2,130.4 L2012.2,130.4 L2013.2,130.4 L2014.3,130.4 L2015.3,130.4 L2016.4,130.4 L2017.4,130.4 L2018.4,130.4 L2019.5,130.4 L2020.5,130.4 L2021.5,130.4 L2022.6,130.4 L2023.6,130.4 L2024.7,130.4 L2025.7,130.4 L2026.7,130.4 L2027.8,130.4 L2028.8,130.4 L2029.8,130.4 L2030.9,130.4 L2031.9,130.4 L2033.0,130.4 L2034.0,130.4 L2035.0,130.4 L2036.1,130.4 L2037.1,130.4 L2038.1,130.4 L2039.2,130.4 L2040.2,130.4 L2041.2,130.4 L2042.3,130.4 L2043.3,130.4 L2044.4,130.4 L2045.4,130.4 L2046.4,130.4 L2047.5,130.4 L2048.5,130.4 L2049.5,130.4 L2050.6,130.4 L2051.6,130.4 L2052.7,130.4 L2053.7,130.4 L2054.7,130.4 L2055.8,130.4 L2056.8,130.4 L2057.8,130.4 L2058.9,130.4 L2059.9,130.4 L2061.0,130.4 L2062.0,130.4 L2063.0,130.4 L2064.1,130.4 L2065.1,130.4 L2066.1,130.4 L2067.2,130.4 L2068.2,130.4 L2069.2,130.4 L2070.3,130.4 L2071.3,130.4 L2072.4,130.4 L2073.4,130.4 L2074.4,130.4 L2075.5,130.4 L2076.5,130.4 L2077.5,130.4 L2078.6,130.4 L2079.6,130.4 L2080.7,130.4 L2081.7,130.4 L2082.7,130.4 L2083.8,130.4 L2084.8,130.4 L2085.8,130.4 L2086.9,130.4 L2087.9,130.4 L2089.0,130.4 L2090.0,130.4 L2091.0,130.4 L2092.1,130.4 L2093.1,130.4 L2094.1,130.4 L2095.2,130.4 L2096.2,130.4 L2097.2,130.4 L2098.3,130.4 L2099.3,130.4 L2100.4,130.4 L2101.4,130.4 L2102.4,130.4 L2103.5,130.4 L2104.5,130.4 L2105.5,130.4 L2106.6,130.4 L2107.6,130.4 L2108.7,130.4 L2109.7,130.4 L2110.7,130.4 L2111.8,130.4 L2112.8,130.4 L2113.8,130.4 L2114.9,130.4 L2115.9,130.4 L2117.0,130.4 L2118.0,130.4 L2119.0,130.4 L2120.1,130.4 L2121.1,130.4 L2122.1,130.4 L2123.2,130.4 L2124.2,130.4 L2125.3,130.4 L2126.3,130.4 L2127.3,130.4 L2128.4,130.4 L2129.4,130.4 L2130.4,130.4 L2131.5,130.4 L2132.5,130.4 L2133.5,130.4 L2134.6,130.4 L2135.6,130.4 L2136.7,130.4 L2137.7,130.4 L2138.7,130.4 L2139.8,130.4 L2140.8,130.4 L2141.8,130.4 L2142.9,130.4 L2143.9,130.4 L2145.0,130.4 L2146.0,130.4 L2147.0,130.4 L2148.1,130.4 L2149.1,130.4 L2150.1,130.4 L2151.2,130.4 L2152.2,130.4 L2153.3,130.4 L2154.3,130.4 L2155.3,130.4 L2156.4,130.4 L2157.4,130.4" stroke="#ff0000" stroke-width="7.0" stroke-dasharray="44.349999999999994 26.61" stroke-dashoffset="-1.8"/>
</g>
<g font-size="66.7">
<text x="239.2" y="1180.6" text-anchor="end">0.2</text>
<text x="239.2" y="922.8" text-anchor="end">0.4</text>
<text x="239.2" y="664.9" text-anchor="end">0.6</text>
<text x="239.2" y="407.0" text-anchor="end">0.8</text>
<text x="239.2" y="149.1" text-anchor="end">1.0</text>
<text x="239.2" y="1502.2" text-anchor="end">0</text>
<text x="645.5" y="1502.2" text-anchor="middle">0.2</text>
<text x="1023.3" y="1502.2" text-anchor="middle">0.4</text>
<text x="1401.2" y="1502.2" text-anchor="middle">0.6</text>
<text x="1779.0" y="1502.2" text-anchor="middle">0.8</text>
<text x="2156.9" y="1502.2" text-anchor="middle">1.0</text>
</g>
<text x="1144.61" y="1607.00" font-size="79" font-style="italic" font-weight="bold" stroke="#fff" stroke-width="1.0" stroke-linejoin="miter">t</text>
<text x="1172.80" y="1620.50" font-size="103" >/</text>
<text x="1202.98" y="1606.60" font-size="80" font-style="italic" font-weight="bold" stroke="#fff" stroke-width="1.0" stroke-linejoin="miter">T</text>
<text x="1248.63" y="1618.00" font-size="53.5" font-style="italic" stroke="#000" stroke-width="0.5" stroke-linejoin="miter">d</text>
<text x="1.20" y="770.20" font-size="78.6" font-style="italic" font-weight="bold" stroke="#fff" stroke-width="1.0" stroke-linejoin="miter">X</text>
<text x="53.63" y="782.00" font-size="51" font-style="italic" stroke="#000" stroke-width="0.6" stroke-linejoin="miter">c</text>
<text x="77.66" y="782.00" font-size="51" font-style="italic" stroke="#000" stroke-width="0.6" stroke-linejoin="miter">i</text>
<rect x="2" y="704.8" width="52.5" height="4.2" fill="#000"/>
<text x="645.37" y="987.5" font-size="66.7">Primary jet stage</text>
<path d="M622,976.4 L340,1133.5" stroke="#000" stroke-width="2.8" fill="none"/>
<path d="M302.2,1154.6 L344.6,1104.6 L339.1,1133.7 L365.9,1144.6 Z" fill="#000"/>
<rect x="1727" y="533" width="372.4000000000001" height="332.5" fill="#fff" stroke="#000" stroke-width="3.1"/>
<g fill="none" stroke-width="7.0">
<path d="M1744.5,593.9 H1922" stroke="#000"/>
<path d="M1744.5,699.3 H1922" stroke="#0000ff" stroke-dasharray="35.48 13.305 8.87 13.305"/>
<path d="M1744.5,805.2 H1922" stroke="#ff0000" stroke-dasharray="44.349999999999994 26.61"/>
</g>
<text x="1963.48" y="618.80" font-size="67.0" font-style="italic" font-weight="bold" stroke="#fff" stroke-width="1.0" stroke-linejoin="miter">M</text>
<text x="2022.91" y="629.30" font-size="43.5" font-style="italic" stroke="#000" stroke-width="0.5" stroke-linejoin="miter">ce</text>
<rect x="1965.1" y="564" width="58.2" height="3.5" fill="#000"/>
<text x="1964.15" y="718.10" font-size="67.0" font-style="italic" font-weight="bold" stroke="#fff" stroke-width="1.0" stroke-linejoin="miter">I</text>
<text x="1990.71" y="728.60" font-size="43.5" font-style="italic" stroke="#000" stroke-width="0.5" stroke-linejoin="miter">cp</text>
<rect x="1965.1" y="663.1" width="25.8" height="3.5" fill="#000"/>
<text x="1964.69" y="826.50" font-size="67.0" font-style="italic" font-weight="bold" stroke="#fff" stroke-width="1.0" stroke-linejoin="miter">E</text>
<text x="2007.31" y="837.30" font-size="43.5" font-style="italic" stroke="#000" stroke-width="0.5" stroke-linejoin="miter" letter-spacing="0.8">cm</text>
<rect x="1965.1" y="772.2" width="42.2" height="3.5" fill="#000"/>
</svg></body></html>
